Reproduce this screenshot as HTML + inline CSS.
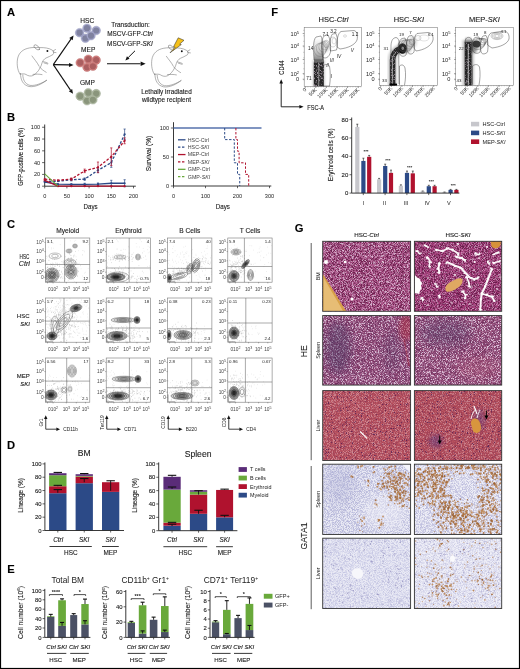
<!DOCTYPE html><html><head><meta charset="utf-8"><style>html,body{margin:0;padding:0;background:#fff;}svg{display:block; will-change:transform;} text{font-family:"Liberation Sans", sans-serif;} .s{stroke:#222; stroke-width:0.12px;}</style></head><body>
<svg width="520" height="669" viewBox="0 0 520 669" font-family="Liberation Sans, sans-serif">
<defs>
<filter id="b05" x="-50%" y="-50%" width="200%" height="200%"><feGaussianBlur stdDeviation="0.5"/></filter>
<filter id="b1" x="-50%" y="-50%" width="200%" height="200%"><feGaussianBlur stdDeviation="1"/></filter>
<filter id="b2" x="-50%" y="-50%" width="200%" height="200%"><feGaussianBlur stdDeviation="2"/></filter>
<filter id="b4" x="-50%" y="-50%" width="200%" height="200%"><feGaussianBlur stdDeviation="4"/></filter>
<filter id="b6" x="-50%" y="-50%" width="200%" height="200%"><feGaussianBlur stdDeviation="6"/></filter>
<filter id="swhite" x="0" y="0" width="100%" height="100%" color-interpolation-filters="sRGB"><feTurbulence type="fractalNoise" baseFrequency="1.31" numOctaves="2" seed="3"/><feColorMatrix type="matrix" values="0 0 0 0 0.922 0 0 0 0 0.843 0 0 0 0 0.922 6 0 0 0 -3.1"/><feGaussianBlur stdDeviation="0.45"/></filter>
<filter id="sdark" x="0" y="0" width="100%" height="100%" color-interpolation-filters="sRGB"><feTurbulence type="fractalNoise" baseFrequency="1.27" numOctaves="2" seed="11"/><feColorMatrix type="matrix" values="0 0 0 0 0.314 0 0 0 0 0.118 0 0 0 0 0.314 0 5 0 0 -2.1"/><feGaussianBlur stdDeviation="0.45"/></filter>
<filter id="spink" x="0" y="0" width="100%" height="100%" color-interpolation-filters="sRGB"><feTurbulence type="fractalNoise" baseFrequency="0.63" numOctaves="2" seed="5"/><feColorMatrix type="matrix" values="0 0 0 0 0.784 0 0 0 0 0.471 0 0 0 0 0.667 0 0 3 0 -1.2"/><feGaussianBlur stdDeviation="0.45"/></filter>
<filter id="sdarkr" x="0" y="0" width="100%" height="100%" color-interpolation-filters="sRGB"><feTurbulence type="fractalNoise" baseFrequency="1.27" numOctaves="2" seed="17"/><feColorMatrix type="matrix" values="0 0 0 0 0.392 0 0 0 0 0.098 0 0 0 0 0.275 0 5 0 0 -2.1"/><feGaussianBlur stdDeviation="0.45"/></filter>
<filter id="snuc" x="0" y="0" width="100%" height="100%" color-interpolation-filters="sRGB"><feTurbulence type="fractalNoise" baseFrequency="1.33" numOctaves="1" seed="41"/><feColorMatrix type="matrix" values="0 0 0 0 0.353 0 0 0 0 0.137 0 0 0 0 0.333 0 10 0 0 -6.4"/><feGaussianBlur stdDeviation="0.3"/></filter>
<filter id="spinkl" x="0" y="0" width="100%" height="100%" color-interpolation-filters="sRGB"><feTurbulence type="fractalNoise" baseFrequency="0.9" numOctaves="2" seed="43"/><feColorMatrix type="matrix" values="0 0 0 0 0.588 0 0 0 0 0.235 0 0 0 0 0.333 4 0 0 0 -1.6"/><feGaussianBlur stdDeviation="0.5"/></filter>
<filter id="sdarkl" x="0" y="0" width="100%" height="100%" color-interpolation-filters="sRGB"><feTurbulence type="fractalNoise" baseFrequency="1.27" numOctaves="2" seed="13"/><feColorMatrix type="matrix" values="0 0 0 0 0.471 0 0 0 0 0.157 0 0 0 0 0.235 0 5 0 0 -2.2"/><feGaussianBlur stdDeviation="0.45"/></filter>
<filter id="swhitel" x="0" y="0" width="100%" height="100%" color-interpolation-filters="sRGB"><feTurbulence type="fractalNoise" baseFrequency="1.31" numOctaves="2" seed="4"/><feColorMatrix type="matrix" values="0 0 0 0 0.961 0 0 0 0 0.824 0 0 0 0 0.824 6 0 0 0 -2.9"/><feGaussianBlur stdDeviation="0.45"/></filter>
<filter id="sbrown" x="0" y="0" width="100%" height="100%" color-interpolation-filters="sRGB"><feTurbulence type="fractalNoise" baseFrequency="0.83" numOctaves="2" seed="21"/><feColorMatrix type="matrix" values="0 0 0 0 0.627 0 0 0 0 0.373 0 0 0 0 0.157 9 0 0 0 -4.0"/><feGaussianBlur stdDeviation="0.45"/></filter>
<filter id="sbrown2" x="0" y="0" width="100%" height="100%" color-interpolation-filters="sRGB"><feTurbulence type="fractalNoise" baseFrequency="0.87" numOctaves="2" seed="23"/><feColorMatrix type="matrix" values="0 0 0 0 0.588 0 0 0 0 0.333 0 0 0 0 0.137 0 8 0 0 -3.4"/><feGaussianBlur stdDeviation="0.45"/></filter>
<filter id="slav" x="0" y="0" width="100%" height="100%" color-interpolation-filters="sRGB"><feTurbulence type="fractalNoise" baseFrequency="1.21" numOctaves="2" seed="8"/><feColorMatrix type="matrix" values="0 0 0 0 0.647 0 0 0 0 0.647 0 0 0 0 0.824 5 0 0 0 -2.2"/><feGaussianBlur stdDeviation="0.45"/></filter>
<filter id="swl" x="0" y="0" width="100%" height="100%" color-interpolation-filters="sRGB"><feTurbulence type="fractalNoise" baseFrequency="1.17" numOctaves="2" seed="9"/><feColorMatrix type="matrix" values="0 0 0 0 0.973 0 0 0 0 0.973 0 0 0 0 0.988 0 0 5 0 -2.0"/><feGaussianBlur stdDeviation="0.45"/></filter>
<filter id="sdot" x="0" y="0" width="100%" height="100%" color-interpolation-filters="sRGB"><feTurbulence type="fractalNoise" baseFrequency="1.33" numOctaves="1" seed="31"/><feColorMatrix type="matrix" values="0 0 0 0 0.471 0 0 0 0 0.431 0 0 0 0 0.667 0 10 0 0 -6.2"/><feGaussianBlur stdDeviation="0.45"/></filter>
<filter id="sbdot" x="0" y="0" width="100%" height="100%" color-interpolation-filters="sRGB"><feTurbulence type="fractalNoise" baseFrequency="1.37" numOctaves="1" seed="37"/><feColorMatrix type="matrix" values="0 0 0 0 0.588 0 0 0 0 0.353 0 0 0 0 0.176 10 0 0 0 -6.3"/><feGaussianBlur stdDeviation="0.45"/></filter>
<linearGradient id="gup" x1="0" y1="1" x2="0" y2="0"><stop offset="0" stop-color="#333" stop-opacity="0.7"/><stop offset="0.5" stop-color="#666" stop-opacity="0.35"/><stop offset="1" stop-color="#888" stop-opacity="0"/></linearGradient>
</defs>
<rect x="0.00" y="0.00" width="520.00" height="669.00" fill="#fff" />
<text class="s" x="7.00" y="16.20" font-size="11.2" text-anchor="start" font-weight="bold" font-style="normal" fill="#000" >A</text>
<g transform="translate(14,40) scale(1.0)" fill="none" stroke="#666" stroke-width="0.5" stroke-linecap="round" stroke-linejoin="round">
<path d="M6,34 C3,30 2.5,22 4,17 C6,11 11,8.2 18,7.6 C21,7.3 24,7.6 26,7.6 C30,7.5 35,8 38,10 C40,11 40.2,13 39,14.5 C37,16 34,17 32,18 C30,19 28.6,21 28,23 C27.5,25 27,26 26,28 C24.5,31 22,34 19,35.5 C17,36.5 14,36 12,34.5 C10.5,33.5 8.5,34 6,34"/>
<path d="M6.5,33.5 C6.5,40 9,45 15,46.5 C21,47.5 28,44 32.6,40.3"/>
<path d="M8.8,35 C9,40 11,44 16,45.4 C22,46 28,43 32.6,40.3"/>
<ellipse cx="22.8" cy="7.4" rx="3.4" ry="1.7" transform="rotate(40 22.8 7.4)"/>
<path d="M29,21.6 C31,22 33,22.6 34,23.3 M30,22.9 L33.6,24"/>
<path d="M25.6,27 C27,29 30,31 32.2,32.3"/>
<path d="M19,34.4 C22,34 25,34 28,34.6"/>
<path d="M18,16 C20,19 23,22 25,26"/>
<path d="M39,11 L41.5,9.5 M39.4,12.2 L42,12.6"/>
</g>
<circle cx="47.40" cy="51.00" r="0.95" fill="#111"/>
<line x1="53.30" y1="64.60" x2="70.94" y2="39.10" stroke="#111" stroke-width="1.1" />
<polygon points="73.50,35.40 72.61,40.25 69.27,37.95" fill="#111"/>
<line x1="53.30" y1="64.60" x2="69.00" y2="64.91" stroke="#111" stroke-width="1.1" />
<polygon points="73.50,65.00 68.96,66.94 69.04,62.89" fill="#111"/>
<line x1="53.30" y1="64.60" x2="70.48" y2="90.07" stroke="#111" stroke-width="1.1" />
<polygon points="73.00,93.80 68.80,91.20 72.16,88.94" fill="#111"/>
<text class="s" x="87.30" y="22.60" font-size="6.6" text-anchor="middle" font-weight="normal" font-style="normal" fill="#222" >HSC</text>
<text class="s" x="88.20" y="52.30" font-size="6.6" text-anchor="middle" font-weight="normal" font-style="normal" fill="#222" >MEP</text>
<text class="s" x="87.40" y="84.90" font-size="6.6" text-anchor="middle" font-weight="normal" font-style="normal" fill="#222" >GMP</text>
<circle cx="79.60" cy="32.70" r="4.3" fill="#a6a8cc" stroke="#8c8eb5" stroke-width="0.4"/>
<circle cx="79.60" cy="32.70" r="3.1" fill="#7f819f"/>
<circle cx="87.00" cy="28.20" r="4.3" fill="#a6a8cc" stroke="#8c8eb5" stroke-width="0.4"/>
<circle cx="87.00" cy="28.20" r="3.1" fill="#7f819f"/>
<circle cx="96.20" cy="30.50" r="4.3" fill="#a6a8cc" stroke="#8c8eb5" stroke-width="0.4"/>
<circle cx="96.20" cy="30.50" r="3.1" fill="#7f819f"/>
<circle cx="85.40" cy="38.30" r="4.3" fill="#a6a8cc" stroke="#8c8eb5" stroke-width="0.4"/>
<circle cx="85.40" cy="38.30" r="3.1" fill="#7f819f"/>
<circle cx="91.00" cy="35.70" r="4.3" fill="#a6a8cc" stroke="#8c8eb5" stroke-width="0.4"/>
<circle cx="91.00" cy="35.70" r="3.1" fill="#7f819f"/>
<circle cx="80.20" cy="62.70" r="4.3" fill="#d3807f" stroke="#b86a6a" stroke-width="0.4"/>
<circle cx="80.20" cy="62.70" r="3.1" fill="#ab5e60"/>
<circle cx="88.30" cy="59.20" r="4.3" fill="#d3807f" stroke="#b86a6a" stroke-width="0.4"/>
<circle cx="88.30" cy="59.20" r="3.1" fill="#ab5e60"/>
<circle cx="96.20" cy="60.10" r="4.3" fill="#d3807f" stroke="#b86a6a" stroke-width="0.4"/>
<circle cx="96.20" cy="60.10" r="3.1" fill="#ab5e60"/>
<circle cx="87.00" cy="67.30" r="4.3" fill="#d3807f" stroke="#b86a6a" stroke-width="0.4"/>
<circle cx="87.00" cy="67.30" r="3.1" fill="#ab5e60"/>
<circle cx="92.90" cy="66.30" r="4.3" fill="#d3807f" stroke="#b86a6a" stroke-width="0.4"/>
<circle cx="92.90" cy="66.30" r="3.1" fill="#ab5e60"/>
<circle cx="80.20" cy="96.20" r="4.3" fill="#adb79f" stroke="#96a18a" stroke-width="0.4"/>
<circle cx="80.20" cy="96.20" r="3.1" fill="#8a957c"/>
<circle cx="88.30" cy="92.70" r="4.3" fill="#adb79f" stroke="#96a18a" stroke-width="0.4"/>
<circle cx="88.30" cy="92.70" r="3.1" fill="#8a957c"/>
<circle cx="96.20" cy="93.60" r="4.3" fill="#adb79f" stroke="#96a18a" stroke-width="0.4"/>
<circle cx="96.20" cy="93.60" r="3.1" fill="#8a957c"/>
<circle cx="87.00" cy="100.80" r="4.3" fill="#adb79f" stroke="#96a18a" stroke-width="0.4"/>
<circle cx="87.00" cy="100.80" r="3.1" fill="#8a957c"/>
<circle cx="92.90" cy="99.80" r="4.3" fill="#adb79f" stroke="#96a18a" stroke-width="0.4"/>
<circle cx="92.90" cy="99.80" r="3.1" fill="#8a957c"/>
<text class="s" x="130.50" y="27.30" font-size="6.4" text-anchor="middle" font-weight="normal" font-style="normal" fill="#222" >Transduction:</text>
<text class="s" x="130.00" y="36.30" font-size="6.4" text-anchor="middle" font-weight="normal" font-style="normal" fill="#222" >MSCV-GFP-<tspan font-style="italic">Ctrl</tspan></text>
<text class="s" x="130.00" y="45.60" font-size="6.4" text-anchor="middle" font-weight="normal" font-style="normal" fill="#222" >MSCV-GFP-<tspan font-style="italic">SKI</tspan></text>
<line x1="135.00" y1="50.80" x2="128.23" y2="57.57" stroke="#111" stroke-width="1.0" />
<polygon points="125.40,60.40 126.96,56.30 129.50,58.84" fill="#111"/>
<line x1="107.00" y1="63.80" x2="140.60" y2="63.80" stroke="#111" stroke-width="1.1" />
<polygon points="145.60,63.80 140.60,66.05 140.60,61.55" fill="#111"/>
<g transform="translate(148.4,40.3) scale(1.0)" fill="none" stroke="#666" stroke-width="0.5" stroke-linecap="round" stroke-linejoin="round">
<path d="M6,34 C3,30 2.5,22 4,17 C6,11 11,8.2 18,7.6 C21,7.3 24,7.6 26,7.6 C30,7.5 35,8 38,10 C40,11 40.2,13 39,14.5 C37,16 34,17 32,18 C30,19 28.6,21 28,23 C27.5,25 27,26 26,28 C24.5,31 22,34 19,35.5 C17,36.5 14,36 12,34.5 C10.5,33.5 8.5,34 6,34"/>
<path d="M6.5,33.5 C6.5,40 9,45 15,46.5 C21,47.5 28,44 32.6,40.3"/>
<path d="M8.8,35 C9,40 11,44 16,45.4 C22,46 28,43 32.6,40.3"/>
<ellipse cx="22.8" cy="7.4" rx="3.4" ry="1.7" transform="rotate(40 22.8 7.4)"/>
<path d="M29,21.6 C31,22 33,22.6 34,23.3 M30,22.9 L33.6,24"/>
<path d="M25.6,27 C27,29 30,31 32.2,32.3"/>
<path d="M19,34.4 C22,34 25,34 28,34.6"/>
<path d="M18,16 C20,19 23,22 25,26"/>
<path d="M39,11 L41.5,9.5 M39.4,12.2 L42,12.6"/>
</g>
<circle cx="181.80" cy="51.30" r="0.95" fill="#111"/>
<polygon points="178.2,37.8 184,40.3 179.7,44.1 181.3,44.6 170,52.8 175.2,47.2 173.5,46.8" fill="#f5c01a" stroke="#222" stroke-width="0.5" stroke-linejoin="round"/>
<text class="s" x="166.50" y="93.50" font-size="6.4" text-anchor="middle" font-weight="normal" font-style="normal" fill="#222" >Lethally irradiated</text>
<text class="s" x="166.50" y="101.50" font-size="6.4" text-anchor="middle" font-weight="normal" font-style="normal" fill="#222" >wildtype recipient</text>
<text class="s" x="7.00" y="120.90" font-size="11.2" text-anchor="start" font-weight="bold" font-style="normal" fill="#000" >B</text>
<line x1="44.70" y1="124.50" x2="44.70" y2="186.20" stroke="#222" stroke-width="0.9" />
<line x1="44.70" y1="186.20" x2="135.80" y2="186.20" stroke="#222" stroke-width="0.9" />
<line x1="42.10" y1="186.20" x2="44.70" y2="186.20" stroke="#222" stroke-width="0.7" />
<text x="40.20" y="188.10" font-size="5.6" text-anchor="end" font-weight="normal" font-style="normal" fill="#222" >0</text>
<line x1="42.10" y1="174.41" x2="44.70" y2="174.41" stroke="#222" stroke-width="0.7" />
<text x="40.20" y="176.31" font-size="5.6" text-anchor="end" font-weight="normal" font-style="normal" fill="#222" >20</text>
<line x1="42.10" y1="162.62" x2="44.70" y2="162.62" stroke="#222" stroke-width="0.7" />
<text x="40.20" y="164.52" font-size="5.6" text-anchor="end" font-weight="normal" font-style="normal" fill="#222" >40</text>
<line x1="42.10" y1="150.83" x2="44.70" y2="150.83" stroke="#222" stroke-width="0.7" />
<text x="40.20" y="152.73" font-size="5.6" text-anchor="end" font-weight="normal" font-style="normal" fill="#222" >60</text>
<line x1="42.10" y1="139.04" x2="44.70" y2="139.04" stroke="#222" stroke-width="0.7" />
<text x="40.20" y="140.94" font-size="5.6" text-anchor="end" font-weight="normal" font-style="normal" fill="#222" >80</text>
<line x1="42.10" y1="127.25" x2="44.70" y2="127.25" stroke="#222" stroke-width="0.7" />
<text x="40.20" y="129.15" font-size="5.6" text-anchor="end" font-weight="normal" font-style="normal" fill="#222" >100</text>
<line x1="44.70" y1="186.20" x2="44.70" y2="188.40" stroke="#222" stroke-width="0.7" />
<text x="44.70" y="197.70" font-size="5.6" text-anchor="middle" font-weight="normal" font-style="normal" fill="#222" >0</text>
<line x1="66.90" y1="186.20" x2="66.90" y2="188.40" stroke="#222" stroke-width="0.7" />
<text x="66.90" y="197.70" font-size="5.6" text-anchor="middle" font-weight="normal" font-style="normal" fill="#222" >50</text>
<line x1="89.10" y1="186.20" x2="89.10" y2="188.40" stroke="#222" stroke-width="0.7" />
<text x="89.10" y="197.70" font-size="5.6" text-anchor="middle" font-weight="normal" font-style="normal" fill="#222" >100</text>
<line x1="111.30" y1="186.20" x2="111.30" y2="188.40" stroke="#222" stroke-width="0.7" />
<text x="111.30" y="197.70" font-size="5.6" text-anchor="middle" font-weight="normal" font-style="normal" fill="#222" >150</text>
<line x1="133.50" y1="186.20" x2="133.50" y2="188.40" stroke="#222" stroke-width="0.7" />
<text x="133.50" y="197.70" font-size="5.6" text-anchor="middle" font-weight="normal" font-style="normal" fill="#222" >200</text>
<text class="s" transform="translate(90.60,208.60) scale(0.85,1)" font-size="7.3" text-anchor="middle" font-weight="normal" font-style="normal" fill="#222" >Days</text>
<text class="s" transform="translate(22.90,156.80) rotate(-90) scale(0.84,1)" font-size="7.0" text-anchor="middle" font-style="normal" font-weight="normal" fill="#222">GFP-positive cells (%)</text>
<polyline points="44.70,181.48 58.02,181.19 71.34,179.72 84.66,179.13 97.98,170.28 111.30,162.62 124.62,134.32" fill="none" stroke="#2c4a87" stroke-width="1.3" stroke-dasharray="2.6,1.6"/>
<circle cx="44.70" cy="181.48" r="1.1" fill="#2c4a87"/>
<circle cx="58.02" cy="181.19" r="1.1" fill="#2c4a87"/>
<circle cx="71.34" cy="179.72" r="1.1" fill="#2c4a87"/>
<line x1="71.34" y1="180.89" x2="71.34" y2="178.54" stroke="#2c4a87" stroke-width="0.7" />
<line x1="70.24" y1="178.54" x2="72.44" y2="178.54" stroke="#2c4a87" stroke-width="0.7" />
<line x1="70.24" y1="180.89" x2="72.44" y2="180.89" stroke="#2c4a87" stroke-width="0.7" />
<circle cx="84.66" cy="179.13" r="1.1" fill="#2c4a87"/>
<line x1="84.66" y1="180.30" x2="84.66" y2="177.95" stroke="#2c4a87" stroke-width="0.7" />
<line x1="83.56" y1="177.95" x2="85.76" y2="177.95" stroke="#2c4a87" stroke-width="0.7" />
<line x1="83.56" y1="180.30" x2="85.76" y2="180.30" stroke="#2c4a87" stroke-width="0.7" />
<circle cx="97.98" cy="170.28" r="1.1" fill="#2c4a87"/>
<line x1="97.98" y1="172.64" x2="97.98" y2="167.93" stroke="#2c4a87" stroke-width="0.7" />
<line x1="96.88" y1="167.93" x2="99.08" y2="167.93" stroke="#2c4a87" stroke-width="0.7" />
<line x1="96.88" y1="172.64" x2="99.08" y2="172.64" stroke="#2c4a87" stroke-width="0.7" />
<circle cx="111.30" cy="162.62" r="1.1" fill="#2c4a87"/>
<line x1="111.30" y1="167.34" x2="111.30" y2="157.90" stroke="#2c4a87" stroke-width="0.7" />
<line x1="110.20" y1="157.90" x2="112.40" y2="157.90" stroke="#2c4a87" stroke-width="0.7" />
<line x1="110.20" y1="167.34" x2="112.40" y2="167.34" stroke="#2c4a87" stroke-width="0.7" />
<circle cx="124.62" cy="134.32" r="1.1" fill="#2c4a87"/>
<line x1="124.62" y1="139.63" x2="124.62" y2="129.02" stroke="#2c4a87" stroke-width="0.7" />
<line x1="123.52" y1="129.02" x2="125.72" y2="129.02" stroke="#2c4a87" stroke-width="0.7" />
<line x1="123.52" y1="139.63" x2="125.72" y2="139.63" stroke="#2c4a87" stroke-width="0.7" />
<polyline points="44.70,179.13 58.02,180.30 71.34,179.13 84.66,170.87 97.98,167.34 111.30,156.72 124.62,140.81" fill="none" stroke="#b0122e" stroke-width="1.3" stroke-dasharray="2.6,1.6"/>
<circle cx="44.70" cy="179.13" r="1.1" fill="#b0122e"/>
<circle cx="58.02" cy="180.30" r="1.1" fill="#b0122e"/>
<circle cx="71.34" cy="179.13" r="1.1" fill="#b0122e"/>
<line x1="71.34" y1="180.30" x2="71.34" y2="177.95" stroke="#b0122e" stroke-width="0.7" />
<line x1="70.24" y1="177.95" x2="72.44" y2="177.95" stroke="#b0122e" stroke-width="0.7" />
<line x1="70.24" y1="180.30" x2="72.44" y2="180.30" stroke="#b0122e" stroke-width="0.7" />
<circle cx="84.66" cy="170.87" r="1.1" fill="#b0122e"/>
<line x1="84.66" y1="172.64" x2="84.66" y2="169.10" stroke="#b0122e" stroke-width="0.7" />
<line x1="83.56" y1="169.10" x2="85.76" y2="169.10" stroke="#b0122e" stroke-width="0.7" />
<line x1="83.56" y1="172.64" x2="85.76" y2="172.64" stroke="#b0122e" stroke-width="0.7" />
<circle cx="97.98" cy="167.34" r="1.1" fill="#b0122e"/>
<line x1="97.98" y1="172.64" x2="97.98" y2="162.03" stroke="#b0122e" stroke-width="0.7" />
<line x1="96.88" y1="162.03" x2="99.08" y2="162.03" stroke="#b0122e" stroke-width="0.7" />
<line x1="96.88" y1="172.64" x2="99.08" y2="172.64" stroke="#b0122e" stroke-width="0.7" />
<circle cx="111.30" cy="156.72" r="1.1" fill="#b0122e"/>
<line x1="111.30" y1="165.57" x2="111.30" y2="147.88" stroke="#b0122e" stroke-width="0.7" />
<line x1="110.20" y1="147.88" x2="112.40" y2="147.88" stroke="#b0122e" stroke-width="0.7" />
<line x1="110.20" y1="165.57" x2="112.40" y2="165.57" stroke="#b0122e" stroke-width="0.7" />
<circle cx="124.62" cy="140.81" r="1.1" fill="#b0122e"/>
<line x1="124.62" y1="143.76" x2="124.62" y2="137.86" stroke="#b0122e" stroke-width="0.7" />
<line x1="123.52" y1="137.86" x2="125.72" y2="137.86" stroke="#b0122e" stroke-width="0.7" />
<line x1="123.52" y1="143.76" x2="125.72" y2="143.76" stroke="#b0122e" stroke-width="0.7" />
<polyline points="44.70,182.07 58.02,184.14 71.34,184.43 84.66,184.43 97.98,184.14 111.30,183.25 124.62,183.25" fill="none" stroke="#2c4a87" stroke-width="1.3" />
<circle cx="44.70" cy="182.07" r="1.1" fill="#2c4a87"/>
<circle cx="58.02" cy="184.14" r="1.1" fill="#2c4a87"/>
<circle cx="71.34" cy="184.43" r="1.1" fill="#2c4a87"/>
<line x1="71.34" y1="185.02" x2="71.34" y2="183.84" stroke="#2c4a87" stroke-width="0.7" />
<line x1="70.24" y1="183.84" x2="72.44" y2="183.84" stroke="#2c4a87" stroke-width="0.7" />
<line x1="70.24" y1="185.02" x2="72.44" y2="185.02" stroke="#2c4a87" stroke-width="0.7" />
<circle cx="84.66" cy="184.43" r="1.1" fill="#2c4a87"/>
<line x1="84.66" y1="185.61" x2="84.66" y2="183.25" stroke="#2c4a87" stroke-width="0.7" />
<line x1="83.56" y1="183.25" x2="85.76" y2="183.25" stroke="#2c4a87" stroke-width="0.7" />
<line x1="83.56" y1="185.61" x2="85.76" y2="185.61" stroke="#2c4a87" stroke-width="0.7" />
<circle cx="97.98" cy="184.14" r="1.1" fill="#2c4a87"/>
<line x1="97.98" y1="185.32" x2="97.98" y2="182.96" stroke="#2c4a87" stroke-width="0.7" />
<line x1="96.88" y1="182.96" x2="99.08" y2="182.96" stroke="#2c4a87" stroke-width="0.7" />
<line x1="96.88" y1="185.32" x2="99.08" y2="185.32" stroke="#2c4a87" stroke-width="0.7" />
<circle cx="111.30" cy="183.25" r="1.1" fill="#2c4a87"/>
<line x1="111.30" y1="186.20" x2="111.30" y2="180.30" stroke="#2c4a87" stroke-width="0.7" />
<line x1="110.20" y1="180.30" x2="112.40" y2="180.30" stroke="#2c4a87" stroke-width="0.7" />
<line x1="110.20" y1="186.20" x2="112.40" y2="186.20" stroke="#2c4a87" stroke-width="0.7" />
<circle cx="124.62" cy="183.25" r="1.1" fill="#2c4a87"/>
<line x1="124.62" y1="186.79" x2="124.62" y2="179.72" stroke="#2c4a87" stroke-width="0.7" />
<line x1="123.52" y1="179.72" x2="125.72" y2="179.72" stroke="#2c4a87" stroke-width="0.7" />
<line x1="123.52" y1="186.79" x2="125.72" y2="186.79" stroke="#2c4a87" stroke-width="0.7" />
<polyline points="44.70,180.30 58.02,186.20 71.34,186.20 84.66,186.20 97.98,186.20 111.30,186.20 124.62,186.20" fill="none" stroke="#b0122e" stroke-width="1.3" />
<circle cx="44.70" cy="180.30" r="1.1" fill="#b0122e"/>
<circle cx="58.02" cy="186.20" r="1.1" fill="#b0122e"/>
<circle cx="71.34" cy="186.20" r="1.1" fill="#b0122e"/>
<circle cx="84.66" cy="186.20" r="1.1" fill="#b0122e"/>
<circle cx="97.98" cy="186.20" r="1.1" fill="#b0122e"/>
<circle cx="111.30" cy="186.20" r="1.1" fill="#b0122e"/>
<circle cx="124.62" cy="186.20" r="1.1" fill="#b0122e"/>
<polyline points="44.70,173.82 58.02,186.20" fill="none" stroke="#69a93b" stroke-width="1.1"/>
<line x1="173.50" y1="122.20" x2="173.50" y2="186.00" stroke="#222" stroke-width="0.9" />
<line x1="173.50" y1="186.00" x2="271.30" y2="186.00" stroke="#222" stroke-width="0.9" />
<line x1="170.90" y1="186.00" x2="173.50" y2="186.00" stroke="#222" stroke-width="0.7" />
<text x="169.00" y="187.90" font-size="5.6" text-anchor="end" font-weight="normal" font-style="normal" fill="#222" >0</text>
<line x1="170.90" y1="157.00" x2="173.50" y2="157.00" stroke="#222" stroke-width="0.7" />
<text x="169.00" y="158.90" font-size="5.6" text-anchor="end" font-weight="normal" font-style="normal" fill="#222" >50</text>
<line x1="170.90" y1="128.00" x2="173.50" y2="128.00" stroke="#222" stroke-width="0.7" />
<text x="169.00" y="129.90" font-size="5.6" text-anchor="end" font-weight="normal" font-style="normal" fill="#222" >100</text>
<line x1="173.50" y1="186.00" x2="173.50" y2="188.20" stroke="#222" stroke-width="0.7" />
<text x="173.50" y="197.70" font-size="5.6" text-anchor="middle" font-weight="normal" font-style="normal" fill="#222" >0</text>
<line x1="205.50" y1="186.00" x2="205.50" y2="188.20" stroke="#222" stroke-width="0.7" />
<text x="205.50" y="197.70" font-size="5.6" text-anchor="middle" font-weight="normal" font-style="normal" fill="#222" >100</text>
<line x1="237.50" y1="186.00" x2="237.50" y2="188.20" stroke="#222" stroke-width="0.7" />
<text x="237.50" y="197.70" font-size="5.6" text-anchor="middle" font-weight="normal" font-style="normal" fill="#222" >200</text>
<line x1="269.50" y1="186.00" x2="269.50" y2="188.20" stroke="#222" stroke-width="0.7" />
<text x="269.50" y="197.70" font-size="5.6" text-anchor="middle" font-weight="normal" font-style="normal" fill="#222" >300</text>
<text class="s" transform="translate(222.80,208.60) scale(0.85,1)" font-size="7.3" text-anchor="middle" font-weight="normal" font-style="normal" fill="#222" >Days</text>
<text class="s" transform="translate(150.80,153.50) rotate(-90) scale(0.98,1)" font-size="6.7" text-anchor="middle" font-style="normal" font-weight="normal" fill="#222">Survival (%)</text>
<line x1="173.50" y1="128.00" x2="261.50" y2="128.00" stroke="#5672ac" stroke-width="1.4" />
<polyline points="224.70,128.00 224.70,139.60 234.30,139.60 234.30,162.80 237.50,162.80 237.50,174.40 239.74,174.40 239.74,186.00" fill="none" stroke="#2c4a87" stroke-width="1.0" stroke-dasharray="2.4,1.6"/>
<polyline points="235.90,128.00 235.90,139.60 237.50,139.60 237.50,151.20 239.10,151.20 239.10,162.80 245.50,162.80 245.50,174.40 248.70,174.40 248.70,186.00" fill="none" stroke="#b0122e" stroke-width="1.0" stroke-dasharray="2.4,1.6"/>
<line x1="178" y1="139.80" x2="185.5" y2="139.80" stroke="#2c4a87" stroke-width="1.3" />
<text x="187.80" y="141.60" font-size="5.3" text-anchor="start" font-weight="normal" font-style="normal" fill="#444" >HSC-Ctrl</text>
<line x1="178" y1="147.18" x2="185.5" y2="147.18" stroke="#2c4a87" stroke-width="1.3" stroke-dasharray="2.4,1.6"/>
<text x="187.80" y="148.98" font-size="5.3" text-anchor="start" font-weight="normal" font-style="normal" fill="#444" >HSC-<tspan font-style="italic">SKI</tspan></text>
<line x1="178" y1="154.56" x2="185.5" y2="154.56" stroke="#b0122e" stroke-width="1.3" />
<text x="187.80" y="156.36" font-size="5.3" text-anchor="start" font-weight="normal" font-style="normal" fill="#444" >MEP-Ctrl</text>
<line x1="178" y1="161.94" x2="185.5" y2="161.94" stroke="#b0122e" stroke-width="1.3" stroke-dasharray="2.4,1.6"/>
<text x="187.80" y="163.74" font-size="5.3" text-anchor="start" font-weight="normal" font-style="normal" fill="#444" >MEP-<tspan font-style="italic">SKI</tspan></text>
<line x1="178" y1="169.32" x2="185.5" y2="169.32" stroke="#69a93b" stroke-width="1.3" />
<text x="187.80" y="171.12" font-size="5.3" text-anchor="start" font-weight="normal" font-style="normal" fill="#444" >GMP-Ctrl</text>
<line x1="178" y1="176.70" x2="185.5" y2="176.70" stroke="#69a93b" stroke-width="1.3" stroke-dasharray="2.4,1.6"/>
<text x="187.80" y="178.50" font-size="5.3" text-anchor="start" font-weight="normal" font-style="normal" fill="#444" >GMP-<tspan font-style="italic">SKI</tspan></text>
<text class="s" x="6.90" y="227.70" font-size="11.2" text-anchor="start" font-weight="bold" font-style="normal" fill="#000" >C</text>
<text class="s" x="67.70" y="233.00" font-size="6.6" text-anchor="middle" font-weight="normal" font-style="normal" fill="#222" >Myeloid</text>
<text class="s" x="128.40" y="233.00" font-size="6.6" text-anchor="middle" font-weight="normal" font-style="normal" fill="#222" >Erythroid</text>
<text class="s" x="189.80" y="233.00" font-size="6.6" text-anchor="middle" font-weight="normal" font-style="normal" fill="#222" >B Cells</text>
<text class="s" x="250.00" y="233.00" font-size="6.6" text-anchor="middle" font-weight="normal" font-style="normal" fill="#222" >T Cells</text>
<text class="s" transform="translate(29.30,258.60) scale(0.7,1)" font-size="6.6" text-anchor="end" font-weight="normal" font-style="normal" fill="#222" >HSC</text>
<text class="s" transform="translate(29.80,266.00) scale(1.1,1)" font-size="6.4" text-anchor="end" font-weight="normal" font-style="normal" fill="#222" ><tspan font-style="italic">Ctrl</tspan></text>
<text class="s" x="29.50" y="317.80" font-size="6.0" text-anchor="end" font-weight="normal" font-style="normal" fill="#222" >HSC</text>
<text class="s" x="29.80" y="325.60" font-size="6.0" text-anchor="end" font-weight="normal" font-style="normal" fill="#222" ><tspan font-style="italic">SKI</tspan></text>
<text class="s" x="29.80" y="377.80" font-size="6.0" text-anchor="end" font-weight="normal" font-style="normal" fill="#222" >MEP</text>
<text class="s" x="29.80" y="386.00" font-size="6.0" text-anchor="end" font-weight="normal" font-style="normal" fill="#222" ><tspan font-style="italic">SKI</tspan></text>
<rect x="45.50" y="238.00" width="44.30" height="44.20" fill="#fff" stroke="#777" stroke-width="0.6"/>
<clipPath id="cp45238"><rect x="45.50" y="238.00" width="44.30" height="44.20"/></clipPath>
<g clip-path="url(#cp45238)">
<path d="M59.9 244.6h0.5M74.5 241.2h0.5M69.3 254.1h0.5M48.1 260.3h0.5M47.2 257.1h0.5M48.6 242.0h0.5M64.4 274.4h0.5M51.0 247.8h0.5M73.4 279.7h0.5M71.2 255.5h0.5M88.9 240.0h0.5M83.7 250.7h0.5M51.9 243.2h0.5M59.2 273.9h0.5M53.5 263.6h0.5M73.9 254.4h0.5M69.9 240.8h0.5M48.2 247.1h0.5M75.8 256.8h0.5M59.5 263.8h0.5M65.7 251.2h0.5M80.8 268.8h0.5M56.4 263.3h0.5M68.9 276.5h0.5M78.0 250.7h0.5M89.1 243.2h0.5M64.1 271.3h0.5M52.3 259.5h0.5M47.2 267.4h0.5M79.5 263.2h0.5M84.5 251.8h0.5M76.4 264.2h0.5M71.3 258.1h0.5M82.9 279.6h0.5M66.6 267.2h0.5M48.2 268.9h0.5M74.3 281.7h0.5M82.1 250.5h0.5M62.7 267.4h0.5M46.5 258.3h0.5M53.0 243.2h0.5M48.1 271.8h0.5M51.3 248.9h0.5M62.9 276.3h0.5M49.1 257.8h0.5M70.0 276.9h0.5M82.0 276.0h0.5M57.9 256.3h0.5M61.5 276.9h0.5M88.1 244.6h0.5M53.3 248.2h0.5M55.9 259.3h0.5M71.7 249.6h0.5M45.7 256.4h0.5M61.9 262.9h0.5M87.9 268.4h0.5M68.4 265.2h0.5M75.6 240.4h0.5M85.5 272.3h0.5M84.4 273.1h0.5" stroke="#555" stroke-width="0.5" opacity="0.35"/>
<path d="M48.1 275.8h0.5M57.6 277.2h0.5M53.7 272.9h0.5M52.8 275.5h0.5M51.1 273.7h0.5M54.9 272.0h0.5M55.8 275.4h0.5M62.1 273.9h0.5M49.9 269.8h0.5M51.9 277.5h0.5M50.3 274.3h0.5M61.2 256.6h0.5M46.4 273.5h0.5M54.0 273.4h0.5M49.8 275.9h0.5M53.4 268.9h0.5M64.2 274.1h0.5M49.2 271.4h0.5M50.9 271.6h0.5M38.4 269.1h0.5M57.0 265.0h0.5M51.7 277.7h0.5M56.3 280.9h0.5M43.5 269.9h0.5M50.3 275.7h0.5M57.5 255.9h0.5M57.4 263.3h0.5M55.4 263.0h0.5M52.9 279.2h0.5M51.3 273.1h0.5M56.0 272.8h0.5M51.6 281.2h0.5M57.2 270.2h0.5M65.7 265.1h0.5M56.6 270.4h0.5M52.7 276.2h0.5M53.1 275.8h0.5M44.4 262.9h0.5M55.1 266.2h0.5M46.9 263.2h0.5M58.3 276.5h0.5M59.4 266.4h0.5M52.0 265.2h0.5M55.8 281.5h0.5M47.5 281.4h0.5M56.9 270.9h0.5M42.1 280.4h0.5M51.5 268.4h0.5M54.0 274.5h0.5M59.5 265.9h0.5M57.7 280.9h0.5M59.3 270.9h0.5M48.3 278.1h0.5M52.6 272.7h0.5M59.1 270.4h0.5M40.5 269.7h0.5M42.7 276.9h0.5M53.6 268.3h0.5M52.0 277.0h0.5M52.4 280.0h0.5M51.7 278.2h0.5M59.5 281.7h0.5M48.6 277.3h0.5M42.6 265.5h0.5M42.2 278.4h0.5M45.8 271.9h0.5M51.0 271.8h0.5M49.0 273.4h0.5M61.0 272.3h0.5M54.7 278.0h0.5M51.0 264.4h0.5M49.2 278.4h0.5M43.8 268.4h0.5M57.0 276.8h0.5M52.0 276.8h0.5M52.8 264.9h0.5M44.2 268.2h0.5M56.6 268.6h0.5M47.5 267.4h0.5M44.3 271.3h0.5M46.1 274.2h0.5M40.2 274.0h0.5M48.8 260.3h0.5M55.6 270.3h0.5M40.8 266.7h0.5M53.5 269.2h0.5M55.9 276.5h0.5M55.3 274.0h0.5M58.7 276.0h0.5M54.3 259.5h0.5M56.5 279.9h0.5M50.5 269.2h0.5M61.7 261.5h0.5M54.3 286.5h0.5M47.4 276.1h0.5M61.4 271.3h0.5M54.8 277.4h0.5M47.5 271.5h0.5M53.5 277.0h0.5M51.8 270.8h0.5M46.9 269.8h0.5M56.5 272.6h0.5M47.7 267.0h0.5M65.3 278.8h0.5M55.2 256.4h0.5M55.1 274.9h0.5M60.4 274.6h0.5M51.7 275.1h0.5M42.3 278.2h0.5M53.6 267.8h0.5M58.6 282.9h0.5M45.0 268.0h0.5M53.5 273.1h0.5M50.0 266.2h0.5M62.6 278.2h0.5M46.0 263.9h0.5M60.5 277.9h0.5M61.1 276.9h0.5M47.6 273.6h0.5M41.2 267.5h0.5M51.7 275.1h0.5M48.4 271.3h0.5M54.3 274.3h0.5M55.2 273.3h0.5M50.4 276.7h0.5M52.2 267.0h0.5M48.9 272.0h0.5M51.5 272.9h0.5M52.0 273.1h0.5M51.3 264.4h0.5M54.1 278.3h0.5M54.2 270.9h0.5M54.2 266.2h0.5M42.5 272.4h0.5M47.3 276.4h0.5M46.6 256.2h0.5M46.8 281.5h0.5M50.1 263.8h0.5M48.2 275.1h0.5M54.5 273.1h0.5M59.4 276.2h0.5M51.9 275.6h0.5M60.3 277.8h0.5M57.1 265.5h0.5M51.3 276.4h0.5M50.5 278.4h0.5M55.0 277.4h0.5M50.9 287.3h0.5M58.2 270.7h0.5M52.5 287.6h0.5M50.3 277.2h0.5M56.9 272.0h0.5M46.2 273.1h0.5M53.8 278.8h0.5M55.9 272.1h0.5M56.3 275.2h0.5M53.0 272.3h0.5M50.8 276.1h0.5M46.7 268.2h0.5M52.0 263.2h0.5" stroke="#444" stroke-width="0.55" opacity="0.55"/>
<path d="M69.3 253.9h0.5M68.3 272.0h0.5M73.3 267.6h0.5M70.1 258.1h0.5M78.3 271.6h0.5M75.4 261.8h0.5M70.3 255.3h0.5M74.1 274.5h0.5M63.4 267.6h0.5M73.5 255.7h0.5M63.7 260.5h0.5M68.5 258.2h0.5M71.1 269.7h0.5M73.5 272.9h0.5M77.0 276.2h0.5M65.8 264.5h0.5M66.8 260.5h0.5M70.7 268.0h0.5M73.0 256.9h0.5M66.0 267.8h0.5M70.2 265.8h0.5M70.7 262.7h0.5M73.8 270.5h0.5M70.6 263.3h0.5M70.3 248.9h0.5M67.1 268.3h0.5M65.0 269.4h0.5M71.6 258.4h0.5M70.0 265.8h0.5M72.8 272.3h0.5M70.9 262.0h0.5M70.4 267.5h0.5M73.9 270.1h0.5M68.1 258.5h0.5M69.5 262.8h0.5M66.6 267.2h0.5M69.0 268.7h0.5M73.1 265.1h0.5M80.3 265.7h0.5M75.4 268.9h0.5M75.5 251.4h0.5M68.0 269.7h0.5M73.4 284.4h0.5M72.3 277.0h0.5M74.1 274.6h0.5M73.0 266.9h0.5M73.0 260.5h0.5M75.7 260.9h0.5M72.0 282.8h0.5M70.1 268.1h0.5M75.7 268.2h0.5M67.8 269.8h0.5M73.3 273.0h0.5M67.9 280.3h0.5M77.7 268.1h0.5M72.1 265.0h0.5M76.7 263.1h0.5M73.7 264.6h0.5M68.2 273.0h0.5M76.3 267.9h0.5M68.3 273.7h0.5M70.8 270.2h0.5M77.1 275.9h0.5M68.9 284.0h0.5M71.0 273.5h0.5M68.4 267.7h0.5M64.0 280.5h0.5M76.5 259.5h0.5M65.0 256.7h0.5M75.7 264.8h0.5M70.8 265.8h0.5M70.5 260.4h0.5M71.1 257.9h0.5M70.7 270.2h0.5M72.9 266.4h0.5M67.4 269.1h0.5M69.1 279.0h0.5M74.1 267.2h0.5M69.1 263.1h0.5M67.3 265.5h0.5M72.2 271.6h0.5M73.3 282.7h0.5M68.2 268.1h0.5M82.2 254.9h0.5M68.9 269.2h0.5M71.6 270.9h0.5M70.0 270.6h0.5M71.2 273.4h0.5M63.4 261.8h0.5M71.0 260.8h0.5M66.8 272.4h0.5M68.4 272.4h0.5M74.0 270.1h0.5M73.0 267.3h0.5M65.4 267.8h0.5M72.8 264.3h0.5M70.6 273.2h0.5M67.5 272.5h0.5M78.5 264.1h0.5M71.6 266.9h0.5M77.2 270.2h0.5M74.6 263.2h0.5M70.9 267.9h0.5M63.9 278.1h0.5M74.6 255.8h0.5M74.0 267.1h0.5M72.8 270.6h0.5M65.0 266.5h0.5M77.0 264.0h0.5M66.9 258.5h0.5M66.1 270.3h0.5M77.8 271.0h0.5M72.0 283.6h0.5M68.9 263.3h0.5M73.1 271.8h0.5M66.9 259.8h0.5M72.2 269.7h0.5M65.8 266.6h0.5M68.8 271.2h0.5M70.5 267.4h0.5" stroke="#444" stroke-width="0.55" opacity="0.55"/>
<g transform="translate(52.00,275.00) rotate(0)">
<ellipse cx="0" cy="0" rx="7.00" ry="7.00" fill="#000" opacity="0.14"/>
<ellipse cx="0" cy="0" rx="4.20" ry="4.20" fill="#000" opacity="0.29" filter="url(#b05)"/>
<ellipse cx="0" cy="0" rx="7.00" ry="7.00" fill="none" stroke="#222" stroke-width="0.45" opacity="0.86"/>
<ellipse cx="0" cy="0" rx="5.68" ry="5.68" fill="none" stroke="#222" stroke-width="0.45" opacity="0.86"/>
<ellipse cx="0" cy="0" rx="4.36" ry="4.36" fill="none" stroke="#222" stroke-width="0.45" opacity="0.86"/>
<ellipse cx="0" cy="0" rx="3.04" ry="3.04" fill="none" stroke="#222" stroke-width="0.45" opacity="0.86"/>
<ellipse cx="0" cy="0" rx="1.72" ry="1.72" fill="none" stroke="#222" stroke-width="0.45" opacity="0.86"/>
</g>
<g transform="translate(70.00,263.00) rotate(0)">
<ellipse cx="0" cy="0" rx="6.00" ry="4.00" fill="none" stroke="#222" stroke-width="0.45" opacity="0.72"/>
<ellipse cx="0" cy="0" rx="4.18" ry="2.79" fill="none" stroke="#222" stroke-width="0.45" opacity="0.72"/>
<ellipse cx="0" cy="0" rx="2.36" ry="1.58" fill="none" stroke="#222" stroke-width="0.45" opacity="0.72"/>
</g>
<g transform="translate(55.00,256.00) rotate(0)">
<ellipse cx="0" cy="0" rx="6.00" ry="3.00" fill="none" stroke="#222" stroke-width="0.45" opacity="0.64"/>
<ellipse cx="0" cy="0" rx="3.39" ry="1.70" fill="none" stroke="#222" stroke-width="0.45" opacity="0.64"/>
</g>
<g transform="translate(69.00,251.00) rotate(0)">
<ellipse cx="0" cy="0" rx="3.00" ry="2.00" fill="none" stroke="#222" stroke-width="0.45" opacity="0.68"/>
<ellipse cx="0" cy="0" rx="2.09" ry="1.39" fill="none" stroke="#222" stroke-width="0.45" opacity="0.68"/>
<ellipse cx="0" cy="0" rx="1.18" ry="0.79" fill="none" stroke="#222" stroke-width="0.45" opacity="0.68"/>
</g>
<g transform="translate(75.00,246.00) rotate(0)">
<ellipse cx="0" cy="0" rx="2.50" ry="2.00" fill="none" stroke="#222" stroke-width="0.45" opacity="0.68"/>
<ellipse cx="0" cy="0" rx="1.74" ry="1.39" fill="none" stroke="#222" stroke-width="0.45" opacity="0.68"/>
<ellipse cx="0" cy="0" rx="0.98" ry="0.79" fill="none" stroke="#222" stroke-width="0.45" opacity="0.68"/>
</g>
<g transform="translate(71.00,272.00) rotate(0)">
<ellipse cx="0" cy="0" rx="6.00" ry="7.00" fill="#000" opacity="0.09"/>
<ellipse cx="0" cy="0" rx="3.60" ry="4.20" fill="#000" opacity="0.18" filter="url(#b05)"/>
<ellipse cx="0" cy="0" rx="6.00" ry="7.00" fill="none" stroke="#222" stroke-width="0.45" opacity="0.76"/>
<ellipse cx="0" cy="0" rx="4.87" ry="5.68" fill="none" stroke="#222" stroke-width="0.45" opacity="0.76"/>
<ellipse cx="0" cy="0" rx="3.74" ry="4.36" fill="none" stroke="#222" stroke-width="0.45" opacity="0.76"/>
<ellipse cx="0" cy="0" rx="2.60" ry="3.04" fill="none" stroke="#222" stroke-width="0.45" opacity="0.76"/>
<ellipse cx="0" cy="0" rx="1.47" ry="1.72" fill="none" stroke="#222" stroke-width="0.45" opacity="0.76"/>
</g>
</g>
<line x1="64.60" y1="238.00" x2="64.60" y2="282.20" stroke="#555" stroke-width="0.5" />
<line x1="45.50" y1="264.50" x2="89.80" y2="264.50" stroke="#555" stroke-width="0.5" />
<text x="46.80" y="243.00" font-size="4.4" text-anchor="start" font-weight="normal" font-style="normal" fill="#222" >3.1</text>
<text x="88.50" y="243.00" font-size="4.4" text-anchor="end" font-weight="normal" font-style="normal" fill="#222" >9.2</text>
<text x="88.20" y="280.40" font-size="4.4" text-anchor="end" font-weight="normal" font-style="normal" fill="#222" >12</text>
<text x="43.70" y="243.80" font-size="4.8" text-anchor="end" font-weight="normal" font-style="normal" fill="#444" >10<tspan dy="-1.6" font-size="3.6">5</tspan></text>
<text x="43.70" y="253.00" font-size="4.8" text-anchor="end" font-weight="normal" font-style="normal" fill="#444" >10<tspan dy="-1.6" font-size="3.6">4</tspan></text>
<text x="43.70" y="263.30" font-size="4.8" text-anchor="end" font-weight="normal" font-style="normal" fill="#444" >10<tspan dy="-1.6" font-size="3.6">3</tspan></text>
<text x="43.70" y="273.70" font-size="4.8" text-anchor="end" font-weight="normal" font-style="normal" fill="#444" >10<tspan dy="-1.6" font-size="3.6">2</tspan></text>
<text x="43.70" y="279.00" font-size="4.8" text-anchor="end" font-weight="normal" font-style="normal" fill="#444" >0</text>
<line x1="44.30" y1="242.40" x2="45.50" y2="242.40" stroke="#444" stroke-width="0.4" />
<line x1="44.30" y1="251.60" x2="45.50" y2="251.60" stroke="#444" stroke-width="0.4" />
<line x1="44.30" y1="260.80" x2="45.50" y2="260.80" stroke="#444" stroke-width="0.4" />
<line x1="44.30" y1="272.20" x2="45.50" y2="272.20" stroke="#444" stroke-width="0.4" />
<line x1="44.30" y1="277.30" x2="45.50" y2="277.30" stroke="#444" stroke-width="0.4" />
<text x="53.10" y="290.60" font-size="4.8" text-anchor="middle" font-weight="normal" font-style="normal" fill="#444" >0<tspan>10</tspan><tspan dy="-1.6" font-size="3.6">2</tspan></text>
<text x="66.30" y="290.60" font-size="4.8" text-anchor="middle" font-weight="normal" font-style="normal" fill="#444" >10<tspan dy="-1.6" font-size="3.6">3</tspan></text>
<text x="76.30" y="290.60" font-size="4.8" text-anchor="middle" font-weight="normal" font-style="normal" fill="#444" >10<tspan dy="-1.6" font-size="3.6">4</tspan></text>
<text x="85.50" y="290.60" font-size="4.8" text-anchor="middle" font-weight="normal" font-style="normal" fill="#444" >10<tspan dy="-1.6" font-size="3.6">5</tspan></text>
<line x1="47.50" y1="282.20" x2="47.50" y2="283.40" stroke="#444" stroke-width="0.4" />
<line x1="53.10" y1="282.20" x2="53.10" y2="283.40" stroke="#444" stroke-width="0.4" />
<line x1="66.30" y1="282.20" x2="66.30" y2="283.40" stroke="#444" stroke-width="0.4" />
<line x1="76.30" y1="282.20" x2="76.30" y2="283.40" stroke="#444" stroke-width="0.4" />
<line x1="85.50" y1="282.20" x2="85.50" y2="283.40" stroke="#444" stroke-width="0.4" />
<line x1="46.30" y1="281.00" x2="46.30" y2="282.20" stroke="#333" stroke-width="0.3" />
<line x1="45.50" y1="281.20" x2="46.70" y2="281.20" stroke="#333" stroke-width="0.3" />
<line x1="47.20" y1="281.00" x2="47.20" y2="282.20" stroke="#333" stroke-width="0.3" />
<line x1="45.50" y1="280.30" x2="46.70" y2="280.30" stroke="#333" stroke-width="0.3" />
<line x1="48.10" y1="281.00" x2="48.10" y2="282.20" stroke="#333" stroke-width="0.3" />
<line x1="45.50" y1="279.40" x2="46.70" y2="279.40" stroke="#333" stroke-width="0.3" />
<line x1="49.00" y1="281.00" x2="49.00" y2="282.20" stroke="#333" stroke-width="0.3" />
<line x1="45.50" y1="278.50" x2="46.70" y2="278.50" stroke="#333" stroke-width="0.3" />
<line x1="49.90" y1="281.00" x2="49.90" y2="282.20" stroke="#333" stroke-width="0.3" />
<line x1="45.50" y1="277.60" x2="46.70" y2="277.60" stroke="#333" stroke-width="0.3" />
<line x1="50.80" y1="281.00" x2="50.80" y2="282.20" stroke="#333" stroke-width="0.3" />
<line x1="45.50" y1="276.70" x2="46.70" y2="276.70" stroke="#333" stroke-width="0.3" />
<line x1="51.70" y1="281.00" x2="51.70" y2="282.20" stroke="#333" stroke-width="0.3" />
<line x1="45.50" y1="275.80" x2="46.70" y2="275.80" stroke="#333" stroke-width="0.3" />
<line x1="52.60" y1="281.00" x2="52.60" y2="282.20" stroke="#333" stroke-width="0.3" />
<line x1="45.50" y1="274.90" x2="46.70" y2="274.90" stroke="#333" stroke-width="0.3" />
<rect x="106.20" y="238.00" width="44.30" height="44.20" fill="#fff" stroke="#777" stroke-width="0.6"/>
<clipPath id="cp106238"><rect x="106.20" y="238.00" width="44.30" height="44.20"/></clipPath>
<g clip-path="url(#cp106238)">
<path d="M119.6 258.7h0.5M149.2 267.0h0.5M145.8 259.4h0.5M116.6 249.1h0.5M149.2 269.7h0.5M119.8 239.0h0.5M128.4 268.4h0.5M124.9 249.6h0.5M136.0 279.6h0.5M116.2 239.5h0.5M121.2 256.9h0.5M136.7 246.9h0.5M141.9 271.3h0.5M128.7 247.2h0.5M149.6 252.0h0.5M142.9 248.4h0.5M116.0 272.2h0.5M119.3 280.8h0.5M128.3 246.4h0.5M116.0 256.8h0.5M135.9 280.7h0.5M112.6 255.7h0.5M115.6 281.8h0.5M112.4 240.3h0.5M108.7 255.7h0.5M146.4 277.8h0.5M139.0 282.9h0.5M147.9 252.8h0.5M114.3 280.1h0.5M139.6 239.4h0.5M135.9 255.0h0.5M122.8 252.9h0.5M113.6 238.1h0.5M118.6 253.8h0.5M149.0 243.6h0.5M149.4 247.3h0.5M122.0 275.0h0.5M143.0 257.5h0.5M108.2 259.3h0.5M122.8 279.4h0.5M114.7 254.4h0.5M146.4 239.4h0.5M124.5 274.5h0.5M140.5 239.8h0.5M107.6 240.8h0.5M147.4 249.6h0.5M139.6 278.4h0.5M121.3 250.3h0.5M149.1 265.8h0.5M117.8 270.2h0.5M120.2 250.4h0.5M106.2 272.0h0.5M147.2 266.5h0.5M148.4 239.1h0.5M116.5 259.4h0.5M149.1 280.9h0.5M123.4 249.3h0.5M125.3 260.2h0.5M147.8 246.2h0.5M142.1 271.2h0.5M143.0 272.8h0.5M133.3 252.8h0.5M120.4 254.3h0.5M141.2 241.6h0.5M114.9 271.9h0.5M117.1 240.9h0.5M107.5 262.9h0.5M120.7 282.1h0.5M145.8 282.5h0.5M117.9 241.8h0.5M110.3 260.4h0.5M137.9 258.1h0.5M116.5 256.8h0.5M133.9 268.3h0.5M139.7 276.1h0.5M135.9 243.5h0.5M143.8 251.2h0.5M131.5 254.8h0.5M139.2 247.0h0.5M117.1 249.0h0.5" stroke="#555" stroke-width="0.5" opacity="0.35"/>
<path d="M131.9 261.4h0.5M112.2 257.2h0.5M95.2 261.8h0.5M112.8 257.9h0.5M125.2 255.3h0.5M124.6 257.9h0.5M101.7 258.6h0.5M131.9 254.3h0.5M128.1 258.4h0.5M124.7 258.9h0.5M133.0 257.6h0.5M128.7 257.2h0.5M127.3 256.4h0.5M118.9 261.5h0.5M124.5 257.7h0.5M108.6 256.4h0.5M121.9 259.9h0.5M124.3 259.0h0.5M119.6 260.7h0.5M116.1 256.9h0.5M128.9 258.1h0.5M117.2 256.8h0.5M117.4 259.2h0.5M123.5 255.6h0.5M124.3 258.4h0.5M110.0 259.5h0.5M117.2 257.3h0.5M128.0 260.6h0.5M113.1 258.9h0.5M111.2 262.6h0.5M115.1 260.4h0.5M113.5 259.6h0.5M142.2 252.9h0.5M115.7 259.0h0.5M119.1 256.7h0.5M141.5 258.2h0.5M103.6 259.7h0.5M102.8 260.3h0.5M114.2 258.3h0.5M132.6 258.2h0.5M106.1 254.6h0.5M131.8 259.5h0.5M111.8 259.7h0.5M125.0 259.3h0.5M97.4 257.4h0.5M129.0 259.5h0.5M128.8 253.1h0.5M121.7 259.0h0.5M145.5 256.1h0.5M116.7 258.1h0.5M128.9 257.1h0.5M131.5 256.4h0.5M122.7 256.9h0.5M121.6 256.6h0.5M104.0 260.2h0.5M123.0 256.9h0.5M122.0 260.0h0.5M110.2 257.8h0.5M125.4 259.1h0.5M116.6 253.8h0.5" stroke="#444" stroke-width="0.55" opacity="0.55"/>
<path d="M131.2 277.3h0.5M120.1 274.9h0.5M122.4 274.3h0.5M110.8 273.0h0.5M114.6 273.6h0.5M109.6 278.5h0.5M108.2 278.6h0.5M110.9 277.4h0.5M132.4 276.8h0.5M113.4 276.2h0.5M121.3 269.1h0.5M114.5 276.7h0.5M115.8 276.3h0.5M126.6 279.1h0.5M128.2 278.4h0.5M117.4 275.9h0.5M117.6 274.7h0.5M118.4 269.1h0.5M117.0 275.9h0.5M111.2 275.9h0.5M124.6 275.3h0.5M138.7 265.6h0.5M118.1 268.7h0.5M128.8 286.6h0.5M97.5 276.5h0.5M124.7 274.8h0.5M125.0 267.0h0.5M127.7 277.5h0.5M120.2 273.6h0.5M125.7 274.1h0.5M122.0 274.0h0.5M99.8 275.9h0.5M121.8 279.0h0.5M112.1 275.9h0.5M125.6 276.6h0.5M131.2 284.0h0.5M111.8 268.3h0.5M127.7 282.1h0.5M128.3 279.3h0.5M114.4 273.1h0.5M128.0 272.4h0.5M103.7 272.0h0.5M142.4 283.7h0.5M113.8 273.1h0.5M122.1 273.0h0.5M131.8 275.7h0.5M110.2 281.2h0.5M114.8 276.9h0.5M119.9 274.7h0.5M122.9 273.2h0.5M103.4 267.2h0.5M108.6 273.0h0.5M119.8 276.2h0.5M125.0 276.5h0.5M112.9 273.2h0.5M100.9 275.3h0.5M124.4 278.1h0.5M118.9 275.3h0.5M128.4 276.1h0.5M126.6 278.3h0.5M121.9 281.2h0.5M114.8 274.6h0.5M112.7 272.8h0.5M134.0 283.0h0.5M120.2 278.3h0.5M130.6 279.2h0.5M130.8 270.9h0.5M114.2 277.8h0.5M132.9 276.4h0.5M112.3 274.6h0.5M114.1 272.6h0.5M133.5 273.5h0.5M120.2 284.6h0.5M130.7 277.3h0.5M114.5 277.6h0.5M134.6 278.5h0.5M131.4 276.4h0.5M124.6 275.2h0.5M123.8 281.2h0.5M107.1 275.7h0.5M122.2 273.7h0.5M117.2 279.1h0.5M138.0 278.5h0.5M122.9 269.8h0.5M137.3 276.3h0.5M119.7 271.5h0.5M119.5 271.6h0.5M120.6 277.9h0.5M120.3 277.1h0.5M112.3 281.7h0.5M114.1 268.7h0.5M118.3 272.9h0.5M110.9 274.6h0.5M122.6 271.3h0.5M118.8 281.7h0.5M126.1 275.4h0.5M121.1 275.5h0.5M119.6 278.9h0.5M119.2 266.4h0.5M119.8 272.4h0.5M125.9 273.6h0.5M121.3 284.7h0.5M110.6 271.5h0.5M107.3 266.4h0.5M103.1 277.5h0.5M114.3 268.5h0.5M106.7 278.5h0.5M113.0 274.5h0.5M123.0 281.4h0.5M137.5 280.1h0.5M121.3 276.7h0.5M136.2 281.7h0.5M117.2 277.8h0.5M122.6 276.2h0.5M115.5 270.7h0.5M115.2 269.8h0.5M131.0 278.1h0.5M109.1 281.6h0.5M128.0 268.4h0.5M136.6 279.2h0.5" stroke="#444" stroke-width="0.55" opacity="0.55"/>
<g transform="translate(116.00,277.00) rotate(0)">
<ellipse cx="0" cy="0" rx="9.00" ry="3.80" fill="#000" opacity="0.22"/>
<ellipse cx="0" cy="0" rx="5.40" ry="2.28" fill="#000" opacity="0.45" filter="url(#b05)"/>
<ellipse cx="0" cy="0" rx="3.15" ry="1.33" fill="#111" opacity="0.80"/>
<ellipse cx="0" cy="0" rx="9.00" ry="3.80" fill="none" stroke="#222" stroke-width="0.45" opacity="1.00"/>
<ellipse cx="0" cy="0" rx="7.30" ry="3.08" fill="none" stroke="#222" stroke-width="0.45" opacity="1.00"/>
<ellipse cx="0" cy="0" rx="5.60" ry="2.37" fill="none" stroke="#222" stroke-width="0.45" opacity="1.00"/>
<ellipse cx="0" cy="0" rx="3.91" ry="1.65" fill="none" stroke="#222" stroke-width="0.45" opacity="1.00"/>
<ellipse cx="0" cy="0" rx="2.21" ry="0.93" fill="none" stroke="#222" stroke-width="0.45" opacity="1.00"/>
</g>
<g transform="translate(118.00,277.00) rotate(0)">
<ellipse cx="0" cy="0" rx="11.00" ry="5.00" fill="none" stroke="#222" stroke-width="0.45" opacity="0.72"/>
<ellipse cx="0" cy="0" rx="6.22" ry="2.83" fill="none" stroke="#222" stroke-width="0.45" opacity="0.72"/>
</g>
<g transform="translate(138.00,257.00) rotate(0)">
<ellipse cx="0" cy="0" rx="2.50" ry="3.00" fill="none" stroke="#222" stroke-width="0.45" opacity="0.72"/>
<ellipse cx="0" cy="0" rx="1.74" ry="2.09" fill="none" stroke="#222" stroke-width="0.45" opacity="0.72"/>
<ellipse cx="0" cy="0" rx="0.98" ry="1.18" fill="none" stroke="#222" stroke-width="0.45" opacity="0.72"/>
</g>
<g transform="translate(120.00,257.00) rotate(0)">
<ellipse cx="0" cy="0" rx="6.00" ry="2.00" fill="none" stroke="#222" stroke-width="0.45" opacity="0.64"/>
<ellipse cx="0" cy="0" rx="3.39" ry="1.13" fill="none" stroke="#222" stroke-width="0.45" opacity="0.64"/>
</g>
</g>
<line x1="129.20" y1="238.00" x2="129.20" y2="282.20" stroke="#555" stroke-width="0.5" />
<line x1="106.20" y1="268.00" x2="150.50" y2="268.00" stroke="#555" stroke-width="0.5" />
<text x="107.50" y="243.00" font-size="4.4" text-anchor="start" font-weight="normal" font-style="normal" fill="#222" >2.1</text>
<text x="149.20" y="243.00" font-size="4.4" text-anchor="end" font-weight="normal" font-style="normal" fill="#222" >4</text>
<text x="148.90" y="280.40" font-size="4.4" text-anchor="end" font-weight="normal" font-style="normal" fill="#222" >0.75</text>
<text x="104.40" y="243.80" font-size="4.8" text-anchor="end" font-weight="normal" font-style="normal" fill="#444" >10<tspan dy="-1.6" font-size="3.6">5</tspan></text>
<text x="104.40" y="253.00" font-size="4.8" text-anchor="end" font-weight="normal" font-style="normal" fill="#444" >10<tspan dy="-1.6" font-size="3.6">4</tspan></text>
<text x="104.40" y="263.30" font-size="4.8" text-anchor="end" font-weight="normal" font-style="normal" fill="#444" >10<tspan dy="-1.6" font-size="3.6">3</tspan></text>
<text x="104.40" y="273.70" font-size="4.8" text-anchor="end" font-weight="normal" font-style="normal" fill="#444" >10<tspan dy="-1.6" font-size="3.6">2</tspan></text>
<text x="104.40" y="279.00" font-size="4.8" text-anchor="end" font-weight="normal" font-style="normal" fill="#444" >0</text>
<line x1="105.00" y1="242.40" x2="106.20" y2="242.40" stroke="#444" stroke-width="0.4" />
<line x1="105.00" y1="251.60" x2="106.20" y2="251.60" stroke="#444" stroke-width="0.4" />
<line x1="105.00" y1="260.80" x2="106.20" y2="260.80" stroke="#444" stroke-width="0.4" />
<line x1="105.00" y1="272.20" x2="106.20" y2="272.20" stroke="#444" stroke-width="0.4" />
<line x1="105.00" y1="277.30" x2="106.20" y2="277.30" stroke="#444" stroke-width="0.4" />
<text x="113.80" y="290.60" font-size="4.8" text-anchor="middle" font-weight="normal" font-style="normal" fill="#444" >0<tspan>10</tspan><tspan dy="-1.6" font-size="3.6">2</tspan></text>
<text x="127.00" y="290.60" font-size="4.8" text-anchor="middle" font-weight="normal" font-style="normal" fill="#444" >10<tspan dy="-1.6" font-size="3.6">3</tspan></text>
<text x="137.00" y="290.60" font-size="4.8" text-anchor="middle" font-weight="normal" font-style="normal" fill="#444" >10<tspan dy="-1.6" font-size="3.6">4</tspan></text>
<text x="146.20" y="290.60" font-size="4.8" text-anchor="middle" font-weight="normal" font-style="normal" fill="#444" >10<tspan dy="-1.6" font-size="3.6">5</tspan></text>
<line x1="108.20" y1="282.20" x2="108.20" y2="283.40" stroke="#444" stroke-width="0.4" />
<line x1="113.80" y1="282.20" x2="113.80" y2="283.40" stroke="#444" stroke-width="0.4" />
<line x1="127.00" y1="282.20" x2="127.00" y2="283.40" stroke="#444" stroke-width="0.4" />
<line x1="137.00" y1="282.20" x2="137.00" y2="283.40" stroke="#444" stroke-width="0.4" />
<line x1="146.20" y1="282.20" x2="146.20" y2="283.40" stroke="#444" stroke-width="0.4" />
<line x1="107.00" y1="281.00" x2="107.00" y2="282.20" stroke="#333" stroke-width="0.3" />
<line x1="106.20" y1="281.20" x2="107.40" y2="281.20" stroke="#333" stroke-width="0.3" />
<line x1="107.90" y1="281.00" x2="107.90" y2="282.20" stroke="#333" stroke-width="0.3" />
<line x1="106.20" y1="280.30" x2="107.40" y2="280.30" stroke="#333" stroke-width="0.3" />
<line x1="108.80" y1="281.00" x2="108.80" y2="282.20" stroke="#333" stroke-width="0.3" />
<line x1="106.20" y1="279.40" x2="107.40" y2="279.40" stroke="#333" stroke-width="0.3" />
<line x1="109.70" y1="281.00" x2="109.70" y2="282.20" stroke="#333" stroke-width="0.3" />
<line x1="106.20" y1="278.50" x2="107.40" y2="278.50" stroke="#333" stroke-width="0.3" />
<line x1="110.60" y1="281.00" x2="110.60" y2="282.20" stroke="#333" stroke-width="0.3" />
<line x1="106.20" y1="277.60" x2="107.40" y2="277.60" stroke="#333" stroke-width="0.3" />
<line x1="111.50" y1="281.00" x2="111.50" y2="282.20" stroke="#333" stroke-width="0.3" />
<line x1="106.20" y1="276.70" x2="107.40" y2="276.70" stroke="#333" stroke-width="0.3" />
<line x1="112.40" y1="281.00" x2="112.40" y2="282.20" stroke="#333" stroke-width="0.3" />
<line x1="106.20" y1="275.80" x2="107.40" y2="275.80" stroke="#333" stroke-width="0.3" />
<line x1="113.30" y1="281.00" x2="113.30" y2="282.20" stroke="#333" stroke-width="0.3" />
<line x1="106.20" y1="274.90" x2="107.40" y2="274.90" stroke="#333" stroke-width="0.3" />
<rect x="167.60" y="238.00" width="44.30" height="44.20" fill="#fff" stroke="#777" stroke-width="0.6"/>
<clipPath id="cp167238"><rect x="167.60" y="238.00" width="44.30" height="44.20"/></clipPath>
<g clip-path="url(#cp167238)">
<path d="M208.2 279.9h0.5M172.7 252.6h0.5M172.9 246.3h0.5M205.3 275.0h0.5M195.9 275.5h0.5M195.8 255.6h0.5M172.4 248.6h0.5M201.3 252.6h0.5M182.0 260.7h0.5M168.9 254.5h0.5M180.4 271.5h0.5M184.2 256.9h0.5M210.4 263.6h0.5M205.5 267.9h0.5M169.4 260.3h0.5M187.2 273.6h0.5M183.3 271.1h0.5M191.7 253.0h0.5M205.9 248.4h0.5M204.1 251.3h0.5M168.1 252.5h0.5M201.5 281.2h0.5M168.2 263.2h0.5M189.6 274.5h0.5M176.1 263.3h0.5M183.3 275.8h0.5M179.5 279.9h0.5M180.5 252.9h0.5M198.8 263.4h0.5M172.8 268.6h0.5M171.6 274.2h0.5M198.7 274.1h0.5M195.6 258.2h0.5M185.7 259.6h0.5M207.2 248.2h0.5M207.1 245.9h0.5M177.1 254.7h0.5M207.7 263.5h0.5M184.7 277.7h0.5M178.3 262.1h0.5M191.4 272.9h0.5M201.1 268.9h0.5M183.3 257.1h0.5M174.8 276.2h0.5M197.1 272.5h0.5M175.5 261.2h0.5M202.0 266.4h0.5M173.5 262.1h0.5M206.9 253.8h0.5M176.4 256.2h0.5M198.9 276.2h0.5M174.8 250.8h0.5M178.9 257.1h0.5M191.0 251.0h0.5M182.4 252.0h0.5M210.9 272.0h0.5M172.5 280.6h0.5M172.5 259.2h0.5M211.3 274.4h0.5M200.3 261.1h0.5M176.6 268.6h0.5M172.7 252.6h0.5M185.1 246.3h0.5M185.6 274.3h0.5M198.5 263.5h0.5M195.8 262.1h0.5M174.2 267.3h0.5M185.8 272.4h0.5M208.0 260.9h0.5M193.3 272.7h0.5M186.5 253.5h0.5M199.8 277.6h0.5M202.1 270.9h0.5M205.5 270.1h0.5M196.2 261.8h0.5M181.8 268.2h0.5M172.3 260.5h0.5M202.4 271.4h0.5M195.7 254.3h0.5M186.6 261.8h0.5M195.3 260.1h0.5M197.7 279.4h0.5M176.1 269.2h0.5M202.2 259.4h0.5M189.6 281.1h0.5M169.7 265.1h0.5M175.1 273.9h0.5M209.4 264.2h0.5M172.4 266.3h0.5M191.8 271.5h0.5M190.5 268.7h0.5M204.5 264.3h0.5M186.1 280.1h0.5M177.2 270.3h0.5M185.3 273.2h0.5M173.4 281.4h0.5M183.6 247.1h0.5M180.1 259.8h0.5M168.6 260.5h0.5M186.5 270.8h0.5M183.5 254.8h0.5M177.9 272.4h0.5M209.4 264.5h0.5M177.6 274.7h0.5M185.2 252.8h0.5M173.7 273.7h0.5M203.6 268.5h0.5M188.6 265.8h0.5M177.9 280.7h0.5M183.5 268.6h0.5M204.0 275.2h0.5M188.6 255.9h0.5M192.1 249.6h0.5M204.7 258.1h0.5M205.4 254.9h0.5M184.6 254.4h0.5M186.7 251.9h0.5M168.1 271.7h0.5M180.4 254.1h0.5M181.3 262.7h0.5" stroke="#555" stroke-width="0.5" opacity="0.35"/>
<path d="M173.6 279.3h0.5M179.5 271.0h0.5M203.1 257.2h0.5M205.2 261.2h0.5M199.6 258.7h0.5M200.6 266.6h0.5M184.6 270.4h0.5M211.8 255.7h0.5M180.7 270.9h0.5M191.1 268.2h0.5M190.4 273.4h0.5M183.3 273.2h0.5M199.7 258.6h0.5M199.5 268.5h0.5M170.3 275.3h0.5M172.4 271.4h0.5M187.9 262.5h0.5M193.4 270.8h0.5M168.7 278.9h0.5M167.2 283.5h0.5M177.9 273.7h0.5M187.4 271.1h0.5M182.4 272.1h0.5M180.5 273.6h0.5M173.9 277.2h0.5M165.2 280.3h0.5M206.0 258.7h0.5M173.3 278.2h0.5M173.4 271.5h0.5M179.5 276.3h0.5M189.8 267.4h0.5M174.8 272.8h0.5M200.4 262.5h0.5M172.9 270.2h0.5M175.5 284.7h0.5M173.9 276.7h0.5M187.9 268.3h0.5M181.0 268.1h0.5M177.6 280.7h0.5M179.4 276.7h0.5M168.0 279.5h0.5M190.3 271.1h0.5M175.2 278.3h0.5M188.9 265.8h0.5M189.6 264.8h0.5M177.7 274.7h0.5M157.6 286.0h0.5M173.4 272.2h0.5M182.7 274.5h0.5M183.7 275.7h0.5M172.0 273.5h0.5M202.7 261.7h0.5M194.6 262.2h0.5M194.7 265.8h0.5M192.8 266.2h0.5M197.6 261.1h0.5M173.8 271.9h0.5M197.0 261.1h0.5M173.7 273.8h0.5M179.5 269.4h0.5M182.0 270.1h0.5M178.8 270.8h0.5M185.7 268.6h0.5M187.6 270.0h0.5M186.3 262.3h0.5M179.2 271.1h0.5M191.7 261.3h0.5M178.1 273.5h0.5M184.0 274.6h0.5M182.8 275.2h0.5M168.1 274.1h0.5M199.3 263.8h0.5M191.3 267.4h0.5M189.2 263.9h0.5M195.1 262.9h0.5M196.4 264.3h0.5M163.6 278.5h0.5M197.5 262.9h0.5M182.3 273.0h0.5M180.8 271.1h0.5M187.3 269.8h0.5M201.8 261.0h0.5M208.2 263.4h0.5M205.4 262.5h0.5M187.6 269.6h0.5M183.4 269.0h0.5M184.3 268.7h0.5M203.8 261.5h0.5M178.5 267.7h0.5M184.8 269.2h0.5M173.0 273.6h0.5M163.5 285.0h0.5M189.2 277.1h0.5M185.5 269.8h0.5M201.2 261.7h0.5M187.2 268.0h0.5M182.0 277.5h0.5M199.0 268.5h0.5M182.4 272.2h0.5M178.3 277.8h0.5M172.4 279.8h0.5M199.5 267.1h0.5M177.9 278.5h0.5M177.4 272.3h0.5M174.0 280.9h0.5M202.2 258.6h0.5M177.6 273.7h0.5M213.6 257.6h0.5M177.7 268.6h0.5M180.8 277.1h0.5M205.0 258.1h0.5M178.0 272.8h0.5M167.8 283.7h0.5M176.3 279.3h0.5M166.3 276.9h0.5M187.9 266.3h0.5M194.1 265.3h0.5M174.7 278.7h0.5M191.9 260.0h0.5M205.7 260.3h0.5M191.1 260.6h0.5M178.0 273.4h0.5M195.0 259.7h0.5M173.8 270.0h0.5M184.0 272.3h0.5M167.6 278.6h0.5M193.7 271.1h0.5M192.4 265.2h0.5M172.4 274.6h0.5M179.3 274.4h0.5M188.0 274.6h0.5M187.4 265.5h0.5M203.5 263.2h0.5M186.0 267.5h0.5M165.0 278.6h0.5M194.3 262.4h0.5M172.6 278.4h0.5M189.4 270.1h0.5M194.9 269.7h0.5M178.7 277.6h0.5M176.8 277.7h0.5M188.2 269.6h0.5M196.0 264.1h0.5M198.9 265.6h0.5M186.6 267.7h0.5M177.4 273.2h0.5M183.9 271.1h0.5M217.9 253.8h0.5M192.7 263.1h0.5M178.1 273.4h0.5M186.4 266.2h0.5M201.9 258.9h0.5M193.7 257.5h0.5M186.3 270.8h0.5M188.9 270.4h0.5M189.2 268.7h0.5M165.3 279.5h0.5M162.6 285.7h0.5M188.9 267.6h0.5M176.6 273.4h0.5M207.8 263.4h0.5M187.3 273.7h0.5M166.6 274.5h0.5M179.7 270.6h0.5M180.5 273.8h0.5M216.4 250.1h0.5M186.9 270.4h0.5M187.0 272.6h0.5M202.6 256.1h0.5M187.3 268.3h0.5M187.4 263.9h0.5M164.3 274.5h0.5M191.7 267.3h0.5M183.2 263.4h0.5M181.0 270.3h0.5M169.9 276.1h0.5M194.1 267.2h0.5M186.5 271.5h0.5M179.8 273.8h0.5M187.3 271.2h0.5M185.1 270.0h0.5M183.6 269.1h0.5M210.0 257.9h0.5M193.9 273.4h0.5M198.2 257.5h0.5M194.5 268.0h0.5M207.6 262.1h0.5M192.2 262.3h0.5M177.4 275.9h0.5M189.7 264.3h0.5M181.4 271.3h0.5M187.1 270.5h0.5M181.2 268.5h0.5M201.3 266.7h0.5M186.4 273.3h0.5M191.6 269.0h0.5M189.9 265.1h0.5M193.5 269.2h0.5M179.6 280.5h0.5M210.5 262.2h0.5" stroke="#444" stroke-width="0.55" opacity="0.5"/>
<g transform="translate(196.00,265.50) rotate(15)">
<ellipse cx="0" cy="0" rx="3.60" ry="6.80" fill="none" stroke="#222" stroke-width="0.45" opacity="0.96"/>
<ellipse cx="0" cy="0" rx="2.76" ry="5.22" fill="none" stroke="#222" stroke-width="0.45" opacity="0.96"/>
<ellipse cx="0" cy="0" rx="1.93" ry="3.64" fill="none" stroke="#222" stroke-width="0.45" opacity="0.96"/>
<ellipse cx="0" cy="0" rx="1.09" ry="2.06" fill="none" stroke="#222" stroke-width="0.45" opacity="0.96"/>
</g>
<g transform="translate(190.00,268.50) rotate(15)">
<ellipse cx="0" cy="0" rx="3.00" ry="5.00" fill="none" stroke="#222" stroke-width="0.45" opacity="0.88"/>
<ellipse cx="0" cy="0" rx="2.09" ry="3.48" fill="none" stroke="#222" stroke-width="0.45" opacity="0.88"/>
<ellipse cx="0" cy="0" rx="1.18" ry="1.97" fill="none" stroke="#222" stroke-width="0.45" opacity="0.88"/>
</g>
<g transform="translate(179.00,276.00) rotate(-15)">
<ellipse cx="0" cy="0" rx="9.00" ry="3.00" fill="none" stroke="#222" stroke-width="0.45" opacity="0.80"/>
<ellipse cx="0" cy="0" rx="6.27" ry="2.09" fill="none" stroke="#222" stroke-width="0.45" opacity="0.80"/>
<ellipse cx="0" cy="0" rx="3.55" ry="1.18" fill="none" stroke="#222" stroke-width="0.45" opacity="0.80"/>
</g>
<g transform="translate(169.50,278.00) rotate(0)">
<ellipse cx="0" cy="0" rx="2.00" ry="4.00" fill="#000" opacity="0.20"/>
<ellipse cx="0" cy="0" rx="1.20" ry="2.40" fill="#000" opacity="0.41" filter="url(#b05)"/>
<ellipse cx="0" cy="0" rx="0.70" ry="1.40" fill="#111" opacity="0.72"/>
<ellipse cx="0" cy="0" rx="2.00" ry="4.00" fill="none" stroke="#222" stroke-width="0.45" opacity="0.96"/>
<ellipse cx="0" cy="0" rx="1.39" ry="2.79" fill="none" stroke="#222" stroke-width="0.45" opacity="0.96"/>
<ellipse cx="0" cy="0" rx="0.79" ry="1.58" fill="none" stroke="#222" stroke-width="0.45" opacity="0.96"/>
</g>
</g>
<line x1="191.60" y1="238.00" x2="191.60" y2="282.20" stroke="#555" stroke-width="0.5" />
<line x1="167.60" y1="268.40" x2="211.90" y2="268.40" stroke="#555" stroke-width="0.5" />
<text x="168.90" y="243.00" font-size="4.4" text-anchor="start" font-weight="normal" font-style="normal" fill="#222" >7.4</text>
<text x="210.60" y="243.00" font-size="4.4" text-anchor="end" font-weight="normal" font-style="normal" fill="#222" >40</text>
<text x="210.30" y="280.40" font-size="4.4" text-anchor="end" font-weight="normal" font-style="normal" fill="#222" >18</text>
<text x="165.80" y="243.80" font-size="4.8" text-anchor="end" font-weight="normal" font-style="normal" fill="#444" >10<tspan dy="-1.6" font-size="3.6">5</tspan></text>
<text x="165.80" y="253.00" font-size="4.8" text-anchor="end" font-weight="normal" font-style="normal" fill="#444" >10<tspan dy="-1.6" font-size="3.6">4</tspan></text>
<text x="165.80" y="263.30" font-size="4.8" text-anchor="end" font-weight="normal" font-style="normal" fill="#444" >10<tspan dy="-1.6" font-size="3.6">3</tspan></text>
<text x="165.80" y="273.70" font-size="4.8" text-anchor="end" font-weight="normal" font-style="normal" fill="#444" >10<tspan dy="-1.6" font-size="3.6">2</tspan></text>
<text x="165.80" y="279.00" font-size="4.8" text-anchor="end" font-weight="normal" font-style="normal" fill="#444" >0</text>
<line x1="166.40" y1="242.40" x2="167.60" y2="242.40" stroke="#444" stroke-width="0.4" />
<line x1="166.40" y1="251.60" x2="167.60" y2="251.60" stroke="#444" stroke-width="0.4" />
<line x1="166.40" y1="260.80" x2="167.60" y2="260.80" stroke="#444" stroke-width="0.4" />
<line x1="166.40" y1="272.20" x2="167.60" y2="272.20" stroke="#444" stroke-width="0.4" />
<line x1="166.40" y1="277.30" x2="167.60" y2="277.30" stroke="#444" stroke-width="0.4" />
<text x="175.20" y="290.60" font-size="4.8" text-anchor="middle" font-weight="normal" font-style="normal" fill="#444" >0<tspan>10</tspan><tspan dy="-1.6" font-size="3.6">2</tspan></text>
<text x="188.40" y="290.60" font-size="4.8" text-anchor="middle" font-weight="normal" font-style="normal" fill="#444" >10<tspan dy="-1.6" font-size="3.6">3</tspan></text>
<text x="198.40" y="290.60" font-size="4.8" text-anchor="middle" font-weight="normal" font-style="normal" fill="#444" >10<tspan dy="-1.6" font-size="3.6">4</tspan></text>
<text x="207.60" y="290.60" font-size="4.8" text-anchor="middle" font-weight="normal" font-style="normal" fill="#444" >10<tspan dy="-1.6" font-size="3.6">5</tspan></text>
<line x1="169.60" y1="282.20" x2="169.60" y2="283.40" stroke="#444" stroke-width="0.4" />
<line x1="175.20" y1="282.20" x2="175.20" y2="283.40" stroke="#444" stroke-width="0.4" />
<line x1="188.40" y1="282.20" x2="188.40" y2="283.40" stroke="#444" stroke-width="0.4" />
<line x1="198.40" y1="282.20" x2="198.40" y2="283.40" stroke="#444" stroke-width="0.4" />
<line x1="207.60" y1="282.20" x2="207.60" y2="283.40" stroke="#444" stroke-width="0.4" />
<line x1="168.40" y1="281.00" x2="168.40" y2="282.20" stroke="#333" stroke-width="0.3" />
<line x1="167.60" y1="281.20" x2="168.80" y2="281.20" stroke="#333" stroke-width="0.3" />
<line x1="169.30" y1="281.00" x2="169.30" y2="282.20" stroke="#333" stroke-width="0.3" />
<line x1="167.60" y1="280.30" x2="168.80" y2="280.30" stroke="#333" stroke-width="0.3" />
<line x1="170.20" y1="281.00" x2="170.20" y2="282.20" stroke="#333" stroke-width="0.3" />
<line x1="167.60" y1="279.40" x2="168.80" y2="279.40" stroke="#333" stroke-width="0.3" />
<line x1="171.10" y1="281.00" x2="171.10" y2="282.20" stroke="#333" stroke-width="0.3" />
<line x1="167.60" y1="278.50" x2="168.80" y2="278.50" stroke="#333" stroke-width="0.3" />
<line x1="172.00" y1="281.00" x2="172.00" y2="282.20" stroke="#333" stroke-width="0.3" />
<line x1="167.60" y1="277.60" x2="168.80" y2="277.60" stroke="#333" stroke-width="0.3" />
<line x1="172.90" y1="281.00" x2="172.90" y2="282.20" stroke="#333" stroke-width="0.3" />
<line x1="167.60" y1="276.70" x2="168.80" y2="276.70" stroke="#333" stroke-width="0.3" />
<line x1="173.80" y1="281.00" x2="173.80" y2="282.20" stroke="#333" stroke-width="0.3" />
<line x1="167.60" y1="275.80" x2="168.80" y2="275.80" stroke="#333" stroke-width="0.3" />
<line x1="174.70" y1="281.00" x2="174.70" y2="282.20" stroke="#333" stroke-width="0.3" />
<line x1="167.60" y1="274.90" x2="168.80" y2="274.90" stroke="#333" stroke-width="0.3" />
<rect x="227.80" y="238.00" width="44.30" height="44.20" fill="#fff" stroke="#777" stroke-width="0.6"/>
<clipPath id="cp227238"><rect x="227.80" y="238.00" width="44.30" height="44.20"/></clipPath>
<g clip-path="url(#cp227238)">
<path d="M230.5 278.1h0.5M257.4 252.8h0.5M249.0 255.6h0.5M239.3 252.5h0.5M244.0 281.7h0.5M271.9 279.2h0.5M232.3 255.7h0.5M267.4 247.1h0.5M260.0 255.9h0.5M271.1 245.6h0.5M263.5 257.6h0.5M234.2 245.1h0.5M264.6 264.5h0.5M236.2 261.1h0.5M268.1 253.1h0.5M253.1 250.1h0.5M235.9 273.5h0.5M259.3 252.3h0.5M231.5 248.2h0.5M254.8 263.3h0.5M240.1 252.6h0.5M254.9 271.2h0.5M263.7 266.6h0.5M236.9 247.4h0.5M260.2 260.1h0.5M259.8 247.0h0.5M263.7 257.4h0.5M265.0 277.0h0.5M249.7 245.6h0.5M268.0 262.6h0.5M266.4 254.9h0.5M236.2 275.8h0.5M244.2 251.0h0.5M244.3 267.0h0.5M228.2 264.2h0.5M247.6 264.1h0.5M233.3 271.4h0.5M263.9 277.0h0.5M242.1 271.3h0.5M244.8 272.8h0.5M230.7 277.3h0.5M270.0 263.3h0.5M250.6 264.6h0.5M251.6 245.8h0.5M270.6 253.3h0.5M236.0 248.8h0.5M239.0 275.2h0.5M229.3 248.6h0.5M258.8 252.2h0.5M228.8 267.2h0.5M253.4 264.3h0.5M258.9 248.8h0.5M266.3 271.5h0.5M230.0 249.6h0.5M249.7 263.5h0.5M240.3 249.5h0.5M245.8 250.1h0.5M254.0 276.9h0.5M234.5 266.2h0.5M260.8 251.1h0.5" stroke="#555" stroke-width="0.5" opacity="0.35"/>
<path d="M244.5 255.4h0.5M233.2 272.0h0.5M241.9 261.8h0.5M226.7 276.7h0.5M238.9 262.6h0.5M238.3 273.4h0.5M222.4 274.7h0.5M242.4 255.5h0.5M242.6 257.3h0.5M244.8 270.4h0.5M251.5 264.3h0.5M238.0 274.3h0.5M234.2 263.8h0.5M235.8 267.6h0.5M231.5 270.9h0.5M241.3 268.4h0.5M248.2 266.0h0.5M245.8 264.7h0.5M242.5 256.4h0.5M239.2 266.9h0.5M235.0 264.3h0.5M235.9 263.7h0.5M224.8 264.4h0.5M234.7 264.9h0.5M231.7 267.2h0.5M242.7 266.5h0.5M235.0 276.1h0.5M243.9 273.5h0.5M244.9 266.0h0.5M237.2 274.7h0.5M234.7 267.3h0.5M240.3 270.2h0.5M236.3 273.9h0.5M236.9 272.4h0.5M244.4 272.0h0.5M242.4 261.0h0.5M230.1 264.3h0.5M240.9 277.0h0.5M230.7 269.8h0.5M232.9 263.6h0.5M236.3 272.2h0.5M239.3 275.1h0.5M232.1 273.3h0.5M243.6 268.4h0.5M240.9 264.6h0.5M231.5 265.6h0.5M234.1 285.3h0.5M235.1 277.9h0.5M239.2 269.9h0.5M242.5 263.3h0.5M243.5 270.3h0.5M228.9 271.6h0.5M241.3 270.7h0.5M247.5 265.5h0.5M241.1 272.5h0.5M232.6 275.2h0.5M229.3 260.2h0.5M241.1 261.5h0.5M237.3 258.1h0.5M238.4 261.2h0.5M240.1 258.8h0.5M240.7 266.4h0.5M238.4 267.6h0.5M238.8 260.1h0.5M222.6 268.2h0.5M232.4 265.3h0.5M240.6 256.1h0.5M233.4 264.3h0.5M231.7 270.0h0.5M237.2 263.1h0.5M232.1 272.8h0.5M234.0 271.5h0.5M240.7 256.6h0.5M231.5 268.0h0.5M240.1 272.7h0.5M242.8 274.2h0.5M235.8 266.7h0.5M242.7 265.4h0.5M244.3 258.5h0.5M241.9 267.0h0.5M226.2 273.9h0.5M239.9 268.1h0.5M231.5 265.2h0.5M247.1 263.0h0.5M217.2 262.9h0.5M230.8 267.2h0.5M235.6 262.5h0.5M232.9 274.3h0.5M229.3 279.7h0.5M234.7 261.4h0.5M242.7 271.4h0.5M231.7 272.5h0.5M227.0 262.5h0.5M244.8 266.5h0.5M230.2 271.1h0.5M243.5 267.9h0.5M227.2 265.9h0.5M240.5 272.6h0.5M249.1 266.5h0.5M235.1 267.8h0.5M245.2 262.4h0.5M245.8 251.5h0.5M242.8 263.9h0.5M240.8 272.1h0.5M230.9 267.5h0.5M239.4 271.5h0.5M232.4 262.1h0.5M226.5 283.2h0.5M236.8 266.7h0.5M229.0 273.6h0.5M234.8 276.6h0.5M243.1 268.1h0.5M242.4 261.3h0.5M236.0 264.5h0.5M230.4 268.1h0.5M237.1 276.6h0.5M217.9 264.0h0.5M232.5 265.2h0.5M240.5 270.4h0.5M238.2 265.2h0.5M241.0 270.2h0.5M226.9 266.4h0.5M229.8 260.9h0.5M238.9 268.4h0.5M238.7 262.7h0.5M236.8 262.5h0.5M240.3 272.1h0.5M248.5 275.6h0.5M233.2 265.3h0.5M232.4 269.8h0.5M249.9 272.3h0.5M224.8 260.5h0.5M230.2 271.1h0.5M238.0 269.8h0.5M248.7 263.0h0.5M232.9 279.8h0.5M240.1 263.3h0.5M225.8 258.9h0.5M223.3 268.4h0.5M238.3 274.0h0.5M237.2 263.8h0.5M233.6 279.4h0.5M227.4 269.0h0.5M238.2 271.7h0.5M235.6 271.0h0.5M242.9 267.1h0.5M235.3 266.9h0.5M232.2 266.8h0.5M236.2 269.3h0.5M246.0 275.8h0.5" stroke="#444" stroke-width="0.55" opacity="0.55"/>
<g transform="translate(236.00,252.00) rotate(0)">
<ellipse cx="0" cy="0" rx="5.00" ry="3.00" fill="#000" opacity="0.07"/>
<ellipse cx="0" cy="0" rx="3.00" ry="1.80" fill="#000" opacity="0.14" filter="url(#b05)"/>
<ellipse cx="0" cy="0" rx="5.00" ry="3.00" fill="none" stroke="#222" stroke-width="0.45" opacity="0.72"/>
<ellipse cx="0" cy="0" rx="3.48" ry="2.09" fill="none" stroke="#222" stroke-width="0.45" opacity="0.72"/>
<ellipse cx="0" cy="0" rx="1.97" ry="1.18" fill="none" stroke="#222" stroke-width="0.45" opacity="0.72"/>
</g>
<g transform="translate(234.00,276.00) rotate(0)">
<ellipse cx="0" cy="0" rx="5.00" ry="5.50" fill="#000" opacity="0.18"/>
<ellipse cx="0" cy="0" rx="3.00" ry="3.30" fill="#000" opacity="0.36" filter="url(#b05)"/>
<ellipse cx="0" cy="0" rx="1.75" ry="1.92" fill="#111" opacity="0.64"/>
<ellipse cx="0" cy="0" rx="5.00" ry="5.50" fill="none" stroke="#222" stroke-width="0.45" opacity="0.92"/>
<ellipse cx="0" cy="0" rx="4.06" ry="4.46" fill="none" stroke="#222" stroke-width="0.45" opacity="0.92"/>
<ellipse cx="0" cy="0" rx="3.11" ry="3.42" fill="none" stroke="#222" stroke-width="0.45" opacity="0.92"/>
<ellipse cx="0" cy="0" rx="2.17" ry="2.39" fill="none" stroke="#222" stroke-width="0.45" opacity="0.92"/>
<ellipse cx="0" cy="0" rx="1.23" ry="1.35" fill="none" stroke="#222" stroke-width="0.45" opacity="0.92"/>
</g>
<g transform="translate(245.50,264.00) rotate(40)">
<ellipse cx="0" cy="0" rx="2.00" ry="5.50" fill="#000" opacity="0.18"/>
<ellipse cx="0" cy="0" rx="1.20" ry="3.30" fill="#000" opacity="0.36" filter="url(#b05)"/>
<ellipse cx="0" cy="0" rx="0.70" ry="1.92" fill="#111" opacity="0.64"/>
<ellipse cx="0" cy="0" rx="2.00" ry="5.50" fill="none" stroke="#222" stroke-width="0.45" opacity="0.92"/>
<ellipse cx="0" cy="0" rx="1.53" ry="4.22" fill="none" stroke="#222" stroke-width="0.45" opacity="0.92"/>
<ellipse cx="0" cy="0" rx="1.07" ry="2.94" fill="none" stroke="#222" stroke-width="0.45" opacity="0.92"/>
<ellipse cx="0" cy="0" rx="0.60" ry="1.66" fill="none" stroke="#222" stroke-width="0.45" opacity="0.92"/>
</g>
<g transform="translate(250.50,275.00) rotate(0)">
<ellipse cx="0" cy="0" rx="3.00" ry="5.50" fill="none" stroke="#222" stroke-width="0.45" opacity="0.84"/>
<ellipse cx="0" cy="0" rx="2.30" ry="4.22" fill="none" stroke="#222" stroke-width="0.45" opacity="0.84"/>
<ellipse cx="0" cy="0" rx="1.60" ry="2.94" fill="none" stroke="#222" stroke-width="0.45" opacity="0.84"/>
<ellipse cx="0" cy="0" rx="0.91" ry="1.66" fill="none" stroke="#222" stroke-width="0.45" opacity="0.84"/>
</g>
</g>
<line x1="244.40" y1="238.00" x2="244.40" y2="282.20" stroke="#555" stroke-width="0.5" />
<line x1="227.80" y1="266.50" x2="272.10" y2="266.50" stroke="#555" stroke-width="0.5" />
<text x="229.10" y="243.00" font-size="4.4" text-anchor="start" font-weight="normal" font-style="normal" fill="#222" >5.9</text>
<text x="270.80" y="243.00" font-size="4.4" text-anchor="end" font-weight="normal" font-style="normal" fill="#222" >1.4</text>
<text x="270.50" y="280.40" font-size="4.4" text-anchor="end" font-weight="normal" font-style="normal" fill="#222" >16</text>
<text x="226.00" y="243.80" font-size="4.8" text-anchor="end" font-weight="normal" font-style="normal" fill="#444" >10<tspan dy="-1.6" font-size="3.6">5</tspan></text>
<text x="226.00" y="253.00" font-size="4.8" text-anchor="end" font-weight="normal" font-style="normal" fill="#444" >10<tspan dy="-1.6" font-size="3.6">4</tspan></text>
<text x="226.00" y="263.30" font-size="4.8" text-anchor="end" font-weight="normal" font-style="normal" fill="#444" >10<tspan dy="-1.6" font-size="3.6">3</tspan></text>
<text x="226.00" y="273.70" font-size="4.8" text-anchor="end" font-weight="normal" font-style="normal" fill="#444" >10<tspan dy="-1.6" font-size="3.6">2</tspan></text>
<text x="226.00" y="279.00" font-size="4.8" text-anchor="end" font-weight="normal" font-style="normal" fill="#444" >0</text>
<line x1="226.60" y1="242.40" x2="227.80" y2="242.40" stroke="#444" stroke-width="0.4" />
<line x1="226.60" y1="251.60" x2="227.80" y2="251.60" stroke="#444" stroke-width="0.4" />
<line x1="226.60" y1="260.80" x2="227.80" y2="260.80" stroke="#444" stroke-width="0.4" />
<line x1="226.60" y1="272.20" x2="227.80" y2="272.20" stroke="#444" stroke-width="0.4" />
<line x1="226.60" y1="277.30" x2="227.80" y2="277.30" stroke="#444" stroke-width="0.4" />
<text x="235.40" y="290.60" font-size="4.8" text-anchor="middle" font-weight="normal" font-style="normal" fill="#444" >0<tspan>10</tspan><tspan dy="-1.6" font-size="3.6">2</tspan></text>
<text x="248.60" y="290.60" font-size="4.8" text-anchor="middle" font-weight="normal" font-style="normal" fill="#444" >10<tspan dy="-1.6" font-size="3.6">3</tspan></text>
<text x="258.60" y="290.60" font-size="4.8" text-anchor="middle" font-weight="normal" font-style="normal" fill="#444" >10<tspan dy="-1.6" font-size="3.6">4</tspan></text>
<text x="267.80" y="290.60" font-size="4.8" text-anchor="middle" font-weight="normal" font-style="normal" fill="#444" >10<tspan dy="-1.6" font-size="3.6">5</tspan></text>
<line x1="229.80" y1="282.20" x2="229.80" y2="283.40" stroke="#444" stroke-width="0.4" />
<line x1="235.40" y1="282.20" x2="235.40" y2="283.40" stroke="#444" stroke-width="0.4" />
<line x1="248.60" y1="282.20" x2="248.60" y2="283.40" stroke="#444" stroke-width="0.4" />
<line x1="258.60" y1="282.20" x2="258.60" y2="283.40" stroke="#444" stroke-width="0.4" />
<line x1="267.80" y1="282.20" x2="267.80" y2="283.40" stroke="#444" stroke-width="0.4" />
<line x1="228.60" y1="281.00" x2="228.60" y2="282.20" stroke="#333" stroke-width="0.3" />
<line x1="227.80" y1="281.20" x2="229.00" y2="281.20" stroke="#333" stroke-width="0.3" />
<line x1="229.50" y1="281.00" x2="229.50" y2="282.20" stroke="#333" stroke-width="0.3" />
<line x1="227.80" y1="280.30" x2="229.00" y2="280.30" stroke="#333" stroke-width="0.3" />
<line x1="230.40" y1="281.00" x2="230.40" y2="282.20" stroke="#333" stroke-width="0.3" />
<line x1="227.80" y1="279.40" x2="229.00" y2="279.40" stroke="#333" stroke-width="0.3" />
<line x1="231.30" y1="281.00" x2="231.30" y2="282.20" stroke="#333" stroke-width="0.3" />
<line x1="227.80" y1="278.50" x2="229.00" y2="278.50" stroke="#333" stroke-width="0.3" />
<line x1="232.20" y1="281.00" x2="232.20" y2="282.20" stroke="#333" stroke-width="0.3" />
<line x1="227.80" y1="277.60" x2="229.00" y2="277.60" stroke="#333" stroke-width="0.3" />
<line x1="233.10" y1="281.00" x2="233.10" y2="282.20" stroke="#333" stroke-width="0.3" />
<line x1="227.80" y1="276.70" x2="229.00" y2="276.70" stroke="#333" stroke-width="0.3" />
<line x1="234.00" y1="281.00" x2="234.00" y2="282.20" stroke="#333" stroke-width="0.3" />
<line x1="227.80" y1="275.80" x2="229.00" y2="275.80" stroke="#333" stroke-width="0.3" />
<line x1="234.90" y1="281.00" x2="234.90" y2="282.20" stroke="#333" stroke-width="0.3" />
<line x1="227.80" y1="274.90" x2="229.00" y2="274.90" stroke="#333" stroke-width="0.3" />
<rect x="45.50" y="298.00" width="44.30" height="44.20" fill="#fff" stroke="#777" stroke-width="0.6"/>
<clipPath id="cp45298"><rect x="45.50" y="298.00" width="44.30" height="44.20"/></clipPath>
<g clip-path="url(#cp45298)">
<path d="M61.5 309.8h0.5M54.4 311.3h0.5M56.4 301.4h0.5M75.2 313.7h0.5M52.9 328.2h0.5M50.1 310.8h0.5M82.7 305.1h0.5M65.5 333.5h0.5M81.4 306.4h0.5M61.5 328.9h0.5M62.6 338.3h0.5M55.2 338.0h0.5M68.2 309.1h0.5M65.9 305.2h0.5M77.1 310.4h0.5M85.6 323.5h0.5M62.2 309.9h0.5M72.8 308.5h0.5M84.4 304.9h0.5M68.6 321.7h0.5M57.9 330.9h0.5M62.9 326.3h0.5M71.0 312.4h0.5M63.2 303.4h0.5M53.8 334.0h0.5M60.1 326.5h0.5M50.8 322.5h0.5M61.9 320.0h0.5M59.1 302.6h0.5M59.7 309.1h0.5M51.5 328.7h0.5M58.4 316.1h0.5M86.0 331.0h0.5M84.8 334.5h0.5M51.8 311.1h0.5M47.3 327.2h0.5M75.2 314.1h0.5M64.2 326.4h0.5M76.8 309.9h0.5M83.3 314.1h0.5M73.7 307.3h0.5M51.1 336.5h0.5M78.3 328.5h0.5M47.8 301.6h0.5M53.1 307.9h0.5M59.3 315.2h0.5M47.7 312.4h0.5M74.1 307.2h0.5M82.9 322.8h0.5M77.5 310.2h0.5M65.1 327.4h0.5M61.4 300.0h0.5M82.7 331.1h0.5M58.6 301.7h0.5M83.6 324.3h0.5M48.1 309.8h0.5M50.9 331.7h0.5M55.2 336.6h0.5M79.0 303.4h0.5M76.6 315.7h0.5M78.9 333.1h0.5M58.4 303.6h0.5M87.6 317.0h0.5M86.9 327.7h0.5M78.5 333.2h0.5M73.6 318.1h0.5M48.4 327.9h0.5M64.8 320.5h0.5M86.8 305.1h0.5M79.5 301.7h0.5M76.9 332.2h0.5M57.5 321.9h0.5M88.7 325.5h0.5M69.9 310.0h0.5M48.6 314.3h0.5M64.1 308.1h0.5M59.7 305.5h0.5M77.1 326.8h0.5M56.5 309.7h0.5M68.7 317.8h0.5M87.2 314.1h0.5M59.2 335.4h0.5M52.2 322.5h0.5M60.7 332.6h0.5M70.1 330.4h0.5M53.4 326.7h0.5M72.3 318.4h0.5M79.7 333.2h0.5M51.0 311.6h0.5M61.9 308.3h0.5M48.7 311.2h0.5M54.7 328.1h0.5M65.7 304.5h0.5M60.3 318.7h0.5M62.0 306.7h0.5M49.2 300.4h0.5M89.7 330.0h0.5M49.7 328.7h0.5M89.1 322.5h0.5M50.8 319.6h0.5M65.1 307.6h0.5M69.9 300.3h0.5M86.5 325.8h0.5M73.6 337.4h0.5M74.7 310.1h0.5M56.8 305.5h0.5M47.2 331.0h0.5M82.9 311.9h0.5M54.2 325.5h0.5M83.2 337.1h0.5M53.4 331.4h0.5M82.5 329.7h0.5M60.4 307.4h0.5M82.3 312.8h0.5M62.2 322.0h0.5M62.2 333.3h0.5M56.5 301.7h0.5M70.9 325.1h0.5M82.1 328.2h0.5M85.8 337.8h0.5M67.8 320.0h0.5M52.9 312.0h0.5M71.6 303.2h0.5M76.3 306.5h0.5M65.5 338.8h0.5M49.9 301.6h0.5M65.3 307.6h0.5M77.8 300.1h0.5M83.0 334.2h0.5M80.6 317.0h0.5M58.5 326.5h0.5M68.6 316.8h0.5M60.9 317.5h0.5M75.3 333.0h0.5M85.8 306.6h0.5M59.0 317.7h0.5M70.8 313.9h0.5M54.6 303.4h0.5M60.2 318.4h0.5M88.7 336.3h0.5M84.1 339.0h0.5M88.3 324.8h0.5M81.7 302.4h0.5M75.8 324.4h0.5M59.1 322.8h0.5M87.9 319.2h0.5M74.5 312.0h0.5M61.1 335.4h0.5M47.2 307.6h0.5M75.9 317.9h0.5M49.7 326.4h0.5M62.4 323.2h0.5M64.3 321.2h0.5M70.9 315.9h0.5M51.0 307.2h0.5M85.2 321.9h0.5M50.9 334.5h0.5M57.2 303.8h0.5M69.4 310.1h0.5M67.5 322.2h0.5M56.0 322.9h0.5M51.0 320.5h0.5M71.9 303.2h0.5M64.0 302.9h0.5M65.3 334.5h0.5M70.2 328.6h0.5M79.3 304.6h0.5M89.6 328.9h0.5M50.5 333.2h0.5M63.2 306.9h0.5M88.2 322.5h0.5M80.1 305.5h0.5M80.2 302.3h0.5M56.4 314.9h0.5M46.7 323.8h0.5M55.4 312.0h0.5M77.1 317.0h0.5M85.1 324.8h0.5M84.4 322.5h0.5M86.4 334.8h0.5" stroke="#555" stroke-width="0.5" opacity="0.35"/>
<path d="M69.3 335.0h0.5M53.7 334.8h0.5M54.9 306.8h0.5M68.2 328.1h0.5M60.2 300.2h0.5M61.5 319.4h0.5M58.7 319.5h0.5M46.5 317.1h0.5M77.6 335.4h0.5M58.9 315.8h0.5M65.4 331.2h0.5M68.2 311.9h0.5M63.4 323.2h0.5M74.4 332.3h0.5M66.5 332.5h0.5M58.6 335.3h0.5M58.3 325.4h0.5M69.9 314.1h0.5M55.9 306.8h0.5M63.4 321.5h0.5M59.2 326.3h0.5M43.7 321.8h0.5M62.8 319.7h0.5M68.9 337.1h0.5M58.1 313.9h0.5M56.8 322.8h0.5M67.1 314.6h0.5M70.6 313.1h0.5M69.1 325.7h0.5M66.0 340.6h0.5M59.7 320.6h0.5M66.1 329.5h0.5M50.4 324.4h0.5M55.6 327.4h0.5M73.8 322.4h0.5M61.1 323.6h0.5M36.5 328.7h0.5M66.8 323.4h0.5M58.6 315.7h0.5M60.5 332.5h0.5M61.1 333.6h0.5M39.8 318.0h0.5M64.4 321.9h0.5M47.7 316.3h0.5M72.8 310.8h0.5M53.4 312.5h0.5M57.2 327.6h0.5M67.1 304.5h0.5M74.6 316.9h0.5M56.9 336.4h0.5M61.3 311.3h0.5M56.5 315.7h0.5M53.3 319.1h0.5M69.6 325.0h0.5M50.1 346.1h0.5M53.4 323.0h0.5M62.3 328.6h0.5M59.2 325.9h0.5M80.2 322.8h0.5M52.6 324.8h0.5M55.1 318.8h0.5M63.6 324.9h0.5M59.5 329.3h0.5M60.3 310.7h0.5M69.6 318.9h0.5M72.5 316.3h0.5M66.9 324.7h0.5M38.7 309.1h0.5M52.3 334.2h0.5M45.7 329.9h0.5M71.4 326.3h0.5M67.8 317.7h0.5M61.9 323.9h0.5M65.6 328.1h0.5M60.2 315.9h0.5M57.1 325.6h0.5M47.6 311.2h0.5M58.4 317.2h0.5M59.7 299.0h0.5M59.1 319.8h0.5M68.7 304.9h0.5M59.4 326.1h0.5M66.2 332.3h0.5M71.1 312.9h0.5M67.5 319.1h0.5M55.1 335.3h0.5M56.6 314.6h0.5M58.5 314.6h0.5M70.7 325.3h0.5M74.1 325.6h0.5M56.7 331.1h0.5M56.3 318.0h0.5M60.5 322.3h0.5M72.3 316.8h0.5M65.0 321.8h0.5M51.1 312.5h0.5M60.1 325.5h0.5M64.8 326.2h0.5M62.4 318.1h0.5M65.7 313.3h0.5M50.4 319.1h0.5M49.6 317.5h0.5M55.5 317.2h0.5M61.6 315.1h0.5M58.3 307.2h0.5M63.3 314.4h0.5M65.5 297.5h0.5M55.0 324.1h0.5M40.8 318.9h0.5M62.8 322.9h0.5M49.0 324.0h0.5M63.3 313.6h0.5M68.5 321.6h0.5M62.2 318.1h0.5M66.8 322.8h0.5M71.9 325.9h0.5M56.6 320.1h0.5M70.0 318.8h0.5M65.3 326.5h0.5M60.4 301.8h0.5M63.1 323.9h0.5M63.2 315.4h0.5M72.5 320.8h0.5M56.6 315.8h0.5M65.1 312.5h0.5M53.3 339.4h0.5M73.4 331.2h0.5M73.9 327.2h0.5M47.3 332.4h0.5M72.8 326.3h0.5M45.0 332.8h0.5M73.9 317.7h0.5M63.1 328.8h0.5M61.3 331.6h0.5M62.7 328.0h0.5M62.7 309.1h0.5M53.3 349.6h0.5M64.4 333.4h0.5M71.9 337.0h0.5M66.8 316.8h0.5M62.2 305.3h0.5M60.4 329.9h0.5M43.1 323.7h0.5M69.2 333.6h0.5M53.9 316.3h0.5M45.6 313.1h0.5M66.7 340.1h0.5M52.0 334.0h0.5M65.7 317.7h0.5M81.2 300.0h0.5M61.4 323.9h0.5M80.6 337.7h0.5M81.8 323.2h0.5M70.6 333.9h0.5M66.5 325.1h0.5M60.4 318.4h0.5M51.3 339.0h0.5M58.1 303.8h0.5M64.3 321.7h0.5M63.5 337.9h0.5M61.1 319.7h0.5M55.5 321.8h0.5M58.2 323.8h0.5M89.3 325.4h0.5M54.5 338.9h0.5M69.6 329.1h0.5M68.3 329.2h0.5M67.9 334.3h0.5M70.8 333.8h0.5M57.6 322.0h0.5M55.6 330.4h0.5M69.3 317.9h0.5M67.1 345.0h0.5M72.8 312.2h0.5M61.2 327.6h0.5M61.7 325.4h0.5M72.3 324.9h0.5M52.4 328.3h0.5M61.1 323.0h0.5M57.0 309.9h0.5M51.1 318.9h0.5M52.6 298.2h0.5M72.1 311.8h0.5M55.6 326.7h0.5M40.9 333.8h0.5M55.3 327.8h0.5M57.8 324.7h0.5M62.9 322.0h0.5M46.0 309.1h0.5M61.6 334.4h0.5M57.2 326.7h0.5M63.4 326.2h0.5M70.7 308.9h0.5M64.4 320.4h0.5M59.3 314.5h0.5M55.1 313.0h0.5M52.4 344.0h0.5M76.9 322.1h0.5M68.5 313.4h0.5M37.6 306.0h0.5M63.2 334.6h0.5M61.6 313.2h0.5M59.9 313.3h0.5M49.8 320.0h0.5M58.5 314.9h0.5M54.2 313.8h0.5M64.1 334.2h0.5M60.2 341.6h0.5M47.8 324.4h0.5M51.9 320.6h0.5M62.9 326.9h0.5M71.9 317.1h0.5M51.1 320.3h0.5M64.6 315.9h0.5M69.8 336.8h0.5M49.5 325.2h0.5M70.9 305.1h0.5M63.8 320.0h0.5M49.5 333.5h0.5M63.9 317.8h0.5M65.9 327.6h0.5M68.7 327.1h0.5M65.6 311.7h0.5M58.3 323.1h0.5M37.7 340.7h0.5M58.7 312.7h0.5M46.0 324.2h0.5M62.3 316.9h0.5M58.3 314.2h0.5M55.4 321.1h0.5M56.4 328.0h0.5M60.7 323.2h0.5M65.6 333.1h0.5M67.3 324.0h0.5M60.6 314.9h0.5M59.0 328.0h0.5M64.0 318.6h0.5M50.3 308.6h0.5M64.8 331.0h0.5M65.3 310.0h0.5M60.1 323.9h0.5M53.9 325.0h0.5M60.2 314.7h0.5M51.1 329.1h0.5M65.1 314.2h0.5M53.1 329.8h0.5M67.2 319.3h0.5M76.0 319.5h0.5M52.7 331.6h0.5M60.3 325.0h0.5M62.3 313.2h0.5M51.6 320.3h0.5M74.3 313.2h0.5M73.9 323.9h0.5M52.3 324.3h0.5M67.0 314.1h0.5M43.3 325.1h0.5M52.3 325.9h0.5M45.3 320.8h0.5M54.9 309.0h0.5M59.9 323.5h0.5M57.1 311.7h0.5M63.9 306.7h0.5M66.7 326.3h0.5M76.7 329.7h0.5M65.1 324.3h0.5M62.2 310.4h0.5M74.8 326.6h0.5M59.5 312.0h0.5M75.0 326.7h0.5M51.6 327.9h0.5M78.6 321.8h0.5M65.5 318.4h0.5M56.5 331.4h0.5M88.9 323.0h0.5M60.9 328.9h0.5M59.3 328.4h0.5M69.2 313.1h0.5M52.6 321.4h0.5M69.3 324.4h0.5M72.8 310.0h0.5M66.3 316.6h0.5M62.9 324.8h0.5M53.5 320.0h0.5M51.8 324.3h0.5M54.6 317.7h0.5M63.9 316.3h0.5M72.0 316.4h0.5M69.4 324.5h0.5M53.0 320.1h0.5M54.7 318.8h0.5M59.6 337.9h0.5M58.3 335.7h0.5M65.9 310.6h0.5M41.8 327.9h0.5M44.6 328.3h0.5M71.0 325.4h0.5M60.2 319.8h0.5M64.3 319.4h0.5M57.3 318.8h0.5M72.2 316.6h0.5M65.3 312.0h0.5M55.8 310.0h0.5M60.3 328.0h0.5M64.7 317.7h0.5M67.3 319.0h0.5M65.2 324.4h0.5M66.7 300.4h0.5M50.7 328.7h0.5M61.1 341.5h0.5M60.0 317.2h0.5M75.0 326.8h0.5M78.5 326.4h0.5M60.2 328.3h0.5M55.1 318.1h0.5M57.2 320.1h0.5M68.8 317.8h0.5M64.8 317.7h0.5M69.7 298.0h0.5M60.2 323.5h0.5M52.6 330.8h0.5M63.9 333.1h0.5M70.4 327.6h0.5M60.7 312.5h0.5M60.1 318.0h0.5M64.2 318.0h0.5M88.6 308.1h0.5M72.2 317.9h0.5M59.9 330.1h0.5M62.0 311.5h0.5" stroke="#444" stroke-width="0.55" opacity="0.55"/>
<g transform="translate(52.00,336.00) rotate(0)">
<ellipse cx="0" cy="0" rx="5.00" ry="4.00" fill="#000" opacity="0.22"/>
<ellipse cx="0" cy="0" rx="3.00" ry="2.40" fill="#000" opacity="0.45" filter="url(#b05)"/>
<ellipse cx="0" cy="0" rx="1.75" ry="1.40" fill="#111" opacity="0.80"/>
<ellipse cx="0" cy="0" rx="5.00" ry="4.00" fill="none" stroke="#222" stroke-width="0.45" opacity="1.00"/>
<ellipse cx="0" cy="0" rx="4.06" ry="3.25" fill="none" stroke="#222" stroke-width="0.45" opacity="1.00"/>
<ellipse cx="0" cy="0" rx="3.11" ry="2.49" fill="none" stroke="#222" stroke-width="0.45" opacity="1.00"/>
<ellipse cx="0" cy="0" rx="2.17" ry="1.74" fill="none" stroke="#222" stroke-width="0.45" opacity="1.00"/>
<ellipse cx="0" cy="0" rx="1.23" ry="0.98" fill="none" stroke="#222" stroke-width="0.45" opacity="1.00"/>
</g>
<g transform="translate(63.00,322.00) rotate(40)">
<ellipse cx="0" cy="0" rx="5.00" ry="14.00" fill="none" stroke="#222" stroke-width="0.45" opacity="0.72"/>
<ellipse cx="0" cy="0" rx="3.48" ry="9.76" fill="none" stroke="#222" stroke-width="0.45" opacity="0.72"/>
<ellipse cx="0" cy="0" rx="1.97" ry="5.52" fill="none" stroke="#222" stroke-width="0.45" opacity="0.72"/>
</g>
<g transform="translate(76.00,308.00) rotate(-15)">
<ellipse cx="0" cy="0" rx="6.00" ry="3.50" fill="#000" opacity="0.18"/>
<ellipse cx="0" cy="0" rx="3.60" ry="2.10" fill="#000" opacity="0.36" filter="url(#b05)"/>
<ellipse cx="0" cy="0" rx="2.10" ry="1.22" fill="#111" opacity="0.64"/>
<ellipse cx="0" cy="0" rx="6.00" ry="3.50" fill="none" stroke="#222" stroke-width="0.45" opacity="0.92"/>
<ellipse cx="0" cy="0" rx="4.87" ry="2.84" fill="none" stroke="#222" stroke-width="0.45" opacity="0.92"/>
<ellipse cx="0" cy="0" rx="3.74" ry="2.18" fill="none" stroke="#222" stroke-width="0.45" opacity="0.92"/>
<ellipse cx="0" cy="0" rx="2.60" ry="1.52" fill="none" stroke="#222" stroke-width="0.45" opacity="0.92"/>
<ellipse cx="0" cy="0" rx="1.47" ry="0.86" fill="none" stroke="#222" stroke-width="0.45" opacity="0.92"/>
</g>
<g transform="translate(55.00,326.00) rotate(0)">
<ellipse cx="0" cy="0" rx="4.00" ry="10.00" fill="none" stroke="#222" stroke-width="0.45" opacity="0.70"/>
<ellipse cx="0" cy="0" rx="2.26" ry="5.65" fill="none" stroke="#222" stroke-width="0.45" opacity="0.70"/>
</g>
</g>
<line x1="64.00" y1="298.00" x2="64.00" y2="342.20" stroke="#555" stroke-width="0.5" />
<line x1="45.50" y1="321.10" x2="89.80" y2="321.10" stroke="#555" stroke-width="0.5" />
<text x="46.80" y="303.00" font-size="4.4" text-anchor="start" font-weight="normal" font-style="normal" fill="#222" >1.7</text>
<text x="88.50" y="303.00" font-size="4.4" text-anchor="end" font-weight="normal" font-style="normal" fill="#222" >32</text>
<text x="88.20" y="340.40" font-size="4.4" text-anchor="end" font-weight="normal" font-style="normal" fill="#222" >1.6</text>
<text x="43.70" y="303.80" font-size="4.8" text-anchor="end" font-weight="normal" font-style="normal" fill="#444" >10<tspan dy="-1.6" font-size="3.6">5</tspan></text>
<text x="43.70" y="313.00" font-size="4.8" text-anchor="end" font-weight="normal" font-style="normal" fill="#444" >10<tspan dy="-1.6" font-size="3.6">4</tspan></text>
<text x="43.70" y="323.30" font-size="4.8" text-anchor="end" font-weight="normal" font-style="normal" fill="#444" >10<tspan dy="-1.6" font-size="3.6">3</tspan></text>
<text x="43.70" y="333.70" font-size="4.8" text-anchor="end" font-weight="normal" font-style="normal" fill="#444" >10<tspan dy="-1.6" font-size="3.6">2</tspan></text>
<text x="43.70" y="339.00" font-size="4.8" text-anchor="end" font-weight="normal" font-style="normal" fill="#444" >0</text>
<line x1="44.30" y1="302.40" x2="45.50" y2="302.40" stroke="#444" stroke-width="0.4" />
<line x1="44.30" y1="311.60" x2="45.50" y2="311.60" stroke="#444" stroke-width="0.4" />
<line x1="44.30" y1="320.80" x2="45.50" y2="320.80" stroke="#444" stroke-width="0.4" />
<line x1="44.30" y1="332.20" x2="45.50" y2="332.20" stroke="#444" stroke-width="0.4" />
<line x1="44.30" y1="337.30" x2="45.50" y2="337.30" stroke="#444" stroke-width="0.4" />
<text x="53.10" y="350.60" font-size="4.8" text-anchor="middle" font-weight="normal" font-style="normal" fill="#444" >0<tspan>10</tspan><tspan dy="-1.6" font-size="3.6">2</tspan></text>
<text x="66.30" y="350.60" font-size="4.8" text-anchor="middle" font-weight="normal" font-style="normal" fill="#444" >10<tspan dy="-1.6" font-size="3.6">3</tspan></text>
<text x="76.30" y="350.60" font-size="4.8" text-anchor="middle" font-weight="normal" font-style="normal" fill="#444" >10<tspan dy="-1.6" font-size="3.6">4</tspan></text>
<text x="85.50" y="350.60" font-size="4.8" text-anchor="middle" font-weight="normal" font-style="normal" fill="#444" >10<tspan dy="-1.6" font-size="3.6">5</tspan></text>
<line x1="47.50" y1="342.20" x2="47.50" y2="343.40" stroke="#444" stroke-width="0.4" />
<line x1="53.10" y1="342.20" x2="53.10" y2="343.40" stroke="#444" stroke-width="0.4" />
<line x1="66.30" y1="342.20" x2="66.30" y2="343.40" stroke="#444" stroke-width="0.4" />
<line x1="76.30" y1="342.20" x2="76.30" y2="343.40" stroke="#444" stroke-width="0.4" />
<line x1="85.50" y1="342.20" x2="85.50" y2="343.40" stroke="#444" stroke-width="0.4" />
<line x1="46.30" y1="341.00" x2="46.30" y2="342.20" stroke="#333" stroke-width="0.3" />
<line x1="45.50" y1="341.20" x2="46.70" y2="341.20" stroke="#333" stroke-width="0.3" />
<line x1="47.20" y1="341.00" x2="47.20" y2="342.20" stroke="#333" stroke-width="0.3" />
<line x1="45.50" y1="340.30" x2="46.70" y2="340.30" stroke="#333" stroke-width="0.3" />
<line x1="48.10" y1="341.00" x2="48.10" y2="342.20" stroke="#333" stroke-width="0.3" />
<line x1="45.50" y1="339.40" x2="46.70" y2="339.40" stroke="#333" stroke-width="0.3" />
<line x1="49.00" y1="341.00" x2="49.00" y2="342.20" stroke="#333" stroke-width="0.3" />
<line x1="45.50" y1="338.50" x2="46.70" y2="338.50" stroke="#333" stroke-width="0.3" />
<line x1="49.90" y1="341.00" x2="49.90" y2="342.20" stroke="#333" stroke-width="0.3" />
<line x1="45.50" y1="337.60" x2="46.70" y2="337.60" stroke="#333" stroke-width="0.3" />
<line x1="50.80" y1="341.00" x2="50.80" y2="342.20" stroke="#333" stroke-width="0.3" />
<line x1="45.50" y1="336.70" x2="46.70" y2="336.70" stroke="#333" stroke-width="0.3" />
<line x1="51.70" y1="341.00" x2="51.70" y2="342.20" stroke="#333" stroke-width="0.3" />
<line x1="45.50" y1="335.80" x2="46.70" y2="335.80" stroke="#333" stroke-width="0.3" />
<line x1="52.60" y1="341.00" x2="52.60" y2="342.20" stroke="#333" stroke-width="0.3" />
<line x1="45.50" y1="334.90" x2="46.70" y2="334.90" stroke="#333" stroke-width="0.3" />
<rect x="106.20" y="298.00" width="44.30" height="44.20" fill="#fff" stroke="#777" stroke-width="0.6"/>
<clipPath id="cp106298"><rect x="106.20" y="298.00" width="44.30" height="44.20"/></clipPath>
<g clip-path="url(#cp106298)">
<path d="M137.6 322.0h0.5M122.5 339.0h0.5M126.3 331.9h0.5M109.0 323.1h0.5M115.2 339.6h0.5M134.7 325.0h0.5M137.4 320.7h0.5M126.4 341.3h0.5M117.7 340.8h0.5M128.3 321.1h0.5M117.3 329.9h0.5M114.4 336.3h0.5M112.1 337.3h0.5M116.1 321.5h0.5M125.0 322.1h0.5M124.8 337.3h0.5M126.3 330.2h0.5M107.1 331.3h0.5M109.3 334.2h0.5M110.5 332.7h0.5M118.0 328.2h0.5M128.5 323.6h0.5M111.8 340.7h0.5M117.3 338.5h0.5M135.7 330.6h0.5M111.1 322.1h0.5M135.9 322.6h0.5M122.9 331.8h0.5M110.0 330.3h0.5M111.6 331.8h0.5M123.2 328.1h0.5M112.7 328.9h0.5M112.9 322.8h0.5M114.2 339.2h0.5M123.1 339.6h0.5M106.5 340.8h0.5M122.6 337.4h0.5M125.4 335.2h0.5M113.8 336.5h0.5M111.2 325.8h0.5M107.1 328.7h0.5M123.6 326.4h0.5M136.3 321.9h0.5M125.7 325.1h0.5M126.2 337.2h0.5M130.2 321.4h0.5M114.4 333.2h0.5M139.4 320.9h0.5M127.0 335.2h0.5M133.7 327.5h0.5M133.6 330.2h0.5M137.3 320.2h0.5M138.0 329.1h0.5M119.8 321.9h0.5M114.3 336.1h0.5M129.1 323.3h0.5M117.7 323.1h0.5M112.7 324.8h0.5M117.3 341.5h0.5M139.9 337.4h0.5M122.3 330.9h0.5M132.5 340.0h0.5M131.5 334.0h0.5M112.8 333.8h0.5M134.8 337.3h0.5M109.1 335.8h0.5M117.9 323.6h0.5M138.8 334.8h0.5M131.3 323.0h0.5M134.2 340.6h0.5M136.8 336.4h0.5M134.3 337.6h0.5M126.1 329.6h0.5M134.1 337.3h0.5M135.6 326.6h0.5M138.7 331.7h0.5M138.2 322.5h0.5M138.9 337.3h0.5M114.6 338.4h0.5M113.9 324.4h0.5" stroke="#555" stroke-width="0.5" opacity="0.35"/>
<path d="M114.9 334.8h0.5M100.2 334.4h0.5M115.8 328.2h0.5M108.4 338.4h0.5M126.1 328.2h0.5M139.5 331.3h0.5M118.5 334.9h0.5M111.1 327.8h0.5M114.8 338.5h0.5M131.2 327.9h0.5M133.6 334.1h0.5M126.8 334.2h0.5M126.0 330.1h0.5M113.3 331.3h0.5M118.5 336.4h0.5M110.3 340.1h0.5M115.9 331.7h0.5M128.8 335.7h0.5M118.7 329.9h0.5M112.4 327.8h0.5M133.0 338.2h0.5M140.0 335.9h0.5M125.2 336.9h0.5M131.2 333.0h0.5M125.4 342.3h0.5M105.7 328.6h0.5M112.7 336.9h0.5M133.4 332.7h0.5M128.5 333.8h0.5M124.9 331.9h0.5M121.7 334.0h0.5M132.9 342.6h0.5M104.5 336.1h0.5M122.0 337.7h0.5M132.2 337.0h0.5M129.8 330.3h0.5M105.6 340.4h0.5M133.6 330.3h0.5M134.4 336.6h0.5M98.4 337.5h0.5M112.5 338.5h0.5M115.4 331.1h0.5M107.1 333.2h0.5M131.8 331.4h0.5M104.1 342.3h0.5M139.8 336.7h0.5M116.8 329.3h0.5M106.2 336.2h0.5M134.5 329.9h0.5M122.0 332.9h0.5M119.5 335.9h0.5M142.2 331.5h0.5M130.2 338.2h0.5M119.3 333.4h0.5M109.1 338.2h0.5M116.9 331.5h0.5M122.6 330.7h0.5M112.0 332.9h0.5M136.3 333.2h0.5M127.1 328.3h0.5M103.2 341.0h0.5M118.2 328.1h0.5M121.0 336.3h0.5M105.3 330.6h0.5M124.5 330.4h0.5M129.7 337.7h0.5M126.3 332.3h0.5M121.6 331.6h0.5M120.7 335.2h0.5M119.1 337.8h0.5M147.0 331.9h0.5M125.3 337.2h0.5M128.2 333.1h0.5M117.4 337.9h0.5M128.0 336.0h0.5M114.2 336.4h0.5M129.7 333.3h0.5M128.2 342.4h0.5M103.9 336.3h0.5M110.7 328.7h0.5M119.7 336.1h0.5M122.5 329.5h0.5M108.1 331.8h0.5M122.1 330.8h0.5M107.5 340.8h0.5M113.9 333.4h0.5M116.7 331.7h0.5M122.4 332.8h0.5M128.0 329.4h0.5M107.6 341.5h0.5M121.3 337.0h0.5M133.4 336.1h0.5M122.4 328.0h0.5M106.5 337.8h0.5M128.6 336.2h0.5M105.9 325.7h0.5M111.8 329.4h0.5M123.5 330.0h0.5M137.3 331.6h0.5M116.6 337.3h0.5M125.2 330.5h0.5M130.0 341.5h0.5M110.1 333.0h0.5M111.6 326.5h0.5M128.1 336.7h0.5M131.5 335.7h0.5M102.5 333.9h0.5M115.5 329.4h0.5M111.3 337.0h0.5M119.1 341.6h0.5M126.6 326.6h0.5M130.7 338.9h0.5M122.3 329.3h0.5M139.2 328.9h0.5M121.2 326.6h0.5M109.8 327.4h0.5M132.6 338.6h0.5M118.1 328.7h0.5M121.4 335.5h0.5M107.1 329.5h0.5M121.0 336.7h0.5M122.7 335.8h0.5M109.8 324.3h0.5M125.0 330.4h0.5M120.8 332.5h0.5M126.7 331.0h0.5M136.1 334.1h0.5M127.2 336.5h0.5M132.1 335.6h0.5M104.9 331.5h0.5M140.2 335.8h0.5M127.5 335.8h0.5M115.7 331.4h0.5M115.7 338.5h0.5M125.6 341.0h0.5M126.9 341.4h0.5M126.5 329.4h0.5M139.0 335.3h0.5M133.7 334.8h0.5M118.8 334.7h0.5" stroke="#444" stroke-width="0.55" opacity="0.55"/>
<g transform="translate(117.00,336.00) rotate(0)">
<ellipse cx="0" cy="0" rx="10.00" ry="4.50" fill="#000" opacity="0.20"/>
<ellipse cx="0" cy="0" rx="6.00" ry="2.70" fill="#000" opacity="0.41" filter="url(#b05)"/>
<ellipse cx="0" cy="0" rx="3.50" ry="1.57" fill="#111" opacity="0.72"/>
<ellipse cx="0" cy="0" rx="10.00" ry="4.50" fill="none" stroke="#222" stroke-width="0.45" opacity="0.96"/>
<ellipse cx="0" cy="0" rx="8.11" ry="3.65" fill="none" stroke="#222" stroke-width="0.45" opacity="0.96"/>
<ellipse cx="0" cy="0" rx="6.23" ry="2.80" fill="none" stroke="#222" stroke-width="0.45" opacity="0.96"/>
<ellipse cx="0" cy="0" rx="4.34" ry="1.95" fill="none" stroke="#222" stroke-width="0.45" opacity="0.96"/>
<ellipse cx="0" cy="0" rx="2.45" ry="1.10" fill="none" stroke="#222" stroke-width="0.45" opacity="0.96"/>
</g>
<g transform="translate(123.00,320.00) rotate(0)">
<ellipse cx="0" cy="0" rx="12.00" ry="2.60" fill="#000" opacity="0.09"/>
<ellipse cx="0" cy="0" rx="7.20" ry="1.56" fill="#000" opacity="0.18" filter="url(#b05)"/>
<ellipse cx="0" cy="0" rx="12.00" ry="2.60" fill="none" stroke="#222" stroke-width="0.45" opacity="0.76"/>
<ellipse cx="0" cy="0" rx="9.21" ry="2.00" fill="none" stroke="#222" stroke-width="0.45" opacity="0.76"/>
<ellipse cx="0" cy="0" rx="6.42" ry="1.39" fill="none" stroke="#222" stroke-width="0.45" opacity="0.76"/>
<ellipse cx="0" cy="0" rx="3.63" ry="0.79" fill="none" stroke="#222" stroke-width="0.45" opacity="0.76"/>
</g>
<g transform="translate(137.00,320.00) rotate(0)">
<ellipse cx="0" cy="0" rx="3.00" ry="3.50" fill="#000" opacity="0.22"/>
<ellipse cx="0" cy="0" rx="1.80" ry="2.10" fill="#000" opacity="0.45" filter="url(#b05)"/>
<ellipse cx="0" cy="0" rx="1.05" ry="1.22" fill="#111" opacity="0.80"/>
<ellipse cx="0" cy="0" rx="3.00" ry="3.50" fill="none" stroke="#222" stroke-width="0.45" opacity="1.00"/>
<ellipse cx="0" cy="0" rx="2.30" ry="2.69" fill="none" stroke="#222" stroke-width="0.45" opacity="1.00"/>
<ellipse cx="0" cy="0" rx="1.60" ry="1.87" fill="none" stroke="#222" stroke-width="0.45" opacity="1.00"/>
<ellipse cx="0" cy="0" rx="0.91" ry="1.06" fill="none" stroke="#222" stroke-width="0.45" opacity="1.00"/>
</g>
</g>
<line x1="129.70" y1="298.00" x2="129.70" y2="342.20" stroke="#555" stroke-width="0.5" />
<line x1="106.20" y1="328.00" x2="150.50" y2="328.00" stroke="#555" stroke-width="0.5" />
<text x="107.50" y="303.00" font-size="4.4" text-anchor="start" font-weight="normal" font-style="normal" fill="#222" >6.2</text>
<text x="149.20" y="303.00" font-size="4.4" text-anchor="end" font-weight="normal" font-style="normal" fill="#222" >18</text>
<text x="148.90" y="340.40" font-size="4.4" text-anchor="end" font-weight="normal" font-style="normal" fill="#222" >5</text>
<text x="104.40" y="303.80" font-size="4.8" text-anchor="end" font-weight="normal" font-style="normal" fill="#444" >10<tspan dy="-1.6" font-size="3.6">5</tspan></text>
<text x="104.40" y="313.00" font-size="4.8" text-anchor="end" font-weight="normal" font-style="normal" fill="#444" >10<tspan dy="-1.6" font-size="3.6">4</tspan></text>
<text x="104.40" y="323.30" font-size="4.8" text-anchor="end" font-weight="normal" font-style="normal" fill="#444" >10<tspan dy="-1.6" font-size="3.6">3</tspan></text>
<text x="104.40" y="333.70" font-size="4.8" text-anchor="end" font-weight="normal" font-style="normal" fill="#444" >10<tspan dy="-1.6" font-size="3.6">2</tspan></text>
<text x="104.40" y="339.00" font-size="4.8" text-anchor="end" font-weight="normal" font-style="normal" fill="#444" >0</text>
<line x1="105.00" y1="302.40" x2="106.20" y2="302.40" stroke="#444" stroke-width="0.4" />
<line x1="105.00" y1="311.60" x2="106.20" y2="311.60" stroke="#444" stroke-width="0.4" />
<line x1="105.00" y1="320.80" x2="106.20" y2="320.80" stroke="#444" stroke-width="0.4" />
<line x1="105.00" y1="332.20" x2="106.20" y2="332.20" stroke="#444" stroke-width="0.4" />
<line x1="105.00" y1="337.30" x2="106.20" y2="337.30" stroke="#444" stroke-width="0.4" />
<text x="113.80" y="350.60" font-size="4.8" text-anchor="middle" font-weight="normal" font-style="normal" fill="#444" >0<tspan>10</tspan><tspan dy="-1.6" font-size="3.6">2</tspan></text>
<text x="127.00" y="350.60" font-size="4.8" text-anchor="middle" font-weight="normal" font-style="normal" fill="#444" >10<tspan dy="-1.6" font-size="3.6">3</tspan></text>
<text x="137.00" y="350.60" font-size="4.8" text-anchor="middle" font-weight="normal" font-style="normal" fill="#444" >10<tspan dy="-1.6" font-size="3.6">4</tspan></text>
<text x="146.20" y="350.60" font-size="4.8" text-anchor="middle" font-weight="normal" font-style="normal" fill="#444" >10<tspan dy="-1.6" font-size="3.6">5</tspan></text>
<line x1="108.20" y1="342.20" x2="108.20" y2="343.40" stroke="#444" stroke-width="0.4" />
<line x1="113.80" y1="342.20" x2="113.80" y2="343.40" stroke="#444" stroke-width="0.4" />
<line x1="127.00" y1="342.20" x2="127.00" y2="343.40" stroke="#444" stroke-width="0.4" />
<line x1="137.00" y1="342.20" x2="137.00" y2="343.40" stroke="#444" stroke-width="0.4" />
<line x1="146.20" y1="342.20" x2="146.20" y2="343.40" stroke="#444" stroke-width="0.4" />
<line x1="107.00" y1="341.00" x2="107.00" y2="342.20" stroke="#333" stroke-width="0.3" />
<line x1="106.20" y1="341.20" x2="107.40" y2="341.20" stroke="#333" stroke-width="0.3" />
<line x1="107.90" y1="341.00" x2="107.90" y2="342.20" stroke="#333" stroke-width="0.3" />
<line x1="106.20" y1="340.30" x2="107.40" y2="340.30" stroke="#333" stroke-width="0.3" />
<line x1="108.80" y1="341.00" x2="108.80" y2="342.20" stroke="#333" stroke-width="0.3" />
<line x1="106.20" y1="339.40" x2="107.40" y2="339.40" stroke="#333" stroke-width="0.3" />
<line x1="109.70" y1="341.00" x2="109.70" y2="342.20" stroke="#333" stroke-width="0.3" />
<line x1="106.20" y1="338.50" x2="107.40" y2="338.50" stroke="#333" stroke-width="0.3" />
<line x1="110.60" y1="341.00" x2="110.60" y2="342.20" stroke="#333" stroke-width="0.3" />
<line x1="106.20" y1="337.60" x2="107.40" y2="337.60" stroke="#333" stroke-width="0.3" />
<line x1="111.50" y1="341.00" x2="111.50" y2="342.20" stroke="#333" stroke-width="0.3" />
<line x1="106.20" y1="336.70" x2="107.40" y2="336.70" stroke="#333" stroke-width="0.3" />
<line x1="112.40" y1="341.00" x2="112.40" y2="342.20" stroke="#333" stroke-width="0.3" />
<line x1="106.20" y1="335.80" x2="107.40" y2="335.80" stroke="#333" stroke-width="0.3" />
<line x1="113.30" y1="341.00" x2="113.30" y2="342.20" stroke="#333" stroke-width="0.3" />
<line x1="106.20" y1="334.90" x2="107.40" y2="334.90" stroke="#333" stroke-width="0.3" />
<rect x="167.60" y="298.00" width="44.30" height="44.20" fill="#fff" stroke="#777" stroke-width="0.6"/>
<clipPath id="cp167298"><rect x="167.60" y="298.00" width="44.30" height="44.20"/></clipPath>
<g clip-path="url(#cp167298)">
<path d="M191.3 337.3h0.5M189.6 331.8h0.5M186.9 335.0h0.5M176.4 339.8h0.5M204.8 338.7h0.5M203.6 330.6h0.5M204.5 326.2h0.5M185.7 327.3h0.5M184.8 336.6h0.5M194.2 332.7h0.5M180.6 328.2h0.5M182.9 329.8h0.5M175.2 337.5h0.5M187.1 332.5h0.5M175.3 337.0h0.5M175.3 329.5h0.5M188.7 336.9h0.5M204.0 337.7h0.5M203.1 340.6h0.5M194.7 337.2h0.5M170.3 328.5h0.5M168.5 339.7h0.5M194.7 335.7h0.5M177.8 331.0h0.5M174.1 335.7h0.5M204.7 330.2h0.5M169.6 328.0h0.5M181.1 340.3h0.5M197.8 332.7h0.5M171.8 326.8h0.5M173.7 338.2h0.5M185.4 341.8h0.5M201.7 338.5h0.5M185.6 339.0h0.5M172.7 326.9h0.5M188.8 333.6h0.5M175.7 329.3h0.5M168.8 340.5h0.5M194.3 341.1h0.5M204.3 332.4h0.5M195.1 331.5h0.5M198.0 339.3h0.5M173.0 325.2h0.5M175.9 335.0h0.5M182.0 325.2h0.5M198.7 338.4h0.5M185.2 325.7h0.5M200.9 334.1h0.5M170.6 330.5h0.5M191.1 340.1h0.5M185.9 335.9h0.5M175.6 329.1h0.5M201.5 331.5h0.5M171.8 335.1h0.5M172.7 328.4h0.5M184.9 335.0h0.5M191.5 337.0h0.5M184.3 326.1h0.5M194.8 325.9h0.5M185.4 331.8h0.5" stroke="#555" stroke-width="0.5" opacity="0.35"/>
<path d="M177.1 328.4h0.5M183.7 339.8h0.5M179.8 329.8h0.5M194.0 340.8h0.5M180.7 333.2h0.5M184.7 345.7h0.5M184.1 338.0h0.5M186.5 326.8h0.5M174.2 329.1h0.5M186.4 334.4h0.5M197.3 332.9h0.5M185.5 334.3h0.5M184.1 343.2h0.5M185.3 339.9h0.5M193.3 331.6h0.5M188.5 332.5h0.5M183.9 334.6h0.5M183.2 332.1h0.5M195.4 332.9h0.5M188.6 340.7h0.5M188.0 338.1h0.5M194.1 338.3h0.5M196.7 328.3h0.5M198.6 334.1h0.5M169.1 331.4h0.5M171.9 333.9h0.5M171.1 330.0h0.5M185.4 334.6h0.5M176.6 333.1h0.5M182.2 334.3h0.5M182.9 333.1h0.5M190.0 327.6h0.5M179.1 334.5h0.5M179.8 331.8h0.5M179.5 334.8h0.5M192.9 333.3h0.5M180.9 335.4h0.5M181.1 326.3h0.5M185.1 332.5h0.5M178.4 336.5h0.5M183.4 331.7h0.5M165.6 327.1h0.5M183.1 333.5h0.5M186.5 334.9h0.5M179.2 328.9h0.5M174.2 333.4h0.5M173.8 337.0h0.5M172.4 326.8h0.5M181.5 326.9h0.5M196.0 330.0h0.5M182.6 333.0h0.5M176.4 326.9h0.5M168.1 337.5h0.5M191.2 342.7h0.5M171.3 336.2h0.5M182.9 337.4h0.5M178.9 336.9h0.5M190.2 336.4h0.5M194.6 333.3h0.5M195.3 331.2h0.5M196.3 323.0h0.5M183.1 330.8h0.5M183.0 338.1h0.5M188.7 334.4h0.5M196.6 328.1h0.5M176.5 340.0h0.5M185.6 325.7h0.5M185.7 329.3h0.5M194.8 338.6h0.5M178.6 339.2h0.5M176.3 337.7h0.5M187.6 333.5h0.5M171.6 332.9h0.5M164.7 331.7h0.5M168.2 338.9h0.5M175.3 324.3h0.5M187.7 335.5h0.5M178.9 342.5h0.5M189.2 334.3h0.5M177.8 322.2h0.5M186.8 337.8h0.5M178.3 328.3h0.5M182.7 327.3h0.5M183.1 337.1h0.5M195.1 335.1h0.5M184.6 337.0h0.5M194.2 332.7h0.5M173.2 330.8h0.5M172.9 330.4h0.5M182.0 335.4h0.5M184.2 334.3h0.5M180.1 335.7h0.5M190.1 337.0h0.5M195.0 332.8h0.5M181.0 340.8h0.5M184.6 335.7h0.5M180.3 337.9h0.5M179.8 330.0h0.5M182.5 332.2h0.5M189.7 332.5h0.5M184.0 333.1h0.5M185.7 331.5h0.5M191.8 328.3h0.5M179.9 331.2h0.5M188.2 334.2h0.5M186.9 332.7h0.5M177.3 329.5h0.5M180.3 331.9h0.5M185.2 335.4h0.5M190.8 333.6h0.5" stroke="#444" stroke-width="0.55" opacity="0.55"/>
<g transform="translate(183.00,335.00) rotate(0)">
<ellipse cx="0" cy="0" rx="9.00" ry="4.50" fill="#000" opacity="0.13"/>
<ellipse cx="0" cy="0" rx="5.40" ry="2.70" fill="#000" opacity="0.27" filter="url(#b05)"/>
<ellipse cx="0" cy="0" rx="9.00" ry="4.50" fill="none" stroke="#222" stroke-width="0.45" opacity="0.84"/>
<ellipse cx="0" cy="0" rx="7.30" ry="3.65" fill="none" stroke="#222" stroke-width="0.45" opacity="0.84"/>
<ellipse cx="0" cy="0" rx="5.60" ry="2.80" fill="none" stroke="#222" stroke-width="0.45" opacity="0.84"/>
<ellipse cx="0" cy="0" rx="3.91" ry="1.95" fill="none" stroke="#222" stroke-width="0.45" opacity="0.84"/>
<ellipse cx="0" cy="0" rx="2.21" ry="1.10" fill="none" stroke="#222" stroke-width="0.45" opacity="0.84"/>
</g>
<g transform="translate(169.00,335.00) rotate(0)">
<ellipse cx="0" cy="0" rx="2.00" ry="5.00" fill="#000" opacity="0.22"/>
<ellipse cx="0" cy="0" rx="1.20" ry="3.00" fill="#000" opacity="0.45" filter="url(#b05)"/>
<ellipse cx="0" cy="0" rx="0.70" ry="1.75" fill="#111" opacity="0.80"/>
<ellipse cx="0" cy="0" rx="2.00" ry="5.00" fill="none" stroke="#222" stroke-width="0.45" opacity="1.00"/>
<ellipse cx="0" cy="0" rx="1.39" ry="3.48" fill="none" stroke="#222" stroke-width="0.45" opacity="1.00"/>
<ellipse cx="0" cy="0" rx="0.79" ry="1.97" fill="none" stroke="#222" stroke-width="0.45" opacity="1.00"/>
</g>
</g>
<line x1="191.60" y1="298.00" x2="191.60" y2="342.20" stroke="#555" stroke-width="0.5" />
<line x1="167.60" y1="328.80" x2="211.90" y2="328.80" stroke="#555" stroke-width="0.5" />
<text x="168.90" y="303.00" font-size="4.4" text-anchor="start" font-weight="normal" font-style="normal" fill="#222" >0.38</text>
<text x="210.60" y="303.00" font-size="4.4" text-anchor="end" font-weight="normal" font-style="normal" fill="#222" >0.23</text>
<text x="210.30" y="340.40" font-size="4.4" text-anchor="end" font-weight="normal" font-style="normal" fill="#222" >2.3</text>
<text x="165.80" y="303.80" font-size="4.8" text-anchor="end" font-weight="normal" font-style="normal" fill="#444" >10<tspan dy="-1.6" font-size="3.6">5</tspan></text>
<text x="165.80" y="313.00" font-size="4.8" text-anchor="end" font-weight="normal" font-style="normal" fill="#444" >10<tspan dy="-1.6" font-size="3.6">4</tspan></text>
<text x="165.80" y="323.30" font-size="4.8" text-anchor="end" font-weight="normal" font-style="normal" fill="#444" >10<tspan dy="-1.6" font-size="3.6">3</tspan></text>
<text x="165.80" y="333.70" font-size="4.8" text-anchor="end" font-weight="normal" font-style="normal" fill="#444" >10<tspan dy="-1.6" font-size="3.6">2</tspan></text>
<text x="165.80" y="339.00" font-size="4.8" text-anchor="end" font-weight="normal" font-style="normal" fill="#444" >0</text>
<line x1="166.40" y1="302.40" x2="167.60" y2="302.40" stroke="#444" stroke-width="0.4" />
<line x1="166.40" y1="311.60" x2="167.60" y2="311.60" stroke="#444" stroke-width="0.4" />
<line x1="166.40" y1="320.80" x2="167.60" y2="320.80" stroke="#444" stroke-width="0.4" />
<line x1="166.40" y1="332.20" x2="167.60" y2="332.20" stroke="#444" stroke-width="0.4" />
<line x1="166.40" y1="337.30" x2="167.60" y2="337.30" stroke="#444" stroke-width="0.4" />
<text x="175.20" y="350.60" font-size="4.8" text-anchor="middle" font-weight="normal" font-style="normal" fill="#444" >0<tspan>10</tspan><tspan dy="-1.6" font-size="3.6">2</tspan></text>
<text x="188.40" y="350.60" font-size="4.8" text-anchor="middle" font-weight="normal" font-style="normal" fill="#444" >10<tspan dy="-1.6" font-size="3.6">3</tspan></text>
<text x="198.40" y="350.60" font-size="4.8" text-anchor="middle" font-weight="normal" font-style="normal" fill="#444" >10<tspan dy="-1.6" font-size="3.6">4</tspan></text>
<text x="207.60" y="350.60" font-size="4.8" text-anchor="middle" font-weight="normal" font-style="normal" fill="#444" >10<tspan dy="-1.6" font-size="3.6">5</tspan></text>
<line x1="169.60" y1="342.20" x2="169.60" y2="343.40" stroke="#444" stroke-width="0.4" />
<line x1="175.20" y1="342.20" x2="175.20" y2="343.40" stroke="#444" stroke-width="0.4" />
<line x1="188.40" y1="342.20" x2="188.40" y2="343.40" stroke="#444" stroke-width="0.4" />
<line x1="198.40" y1="342.20" x2="198.40" y2="343.40" stroke="#444" stroke-width="0.4" />
<line x1="207.60" y1="342.20" x2="207.60" y2="343.40" stroke="#444" stroke-width="0.4" />
<line x1="168.40" y1="341.00" x2="168.40" y2="342.20" stroke="#333" stroke-width="0.3" />
<line x1="167.60" y1="341.20" x2="168.80" y2="341.20" stroke="#333" stroke-width="0.3" />
<line x1="169.30" y1="341.00" x2="169.30" y2="342.20" stroke="#333" stroke-width="0.3" />
<line x1="167.60" y1="340.30" x2="168.80" y2="340.30" stroke="#333" stroke-width="0.3" />
<line x1="170.20" y1="341.00" x2="170.20" y2="342.20" stroke="#333" stroke-width="0.3" />
<line x1="167.60" y1="339.40" x2="168.80" y2="339.40" stroke="#333" stroke-width="0.3" />
<line x1="171.10" y1="341.00" x2="171.10" y2="342.20" stroke="#333" stroke-width="0.3" />
<line x1="167.60" y1="338.50" x2="168.80" y2="338.50" stroke="#333" stroke-width="0.3" />
<line x1="172.00" y1="341.00" x2="172.00" y2="342.20" stroke="#333" stroke-width="0.3" />
<line x1="167.60" y1="337.60" x2="168.80" y2="337.60" stroke="#333" stroke-width="0.3" />
<line x1="172.90" y1="341.00" x2="172.90" y2="342.20" stroke="#333" stroke-width="0.3" />
<line x1="167.60" y1="336.70" x2="168.80" y2="336.70" stroke="#333" stroke-width="0.3" />
<line x1="173.80" y1="341.00" x2="173.80" y2="342.20" stroke="#333" stroke-width="0.3" />
<line x1="167.60" y1="335.80" x2="168.80" y2="335.80" stroke="#333" stroke-width="0.3" />
<line x1="174.70" y1="341.00" x2="174.70" y2="342.20" stroke="#333" stroke-width="0.3" />
<line x1="167.60" y1="334.90" x2="168.80" y2="334.90" stroke="#333" stroke-width="0.3" />
<rect x="227.80" y="298.00" width="44.30" height="44.20" fill="#fff" stroke="#777" stroke-width="0.6"/>
<clipPath id="cp227298"><rect x="227.80" y="298.00" width="44.30" height="44.20"/></clipPath>
<g clip-path="url(#cp227298)">
<path d="M248.9 334.7h0.5M235.1 326.1h0.5M228.5 339.5h0.5M232.2 341.4h0.5M239.6 337.3h0.5M232.4 338.4h0.5M236.1 331.2h0.5M244.7 326.9h0.5M235.9 338.5h0.5M237.1 331.5h0.5M252.5 328.8h0.5M234.2 328.7h0.5M240.3 331.2h0.5M248.5 333.0h0.5M255.8 325.9h0.5M249.2 339.2h0.5M235.5 325.5h0.5M242.0 327.0h0.5M242.7 337.1h0.5M231.0 327.0h0.5M243.3 328.0h0.5M235.4 332.5h0.5M231.8 326.2h0.5M239.6 333.0h0.5M258.0 334.4h0.5M230.3 328.8h0.5M251.8 334.6h0.5M255.8 341.4h0.5M255.5 326.9h0.5M258.2 333.9h0.5M235.7 327.9h0.5M255.7 328.6h0.5M230.7 329.5h0.5M257.6 332.8h0.5M251.4 326.3h0.5M242.5 330.4h0.5M234.6 336.3h0.5M239.6 327.0h0.5M259.5 333.2h0.5M233.8 325.2h0.5" stroke="#555" stroke-width="0.5" opacity="0.35"/>
<path d="M232.6 328.1h0.5M241.6 333.9h0.5M235.6 326.8h0.5M236.6 338.8h0.5M230.3 328.6h0.5M241.5 340.1h0.5M243.7 330.2h0.5M239.0 329.3h0.5M238.6 331.2h0.5M237.0 339.7h0.5M237.7 331.8h0.5M236.3 334.3h0.5M233.4 334.0h0.5M239.0 340.8h0.5M225.7 327.1h0.5M229.8 337.4h0.5M248.1 334.0h0.5M236.6 338.7h0.5M223.9 332.1h0.5M220.5 333.8h0.5M233.5 330.6h0.5M237.7 330.1h0.5M241.5 333.0h0.5M237.9 345.6h0.5M233.8 337.6h0.5M231.9 339.2h0.5M240.8 333.7h0.5M240.9 341.0h0.5M242.8 333.0h0.5M235.7 338.5h0.5M228.7 330.0h0.5M238.4 335.8h0.5M245.2 341.7h0.5M237.6 335.2h0.5M229.5 332.1h0.5M237.3 331.9h0.5M236.3 336.0h0.5M231.3 330.2h0.5M227.2 338.7h0.5M230.8 324.6h0.5M239.8 331.9h0.5M240.8 331.2h0.5M246.5 336.5h0.5M236.7 333.6h0.5M235.0 337.0h0.5M245.9 330.9h0.5M230.6 336.0h0.5M241.3 325.6h0.5M232.6 328.1h0.5M238.8 335.5h0.5M232.4 327.4h0.5M239.4 322.8h0.5M239.2 332.2h0.5M245.5 337.9h0.5M233.1 331.6h0.5M234.6 329.4h0.5M236.4 337.8h0.5M228.6 331.9h0.5M243.4 336.7h0.5M232.0 329.0h0.5M231.8 325.1h0.5M241.7 333.3h0.5M232.6 325.9h0.5M234.1 330.5h0.5M244.5 330.7h0.5M236.6 338.3h0.5M239.3 332.1h0.5M225.3 339.9h0.5M238.9 330.9h0.5M235.6 328.3h0.5M231.6 325.7h0.5M238.5 335.5h0.5M236.9 336.8h0.5M238.6 333.6h0.5M231.7 335.9h0.5M241.8 336.1h0.5M242.1 330.7h0.5M231.2 339.1h0.5M233.1 334.2h0.5M235.1 333.1h0.5M234.7 330.4h0.5M227.2 342.4h0.5M237.0 323.6h0.5M231.5 327.5h0.5M232.4 320.5h0.5M238.8 341.0h0.5M234.8 336.6h0.5M238.9 326.9h0.5M242.0 324.7h0.5M233.2 331.2h0.5" stroke="#444" stroke-width="0.55" opacity="0.55"/>
<g transform="translate(234.00,333.00) rotate(0)">
<ellipse cx="0" cy="0" rx="5.00" ry="6.00" fill="#000" opacity="0.20"/>
<ellipse cx="0" cy="0" rx="3.00" ry="3.60" fill="#000" opacity="0.41" filter="url(#b05)"/>
<ellipse cx="0" cy="0" rx="1.75" ry="2.10" fill="#111" opacity="0.72"/>
<ellipse cx="0" cy="0" rx="5.00" ry="6.00" fill="none" stroke="#222" stroke-width="0.45" opacity="0.96"/>
<ellipse cx="0" cy="0" rx="4.21" ry="5.05" fill="none" stroke="#222" stroke-width="0.45" opacity="0.96"/>
<ellipse cx="0" cy="0" rx="3.41" ry="4.10" fill="none" stroke="#222" stroke-width="0.45" opacity="0.96"/>
<ellipse cx="0" cy="0" rx="2.62" ry="3.14" fill="none" stroke="#222" stroke-width="0.45" opacity="0.96"/>
<ellipse cx="0" cy="0" rx="1.83" ry="2.19" fill="none" stroke="#222" stroke-width="0.45" opacity="0.96"/>
<ellipse cx="0" cy="0" rx="1.03" ry="1.24" fill="none" stroke="#222" stroke-width="0.45" opacity="0.96"/>
</g>
</g>
<line x1="245.80" y1="298.00" x2="245.80" y2="342.20" stroke="#555" stroke-width="0.5" />
<line x1="227.80" y1="323.00" x2="272.10" y2="323.00" stroke="#555" stroke-width="0.5" />
<text x="229.10" y="303.00" font-size="4.4" text-anchor="start" font-weight="normal" font-style="normal" fill="#222" >0.11</text>
<text x="270.80" y="303.00" font-size="4.4" text-anchor="end" font-weight="normal" font-style="normal" fill="#222" >0.23</text>
<text x="270.50" y="340.40" font-size="4.4" text-anchor="end" font-weight="normal" font-style="normal" fill="#222" >2.4</text>
<text x="226.00" y="303.80" font-size="4.8" text-anchor="end" font-weight="normal" font-style="normal" fill="#444" >10<tspan dy="-1.6" font-size="3.6">5</tspan></text>
<text x="226.00" y="313.00" font-size="4.8" text-anchor="end" font-weight="normal" font-style="normal" fill="#444" >10<tspan dy="-1.6" font-size="3.6">4</tspan></text>
<text x="226.00" y="323.30" font-size="4.8" text-anchor="end" font-weight="normal" font-style="normal" fill="#444" >10<tspan dy="-1.6" font-size="3.6">3</tspan></text>
<text x="226.00" y="333.70" font-size="4.8" text-anchor="end" font-weight="normal" font-style="normal" fill="#444" >10<tspan dy="-1.6" font-size="3.6">2</tspan></text>
<text x="226.00" y="339.00" font-size="4.8" text-anchor="end" font-weight="normal" font-style="normal" fill="#444" >0</text>
<line x1="226.60" y1="302.40" x2="227.80" y2="302.40" stroke="#444" stroke-width="0.4" />
<line x1="226.60" y1="311.60" x2="227.80" y2="311.60" stroke="#444" stroke-width="0.4" />
<line x1="226.60" y1="320.80" x2="227.80" y2="320.80" stroke="#444" stroke-width="0.4" />
<line x1="226.60" y1="332.20" x2="227.80" y2="332.20" stroke="#444" stroke-width="0.4" />
<line x1="226.60" y1="337.30" x2="227.80" y2="337.30" stroke="#444" stroke-width="0.4" />
<text x="235.40" y="350.60" font-size="4.8" text-anchor="middle" font-weight="normal" font-style="normal" fill="#444" >0<tspan>10</tspan><tspan dy="-1.6" font-size="3.6">2</tspan></text>
<text x="248.60" y="350.60" font-size="4.8" text-anchor="middle" font-weight="normal" font-style="normal" fill="#444" >10<tspan dy="-1.6" font-size="3.6">3</tspan></text>
<text x="258.60" y="350.60" font-size="4.8" text-anchor="middle" font-weight="normal" font-style="normal" fill="#444" >10<tspan dy="-1.6" font-size="3.6">4</tspan></text>
<text x="267.80" y="350.60" font-size="4.8" text-anchor="middle" font-weight="normal" font-style="normal" fill="#444" >10<tspan dy="-1.6" font-size="3.6">5</tspan></text>
<line x1="229.80" y1="342.20" x2="229.80" y2="343.40" stroke="#444" stroke-width="0.4" />
<line x1="235.40" y1="342.20" x2="235.40" y2="343.40" stroke="#444" stroke-width="0.4" />
<line x1="248.60" y1="342.20" x2="248.60" y2="343.40" stroke="#444" stroke-width="0.4" />
<line x1="258.60" y1="342.20" x2="258.60" y2="343.40" stroke="#444" stroke-width="0.4" />
<line x1="267.80" y1="342.20" x2="267.80" y2="343.40" stroke="#444" stroke-width="0.4" />
<line x1="228.60" y1="341.00" x2="228.60" y2="342.20" stroke="#333" stroke-width="0.3" />
<line x1="227.80" y1="341.20" x2="229.00" y2="341.20" stroke="#333" stroke-width="0.3" />
<line x1="229.50" y1="341.00" x2="229.50" y2="342.20" stroke="#333" stroke-width="0.3" />
<line x1="227.80" y1="340.30" x2="229.00" y2="340.30" stroke="#333" stroke-width="0.3" />
<line x1="230.40" y1="341.00" x2="230.40" y2="342.20" stroke="#333" stroke-width="0.3" />
<line x1="227.80" y1="339.40" x2="229.00" y2="339.40" stroke="#333" stroke-width="0.3" />
<line x1="231.30" y1="341.00" x2="231.30" y2="342.20" stroke="#333" stroke-width="0.3" />
<line x1="227.80" y1="338.50" x2="229.00" y2="338.50" stroke="#333" stroke-width="0.3" />
<line x1="232.20" y1="341.00" x2="232.20" y2="342.20" stroke="#333" stroke-width="0.3" />
<line x1="227.80" y1="337.60" x2="229.00" y2="337.60" stroke="#333" stroke-width="0.3" />
<line x1="233.10" y1="341.00" x2="233.10" y2="342.20" stroke="#333" stroke-width="0.3" />
<line x1="227.80" y1="336.70" x2="229.00" y2="336.70" stroke="#333" stroke-width="0.3" />
<line x1="234.00" y1="341.00" x2="234.00" y2="342.20" stroke="#333" stroke-width="0.3" />
<line x1="227.80" y1="335.80" x2="229.00" y2="335.80" stroke="#333" stroke-width="0.3" />
<line x1="234.90" y1="341.00" x2="234.90" y2="342.20" stroke="#333" stroke-width="0.3" />
<line x1="227.80" y1="334.90" x2="229.00" y2="334.90" stroke="#333" stroke-width="0.3" />
<rect x="45.50" y="358.00" width="44.30" height="44.20" fill="#fff" stroke="#777" stroke-width="0.6"/>
<clipPath id="cp45358"><rect x="45.50" y="358.00" width="44.30" height="44.20"/></clipPath>
<g clip-path="url(#cp45358)">
<path d="M46.7 389.4h0.5M77.9 382.4h0.5M49.1 375.1h0.5M53.6 393.8h0.5M46.2 381.2h0.5M57.7 394.2h0.5M89.4 375.5h0.5M51.0 400.2h0.5M88.7 379.0h0.5M60.8 389.1h0.5M60.1 386.3h0.5M67.1 382.0h0.5M48.4 377.3h0.5M53.1 377.5h0.5M73.5 393.8h0.5M57.6 396.4h0.5M78.1 384.2h0.5M67.6 380.1h0.5M86.9 390.1h0.5M48.3 379.2h0.5M76.5 385.4h0.5M77.5 381.2h0.5M81.1 396.7h0.5M50.1 390.8h0.5M54.4 394.1h0.5M81.4 396.4h0.5M56.2 377.5h0.5M75.2 390.3h0.5M52.1 380.2h0.5M71.6 377.9h0.5M73.9 381.5h0.5M57.4 386.4h0.5M69.5 394.6h0.5M47.4 394.6h0.5M55.7 382.9h0.5M74.2 393.7h0.5M73.0 399.3h0.5M55.0 383.4h0.5M75.2 382.0h0.5M52.9 381.1h0.5M79.9 397.3h0.5M77.5 400.9h0.5M81.0 383.4h0.5M59.9 394.5h0.5M48.4 391.4h0.5M49.9 376.3h0.5M68.6 379.1h0.5M87.0 398.7h0.5M66.3 380.3h0.5M51.3 388.7h0.5M68.9 384.8h0.5M77.5 389.3h0.5M80.1 377.9h0.5M49.1 385.4h0.5M67.3 381.8h0.5M75.4 381.0h0.5M60.0 387.9h0.5M77.3 395.8h0.5M62.4 387.1h0.5M86.8 400.2h0.5" stroke="#555" stroke-width="0.5" opacity="0.35"/>
<path d="M53.6 390.4h0.5M46.4 394.0h0.5M55.7 393.4h0.5M71.2 390.7h0.5M61.4 396.1h0.5M51.7 389.1h0.5M66.6 395.5h0.5M57.0 386.7h0.5M62.0 394.6h0.5M71.0 399.2h0.5M61.5 393.3h0.5M56.4 389.3h0.5M58.1 393.2h0.5M60.4 397.3h0.5M58.1 389.4h0.5M61.5 399.5h0.5M50.3 394.0h0.5M59.7 394.6h0.5M59.4 391.6h0.5M55.3 400.2h0.5M67.8 385.2h0.5M38.7 394.1h0.5M51.4 389.5h0.5M45.2 393.7h0.5M55.6 389.4h0.5M62.1 403.8h0.5M66.0 397.7h0.5M53.2 395.2h0.5M55.7 397.6h0.5M60.0 391.8h0.5M59.8 388.5h0.5M61.4 399.3h0.5M53.5 394.7h0.5M44.7 396.6h0.5M62.0 387.0h0.5M67.9 392.6h0.5M44.2 385.4h0.5M61.9 390.7h0.5M63.5 384.5h0.5M55.3 396.7h0.5M51.4 395.3h0.5M53.6 393.7h0.5M58.2 402.8h0.5M47.6 395.8h0.5M64.9 386.5h0.5M56.6 403.2h0.5M63.1 377.6h0.5M54.4 383.7h0.5M58.1 388.5h0.5M52.2 387.9h0.5M58.0 389.7h0.5M49.9 390.9h0.5M58.8 387.8h0.5M63.6 383.9h0.5M58.8 390.1h0.5M66.7 388.9h0.5M51.5 385.5h0.5M69.5 395.0h0.5M48.6 390.4h0.5M49.5 399.4h0.5M58.8 382.1h0.5M57.4 396.4h0.5M56.0 394.3h0.5M55.3 393.0h0.5M57.4 388.6h0.5M58.4 392.8h0.5M55.7 388.7h0.5M49.1 393.2h0.5M61.6 380.3h0.5M52.4 398.6h0.5M62.2 388.5h0.5M65.2 387.2h0.5M50.6 401.4h0.5M53.0 390.9h0.5M44.8 387.1h0.5M48.0 391.3h0.5M43.5 397.2h0.5M53.6 389.1h0.5M51.7 395.6h0.5M66.4 390.0h0.5M67.0 399.8h0.5M65.1 393.5h0.5M45.9 395.3h0.5M53.2 392.9h0.5M43.2 390.6h0.5M57.6 387.4h0.5M58.0 400.1h0.5M57.6 388.7h0.5M72.2 381.5h0.5M49.7 394.0h0.5M52.0 380.8h0.5M57.8 396.0h0.5M50.6 399.1h0.5M59.4 397.8h0.5M45.6 392.0h0.5M66.9 401.8h0.5M65.0 392.0h0.5M57.2 388.9h0.5M63.5 388.6h0.5M56.8 381.9h0.5M45.7 400.7h0.5M56.4 393.0h0.5M41.0 391.8h0.5M70.1 384.7h0.5M39.8 391.2h0.5M52.4 391.0h0.5M47.4 385.4h0.5M47.6 395.1h0.5M55.7 396.0h0.5M48.6 394.9h0.5M53.0 392.4h0.5M62.4 392.2h0.5M53.6 383.9h0.5M56.4 395.8h0.5M51.7 391.7h0.5M43.9 385.5h0.5M58.8 398.3h0.5M53.9 383.8h0.5M53.4 384.3h0.5M54.1 401.4h0.5" stroke="#444" stroke-width="0.55" opacity="0.55"/>
<g transform="translate(51.00,395.00) rotate(0)">
<ellipse cx="0" cy="0" rx="6.00" ry="5.00" fill="#000" opacity="0.22"/>
<ellipse cx="0" cy="0" rx="3.60" ry="3.00" fill="#000" opacity="0.45" filter="url(#b05)"/>
<ellipse cx="0" cy="0" rx="2.10" ry="1.75" fill="#111" opacity="0.80"/>
<ellipse cx="0" cy="0" rx="6.00" ry="5.00" fill="none" stroke="#222" stroke-width="0.45" opacity="1.00"/>
<ellipse cx="0" cy="0" rx="4.87" ry="4.06" fill="none" stroke="#222" stroke-width="0.45" opacity="1.00"/>
<ellipse cx="0" cy="0" rx="3.74" ry="3.11" fill="none" stroke="#222" stroke-width="0.45" opacity="1.00"/>
<ellipse cx="0" cy="0" rx="2.60" ry="2.17" fill="none" stroke="#222" stroke-width="0.45" opacity="1.00"/>
<ellipse cx="0" cy="0" rx="1.47" ry="1.23" fill="none" stroke="#222" stroke-width="0.45" opacity="1.00"/>
</g>
<g transform="translate(72.00,371.00) rotate(0)">
<ellipse cx="0" cy="0" rx="4.50" ry="6.00" fill="none" stroke="#222" stroke-width="0.45" opacity="0.74"/>
<ellipse cx="0" cy="0" rx="3.65" ry="4.87" fill="none" stroke="#222" stroke-width="0.45" opacity="0.74"/>
<ellipse cx="0" cy="0" rx="2.80" ry="3.74" fill="none" stroke="#222" stroke-width="0.45" opacity="0.74"/>
<ellipse cx="0" cy="0" rx="1.95" ry="2.60" fill="none" stroke="#222" stroke-width="0.45" opacity="0.74"/>
<ellipse cx="0" cy="0" rx="1.10" ry="1.47" fill="none" stroke="#222" stroke-width="0.45" opacity="0.74"/>
</g>
<g transform="translate(64.00,390.00) rotate(0)">
<ellipse cx="0" cy="0" rx="3.00" ry="3.00" fill="none" stroke="#222" stroke-width="0.45" opacity="0.64"/>
<ellipse cx="0" cy="0" rx="1.70" ry="1.70" fill="none" stroke="#222" stroke-width="0.45" opacity="0.64"/>
</g>
<g transform="translate(70.00,389.00) rotate(0)">
<ellipse cx="0" cy="0" rx="2.00" ry="3.00" fill="none" stroke="#222" stroke-width="0.45" opacity="0.64"/>
<ellipse cx="0" cy="0" rx="1.13" ry="1.70" fill="none" stroke="#222" stroke-width="0.45" opacity="0.64"/>
</g>
</g>
<line x1="66.70" y1="358.00" x2="66.70" y2="402.20" stroke="#555" stroke-width="0.5" />
<line x1="45.50" y1="381.10" x2="89.80" y2="381.10" stroke="#555" stroke-width="0.5" />
<text x="46.80" y="363.00" font-size="4.4" text-anchor="start" font-weight="normal" font-style="normal" fill="#222" >0.56</text>
<text x="88.50" y="363.00" font-size="4.4" text-anchor="end" font-weight="normal" font-style="normal" fill="#222" >17</text>
<text x="88.20" y="400.40" font-size="4.4" text-anchor="end" font-weight="normal" font-style="normal" fill="#222" >2.1</text>
<text x="43.70" y="363.80" font-size="4.8" text-anchor="end" font-weight="normal" font-style="normal" fill="#444" >10<tspan dy="-1.6" font-size="3.6">5</tspan></text>
<text x="43.70" y="373.00" font-size="4.8" text-anchor="end" font-weight="normal" font-style="normal" fill="#444" >10<tspan dy="-1.6" font-size="3.6">4</tspan></text>
<text x="43.70" y="383.30" font-size="4.8" text-anchor="end" font-weight="normal" font-style="normal" fill="#444" >10<tspan dy="-1.6" font-size="3.6">3</tspan></text>
<text x="43.70" y="393.70" font-size="4.8" text-anchor="end" font-weight="normal" font-style="normal" fill="#444" >10<tspan dy="-1.6" font-size="3.6">2</tspan></text>
<text x="43.70" y="399.00" font-size="4.8" text-anchor="end" font-weight="normal" font-style="normal" fill="#444" >0</text>
<line x1="44.30" y1="362.40" x2="45.50" y2="362.40" stroke="#444" stroke-width="0.4" />
<line x1="44.30" y1="371.60" x2="45.50" y2="371.60" stroke="#444" stroke-width="0.4" />
<line x1="44.30" y1="380.80" x2="45.50" y2="380.80" stroke="#444" stroke-width="0.4" />
<line x1="44.30" y1="392.20" x2="45.50" y2="392.20" stroke="#444" stroke-width="0.4" />
<line x1="44.30" y1="397.30" x2="45.50" y2="397.30" stroke="#444" stroke-width="0.4" />
<text x="53.10" y="410.60" font-size="4.8" text-anchor="middle" font-weight="normal" font-style="normal" fill="#444" >0<tspan>10</tspan><tspan dy="-1.6" font-size="3.6">2</tspan></text>
<text x="66.30" y="410.60" font-size="4.8" text-anchor="middle" font-weight="normal" font-style="normal" fill="#444" >10<tspan dy="-1.6" font-size="3.6">3</tspan></text>
<text x="76.30" y="410.60" font-size="4.8" text-anchor="middle" font-weight="normal" font-style="normal" fill="#444" >10<tspan dy="-1.6" font-size="3.6">4</tspan></text>
<text x="85.50" y="410.60" font-size="4.8" text-anchor="middle" font-weight="normal" font-style="normal" fill="#444" >10<tspan dy="-1.6" font-size="3.6">5</tspan></text>
<line x1="47.50" y1="402.20" x2="47.50" y2="403.40" stroke="#444" stroke-width="0.4" />
<line x1="53.10" y1="402.20" x2="53.10" y2="403.40" stroke="#444" stroke-width="0.4" />
<line x1="66.30" y1="402.20" x2="66.30" y2="403.40" stroke="#444" stroke-width="0.4" />
<line x1="76.30" y1="402.20" x2="76.30" y2="403.40" stroke="#444" stroke-width="0.4" />
<line x1="85.50" y1="402.20" x2="85.50" y2="403.40" stroke="#444" stroke-width="0.4" />
<line x1="46.30" y1="401.00" x2="46.30" y2="402.20" stroke="#333" stroke-width="0.3" />
<line x1="45.50" y1="401.20" x2="46.70" y2="401.20" stroke="#333" stroke-width="0.3" />
<line x1="47.20" y1="401.00" x2="47.20" y2="402.20" stroke="#333" stroke-width="0.3" />
<line x1="45.50" y1="400.30" x2="46.70" y2="400.30" stroke="#333" stroke-width="0.3" />
<line x1="48.10" y1="401.00" x2="48.10" y2="402.20" stroke="#333" stroke-width="0.3" />
<line x1="45.50" y1="399.40" x2="46.70" y2="399.40" stroke="#333" stroke-width="0.3" />
<line x1="49.00" y1="401.00" x2="49.00" y2="402.20" stroke="#333" stroke-width="0.3" />
<line x1="45.50" y1="398.50" x2="46.70" y2="398.50" stroke="#333" stroke-width="0.3" />
<line x1="49.90" y1="401.00" x2="49.90" y2="402.20" stroke="#333" stroke-width="0.3" />
<line x1="45.50" y1="397.60" x2="46.70" y2="397.60" stroke="#333" stroke-width="0.3" />
<line x1="50.80" y1="401.00" x2="50.80" y2="402.20" stroke="#333" stroke-width="0.3" />
<line x1="45.50" y1="396.70" x2="46.70" y2="396.70" stroke="#333" stroke-width="0.3" />
<line x1="51.70" y1="401.00" x2="51.70" y2="402.20" stroke="#333" stroke-width="0.3" />
<line x1="45.50" y1="395.80" x2="46.70" y2="395.80" stroke="#333" stroke-width="0.3" />
<line x1="52.60" y1="401.00" x2="52.60" y2="402.20" stroke="#333" stroke-width="0.3" />
<line x1="45.50" y1="394.90" x2="46.70" y2="394.90" stroke="#333" stroke-width="0.3" />
<rect x="106.20" y="358.00" width="44.30" height="44.20" fill="#fff" stroke="#777" stroke-width="0.6"/>
<clipPath id="cp106358"><rect x="106.20" y="358.00" width="44.30" height="44.20"/></clipPath>
<g clip-path="url(#cp106358)">
<path d="M146.7 371.7h0.5M147.5 384.2h0.5M109.8 372.2h0.5M141.1 391.7h0.5M112.3 384.7h0.5M134.1 401.9h0.5M120.8 394.5h0.5M116.8 376.4h0.5M113.1 383.1h0.5M133.2 379.7h0.5M113.1 377.0h0.5M109.7 376.2h0.5M119.9 386.1h0.5M114.1 385.4h0.5M125.4 401.1h0.5M127.4 400.2h0.5M126.7 376.3h0.5M132.0 374.6h0.5M113.4 372.3h0.5M136.9 400.9h0.5M123.7 381.3h0.5M124.7 381.3h0.5M136.4 382.5h0.5M112.7 397.7h0.5M131.2 370.2h0.5M143.4 393.3h0.5M121.6 390.2h0.5M146.5 382.9h0.5M125.0 379.5h0.5M130.4 391.2h0.5M138.3 400.4h0.5M112.4 381.7h0.5M143.5 395.3h0.5M132.0 391.7h0.5M121.0 400.2h0.5M130.2 382.9h0.5M114.0 373.7h0.5M145.5 395.6h0.5M107.2 380.3h0.5M127.1 385.9h0.5M122.0 398.6h0.5M121.4 387.0h0.5M146.9 390.5h0.5M127.0 380.6h0.5M123.0 389.5h0.5M140.6 378.3h0.5M122.3 382.4h0.5M122.0 399.2h0.5M129.7 378.8h0.5M120.6 396.3h0.5M113.0 392.1h0.5M107.0 376.2h0.5M108.6 395.8h0.5M112.5 377.3h0.5M108.5 378.4h0.5M138.3 393.0h0.5M146.1 400.3h0.5M130.2 399.5h0.5M109.9 399.6h0.5M125.1 376.2h0.5M138.9 397.5h0.5M123.0 373.0h0.5M144.4 394.1h0.5M132.3 401.3h0.5M107.7 371.8h0.5M111.5 370.7h0.5M137.2 390.2h0.5M110.9 375.2h0.5M114.0 389.5h0.5M135.6 401.0h0.5M121.9 401.3h0.5M125.1 382.5h0.5M117.1 377.4h0.5M148.9 401.8h0.5M137.1 375.6h0.5M113.9 374.9h0.5M121.4 393.6h0.5M108.6 387.0h0.5M136.0 371.1h0.5M125.3 395.3h0.5" stroke="#555" stroke-width="0.5" opacity="0.35"/>
<path d="M112.3 392.0h0.5M132.0 390.3h0.5M116.8 397.4h0.5M140.6 391.2h0.5M133.0 391.4h0.5M125.9 395.9h0.5M110.6 398.1h0.5M140.0 394.2h0.5M124.7 389.3h0.5M139.9 394.3h0.5M109.2 397.1h0.5M107.4 391.3h0.5M100.7 399.5h0.5M144.1 391.5h0.5M115.5 391.7h0.5M116.3 396.2h0.5M136.6 390.0h0.5M126.4 386.8h0.5M137.2 393.6h0.5M115.0 400.1h0.5M120.9 399.5h0.5M132.7 400.6h0.5M114.0 394.2h0.5M125.7 393.2h0.5M137.2 391.1h0.5M132.0 399.5h0.5M102.5 390.1h0.5M113.0 391.8h0.5M125.9 393.3h0.5M122.8 392.2h0.5M121.2 395.9h0.5M129.5 390.9h0.5M120.9 391.0h0.5M120.2 388.3h0.5M131.5 396.7h0.5M120.8 391.3h0.5M117.4 391.3h0.5M106.6 400.5h0.5M154.9 389.1h0.5M110.3 396.3h0.5M128.1 387.7h0.5M102.8 396.2h0.5M102.1 399.7h0.5M117.0 394.3h0.5M122.0 391.8h0.5M120.6 392.8h0.5M134.4 393.6h0.5M121.7 391.9h0.5M115.7 391.1h0.5M122.1 401.3h0.5M133.2 394.9h0.5M138.7 398.1h0.5M124.1 393.3h0.5M111.0 395.0h0.5M118.8 387.7h0.5M109.2 401.7h0.5M124.1 396.0h0.5M124.0 392.1h0.5M126.6 398.3h0.5M118.9 396.0h0.5M132.3 392.1h0.5M123.7 391.0h0.5M128.0 392.5h0.5M133.5 390.9h0.5M138.9 392.8h0.5M113.6 390.4h0.5M128.6 390.6h0.5M140.0 399.1h0.5M127.2 388.3h0.5M121.8 391.1h0.5M103.9 395.7h0.5M144.0 391.9h0.5M130.1 399.1h0.5M112.4 392.6h0.5M124.7 395.9h0.5M110.5 394.9h0.5M120.9 397.8h0.5M106.0 391.7h0.5M117.0 392.7h0.5M129.2 391.5h0.5M149.4 391.2h0.5M130.4 398.1h0.5M131.6 393.2h0.5M113.7 393.0h0.5M128.7 394.5h0.5M127.8 396.3h0.5M113.2 390.3h0.5M136.4 392.1h0.5M106.2 401.4h0.5M113.7 390.3h0.5M131.7 389.5h0.5M113.3 398.2h0.5M113.8 404.0h0.5M123.0 404.7h0.5M123.3 394.2h0.5M115.6 393.1h0.5M117.0 393.9h0.5M129.7 388.9h0.5M112.8 385.6h0.5M137.0 393.7h0.5M121.9 393.8h0.5M132.0 395.3h0.5M130.5 393.3h0.5M120.8 393.8h0.5M103.4 398.4h0.5M106.2 390.0h0.5M128.7 394.2h0.5M130.1 400.8h0.5M140.6 399.5h0.5M119.7 402.2h0.5M113.2 393.7h0.5M132.0 393.1h0.5M120.8 392.6h0.5M135.6 384.1h0.5M134.7 398.2h0.5M121.3 396.2h0.5M112.3 398.4h0.5M152.6 390.3h0.5M136.0 393.8h0.5M118.6 392.1h0.5M120.1 389.0h0.5M108.4 400.6h0.5M121.8 396.2h0.5M125.1 395.9h0.5M106.7 390.2h0.5M128.3 398.0h0.5M110.6 391.7h0.5M111.3 396.6h0.5M125.4 394.1h0.5M115.5 395.4h0.5M122.3 391.0h0.5M125.3 391.3h0.5M131.5 396.5h0.5M115.1 396.3h0.5M122.7 391.2h0.5M112.9 387.3h0.5M110.7 395.4h0.5M134.1 391.5h0.5M123.6 395.4h0.5M129.8 395.8h0.5" stroke="#444" stroke-width="0.55" opacity="0.55"/>
<g transform="translate(118.00,396.00) rotate(0)">
<ellipse cx="0" cy="0" rx="11.00" ry="4.00" fill="#000" opacity="0.20"/>
<ellipse cx="0" cy="0" rx="6.60" ry="2.40" fill="#000" opacity="0.41" filter="url(#b05)"/>
<ellipse cx="0" cy="0" rx="3.85" ry="1.40" fill="#111" opacity="0.72"/>
<ellipse cx="0" cy="0" rx="11.00" ry="4.00" fill="none" stroke="#222" stroke-width="0.45" opacity="0.96"/>
<ellipse cx="0" cy="0" rx="8.92" ry="3.25" fill="none" stroke="#222" stroke-width="0.45" opacity="0.96"/>
<ellipse cx="0" cy="0" rx="6.85" ry="2.49" fill="none" stroke="#222" stroke-width="0.45" opacity="0.96"/>
<ellipse cx="0" cy="0" rx="4.77" ry="1.74" fill="none" stroke="#222" stroke-width="0.45" opacity="0.96"/>
<ellipse cx="0" cy="0" rx="2.70" ry="0.98" fill="none" stroke="#222" stroke-width="0.45" opacity="0.96"/>
</g>
<g transform="translate(124.00,379.00) rotate(0)">
<ellipse cx="0" cy="0" rx="12.00" ry="2.80" fill="#000" opacity="0.10"/>
<ellipse cx="0" cy="0" rx="7.20" ry="1.68" fill="#000" opacity="0.20" filter="url(#b05)"/>
<ellipse cx="0" cy="0" rx="12.00" ry="2.80" fill="none" stroke="#222" stroke-width="0.45" opacity="0.78"/>
<ellipse cx="0" cy="0" rx="9.21" ry="2.15" fill="none" stroke="#222" stroke-width="0.45" opacity="0.78"/>
<ellipse cx="0" cy="0" rx="6.42" ry="1.50" fill="none" stroke="#222" stroke-width="0.45" opacity="0.78"/>
<ellipse cx="0" cy="0" rx="3.63" ry="0.85" fill="none" stroke="#222" stroke-width="0.45" opacity="0.78"/>
</g>
<g transform="translate(138.00,379.00) rotate(0)">
<ellipse cx="0" cy="0" rx="3.00" ry="3.50" fill="#000" opacity="0.22"/>
<ellipse cx="0" cy="0" rx="1.80" ry="2.10" fill="#000" opacity="0.45" filter="url(#b05)"/>
<ellipse cx="0" cy="0" rx="1.05" ry="1.22" fill="#111" opacity="0.80"/>
<ellipse cx="0" cy="0" rx="3.00" ry="3.50" fill="none" stroke="#222" stroke-width="0.45" opacity="1.00"/>
<ellipse cx="0" cy="0" rx="2.30" ry="2.69" fill="none" stroke="#222" stroke-width="0.45" opacity="1.00"/>
<ellipse cx="0" cy="0" rx="1.60" ry="1.87" fill="none" stroke="#222" stroke-width="0.45" opacity="1.00"/>
<ellipse cx="0" cy="0" rx="0.91" ry="1.06" fill="none" stroke="#222" stroke-width="0.45" opacity="1.00"/>
</g>
</g>
<line x1="129.40" y1="358.00" x2="129.40" y2="402.20" stroke="#555" stroke-width="0.5" />
<line x1="106.20" y1="387.70" x2="150.50" y2="387.70" stroke="#555" stroke-width="0.5" />
<text x="107.50" y="363.00" font-size="4.4" text-anchor="start" font-weight="normal" font-style="normal" fill="#222" >8.2</text>
<text x="149.20" y="363.00" font-size="4.4" text-anchor="end" font-weight="normal" font-style="normal" fill="#222" >33</text>
<text x="148.90" y="400.40" font-size="4.4" text-anchor="end" font-weight="normal" font-style="normal" fill="#222" >6.7</text>
<text x="104.40" y="363.80" font-size="4.8" text-anchor="end" font-weight="normal" font-style="normal" fill="#444" >10<tspan dy="-1.6" font-size="3.6">5</tspan></text>
<text x="104.40" y="373.00" font-size="4.8" text-anchor="end" font-weight="normal" font-style="normal" fill="#444" >10<tspan dy="-1.6" font-size="3.6">4</tspan></text>
<text x="104.40" y="383.30" font-size="4.8" text-anchor="end" font-weight="normal" font-style="normal" fill="#444" >10<tspan dy="-1.6" font-size="3.6">3</tspan></text>
<text x="104.40" y="393.70" font-size="4.8" text-anchor="end" font-weight="normal" font-style="normal" fill="#444" >10<tspan dy="-1.6" font-size="3.6">2</tspan></text>
<text x="104.40" y="399.00" font-size="4.8" text-anchor="end" font-weight="normal" font-style="normal" fill="#444" >0</text>
<line x1="105.00" y1="362.40" x2="106.20" y2="362.40" stroke="#444" stroke-width="0.4" />
<line x1="105.00" y1="371.60" x2="106.20" y2="371.60" stroke="#444" stroke-width="0.4" />
<line x1="105.00" y1="380.80" x2="106.20" y2="380.80" stroke="#444" stroke-width="0.4" />
<line x1="105.00" y1="392.20" x2="106.20" y2="392.20" stroke="#444" stroke-width="0.4" />
<line x1="105.00" y1="397.30" x2="106.20" y2="397.30" stroke="#444" stroke-width="0.4" />
<text x="113.80" y="410.60" font-size="4.8" text-anchor="middle" font-weight="normal" font-style="normal" fill="#444" >0<tspan>10</tspan><tspan dy="-1.6" font-size="3.6">2</tspan></text>
<text x="127.00" y="410.60" font-size="4.8" text-anchor="middle" font-weight="normal" font-style="normal" fill="#444" >10<tspan dy="-1.6" font-size="3.6">3</tspan></text>
<text x="137.00" y="410.60" font-size="4.8" text-anchor="middle" font-weight="normal" font-style="normal" fill="#444" >10<tspan dy="-1.6" font-size="3.6">4</tspan></text>
<text x="146.20" y="410.60" font-size="4.8" text-anchor="middle" font-weight="normal" font-style="normal" fill="#444" >10<tspan dy="-1.6" font-size="3.6">5</tspan></text>
<line x1="108.20" y1="402.20" x2="108.20" y2="403.40" stroke="#444" stroke-width="0.4" />
<line x1="113.80" y1="402.20" x2="113.80" y2="403.40" stroke="#444" stroke-width="0.4" />
<line x1="127.00" y1="402.20" x2="127.00" y2="403.40" stroke="#444" stroke-width="0.4" />
<line x1="137.00" y1="402.20" x2="137.00" y2="403.40" stroke="#444" stroke-width="0.4" />
<line x1="146.20" y1="402.20" x2="146.20" y2="403.40" stroke="#444" stroke-width="0.4" />
<line x1="107.00" y1="401.00" x2="107.00" y2="402.20" stroke="#333" stroke-width="0.3" />
<line x1="106.20" y1="401.20" x2="107.40" y2="401.20" stroke="#333" stroke-width="0.3" />
<line x1="107.90" y1="401.00" x2="107.90" y2="402.20" stroke="#333" stroke-width="0.3" />
<line x1="106.20" y1="400.30" x2="107.40" y2="400.30" stroke="#333" stroke-width="0.3" />
<line x1="108.80" y1="401.00" x2="108.80" y2="402.20" stroke="#333" stroke-width="0.3" />
<line x1="106.20" y1="399.40" x2="107.40" y2="399.40" stroke="#333" stroke-width="0.3" />
<line x1="109.70" y1="401.00" x2="109.70" y2="402.20" stroke="#333" stroke-width="0.3" />
<line x1="106.20" y1="398.50" x2="107.40" y2="398.50" stroke="#333" stroke-width="0.3" />
<line x1="110.60" y1="401.00" x2="110.60" y2="402.20" stroke="#333" stroke-width="0.3" />
<line x1="106.20" y1="397.60" x2="107.40" y2="397.60" stroke="#333" stroke-width="0.3" />
<line x1="111.50" y1="401.00" x2="111.50" y2="402.20" stroke="#333" stroke-width="0.3" />
<line x1="106.20" y1="396.70" x2="107.40" y2="396.70" stroke="#333" stroke-width="0.3" />
<line x1="112.40" y1="401.00" x2="112.40" y2="402.20" stroke="#333" stroke-width="0.3" />
<line x1="106.20" y1="395.80" x2="107.40" y2="395.80" stroke="#333" stroke-width="0.3" />
<line x1="113.30" y1="401.00" x2="113.30" y2="402.20" stroke="#333" stroke-width="0.3" />
<line x1="106.20" y1="394.90" x2="107.40" y2="394.90" stroke="#333" stroke-width="0.3" />
<rect x="167.60" y="358.00" width="44.30" height="44.20" fill="#fff" stroke="#777" stroke-width="0.6"/>
<clipPath id="cp167358"><rect x="167.60" y="358.00" width="44.30" height="44.20"/></clipPath>
<g clip-path="url(#cp167358)">
<path d="M171.8 394.3h0.5M186.2 386.8h0.5M190.0 400.6h0.5M178.5 383.4h0.5M181.1 387.1h0.5M207.1 395.5h0.5M186.4 383.7h0.5M170.0 382.7h0.5M204.4 394.3h0.5M174.7 393.8h0.5M170.5 391.2h0.5M182.4 382.3h0.5M199.9 395.8h0.5M190.0 383.7h0.5M196.8 389.5h0.5M196.4 382.0h0.5M206.8 380.1h0.5M177.6 388.8h0.5M176.5 381.9h0.5M197.6 401.9h0.5M182.4 385.9h0.5M196.8 384.9h0.5M185.2 395.1h0.5M186.5 383.4h0.5M171.0 391.9h0.5M210.6 400.2h0.5M172.3 391.1h0.5M189.0 384.3h0.5M196.8 390.9h0.5M202.8 386.4h0.5M208.2 397.9h0.5M188.4 383.1h0.5M188.8 382.8h0.5M197.5 395.3h0.5M192.9 401.5h0.5M169.9 395.7h0.5M202.4 382.5h0.5M181.8 381.2h0.5M193.1 395.9h0.5M183.0 395.3h0.5M183.8 395.7h0.5M179.9 401.5h0.5M186.8 380.1h0.5M171.9 396.0h0.5M205.2 394.0h0.5M174.7 399.2h0.5M198.8 382.5h0.5M184.4 394.8h0.5M168.2 380.9h0.5M183.2 399.2h0.5M210.8 387.0h0.5M207.1 397.3h0.5M205.2 392.9h0.5M209.7 394.2h0.5M208.8 392.4h0.5M176.5 391.4h0.5M188.8 387.4h0.5M184.1 391.2h0.5M193.3 384.9h0.5M179.9 391.1h0.5" stroke="#555" stroke-width="0.5" opacity="0.35"/>
<path d="M174.6 391.9h0.5M181.7 389.3h0.5M177.1 391.2h0.5M187.0 384.3h0.5M187.3 386.1h0.5M185.1 403.4h0.5M175.3 391.7h0.5M182.5 396.9h0.5M180.3 383.1h0.5M168.9 392.9h0.5M187.5 397.3h0.5M179.6 395.3h0.5M174.4 398.5h0.5M184.3 388.6h0.5M186.8 400.7h0.5M176.5 385.8h0.5M174.8 386.2h0.5M184.5 393.8h0.5M183.4 393.0h0.5M196.9 390.6h0.5M172.5 380.6h0.5M187.4 388.6h0.5M182.5 394.0h0.5M189.6 384.2h0.5M175.4 392.4h0.5M183.6 397.7h0.5M180.0 381.7h0.5M196.7 383.8h0.5M175.3 393.9h0.5M174.4 404.4h0.5M187.4 394.7h0.5M180.6 403.1h0.5M190.4 388.4h0.5M197.5 383.6h0.5M179.1 393.4h0.5M186.4 387.2h0.5M200.8 399.4h0.5M175.7 393.9h0.5M178.7 389.8h0.5M194.9 392.6h0.5M183.9 392.5h0.5M173.3 398.1h0.5M177.5 398.5h0.5M180.4 389.7h0.5M199.9 393.0h0.5M178.6 389.3h0.5M191.1 401.4h0.5M191.1 390.0h0.5M173.8 388.6h0.5M183.8 393.2h0.5M178.4 398.4h0.5M175.4 388.4h0.5M190.0 394.4h0.5M181.1 396.8h0.5M170.9 400.2h0.5M206.9 401.8h0.5M186.2 401.8h0.5M185.5 398.6h0.5M183.0 393.0h0.5M190.2 383.3h0.5M182.9 400.6h0.5M155.8 393.9h0.5M194.2 393.6h0.5M186.9 398.9h0.5M188.4 382.5h0.5M175.6 390.5h0.5M186.4 389.8h0.5M184.0 400.3h0.5M155.7 397.8h0.5M194.4 395.0h0.5M185.2 392.3h0.5M188.6 393.2h0.5M177.8 395.9h0.5M176.7 391.8h0.5M181.4 386.2h0.5M191.0 391.7h0.5M173.4 391.6h0.5M171.2 399.2h0.5M190.2 401.9h0.5M179.3 395.5h0.5M175.3 387.7h0.5M184.1 394.1h0.5M194.2 390.7h0.5M196.0 396.8h0.5M176.3 391.1h0.5M175.9 400.5h0.5M179.5 396.4h0.5M194.1 390.7h0.5M180.1 393.7h0.5M177.3 385.7h0.5M175.4 393.7h0.5M186.9 400.8h0.5M166.8 394.5h0.5M173.5 397.8h0.5M191.9 392.6h0.5M199.7 390.1h0.5M179.7 386.8h0.5M178.5 392.6h0.5M191.7 398.4h0.5M182.3 388.4h0.5M181.7 389.9h0.5M180.3 390.0h0.5M176.3 391.7h0.5M179.9 391.2h0.5M171.2 392.7h0.5M190.7 395.2h0.5M179.5 386.3h0.5M172.1 386.2h0.5M178.6 390.5h0.5M167.4 395.3h0.5M169.7 388.6h0.5M177.8 396.1h0.5M203.3 390.2h0.5M182.3 390.1h0.5M183.0 391.2h0.5M209.5 386.6h0.5M183.9 388.1h0.5M188.5 389.4h0.5M190.7 386.6h0.5M205.9 393.0h0.5M167.5 395.5h0.5M180.3 386.3h0.5M189.4 389.4h0.5M192.3 389.3h0.5M193.9 392.7h0.5M188.5 392.8h0.5M181.4 390.2h0.5M189.5 395.5h0.5M181.0 403.1h0.5M201.7 386.3h0.5" stroke="#444" stroke-width="0.55" opacity="0.55"/>
<g transform="translate(182.00,396.00) rotate(0)">
<ellipse cx="0" cy="0" rx="11.00" ry="3.50" fill="#000" opacity="0.15"/>
<ellipse cx="0" cy="0" rx="6.60" ry="2.10" fill="#000" opacity="0.32" filter="url(#b05)"/>
<ellipse cx="0" cy="0" rx="11.00" ry="3.50" fill="none" stroke="#222" stroke-width="0.45" opacity="0.88"/>
<ellipse cx="0" cy="0" rx="8.92" ry="2.84" fill="none" stroke="#222" stroke-width="0.45" opacity="0.88"/>
<ellipse cx="0" cy="0" rx="6.85" ry="2.18" fill="none" stroke="#222" stroke-width="0.45" opacity="0.88"/>
<ellipse cx="0" cy="0" rx="4.77" ry="1.52" fill="none" stroke="#222" stroke-width="0.45" opacity="0.88"/>
<ellipse cx="0" cy="0" rx="2.70" ry="0.86" fill="none" stroke="#222" stroke-width="0.45" opacity="0.88"/>
</g>
<g transform="translate(195.00,383.00) rotate(0)">
<ellipse cx="0" cy="0" rx="4.00" ry="3.00" fill="none" stroke="#222" stroke-width="0.45" opacity="0.66"/>
<ellipse cx="0" cy="0" rx="2.79" ry="2.09" fill="none" stroke="#222" stroke-width="0.45" opacity="0.66"/>
<ellipse cx="0" cy="0" rx="1.58" ry="1.18" fill="none" stroke="#222" stroke-width="0.45" opacity="0.66"/>
</g>
</g>
<line x1="191.70" y1="358.00" x2="191.70" y2="402.20" stroke="#555" stroke-width="0.5" />
<line x1="167.60" y1="387.70" x2="211.90" y2="387.70" stroke="#555" stroke-width="0.5" />
<text x="168.90" y="363.00" font-size="4.4" text-anchor="start" font-weight="normal" font-style="normal" fill="#222" >2.8</text>
<text x="210.60" y="363.00" font-size="4.4" text-anchor="end" font-weight="normal" font-style="normal" fill="#222" >3.3</text>
<text x="210.30" y="400.40" font-size="4.4" text-anchor="end" font-weight="normal" font-style="normal" fill="#222" >2.6</text>
<text x="165.80" y="363.80" font-size="4.8" text-anchor="end" font-weight="normal" font-style="normal" fill="#444" >10<tspan dy="-1.6" font-size="3.6">5</tspan></text>
<text x="165.80" y="373.00" font-size="4.8" text-anchor="end" font-weight="normal" font-style="normal" fill="#444" >10<tspan dy="-1.6" font-size="3.6">4</tspan></text>
<text x="165.80" y="383.30" font-size="4.8" text-anchor="end" font-weight="normal" font-style="normal" fill="#444" >10<tspan dy="-1.6" font-size="3.6">3</tspan></text>
<text x="165.80" y="393.70" font-size="4.8" text-anchor="end" font-weight="normal" font-style="normal" fill="#444" >10<tspan dy="-1.6" font-size="3.6">2</tspan></text>
<text x="165.80" y="399.00" font-size="4.8" text-anchor="end" font-weight="normal" font-style="normal" fill="#444" >0</text>
<line x1="166.40" y1="362.40" x2="167.60" y2="362.40" stroke="#444" stroke-width="0.4" />
<line x1="166.40" y1="371.60" x2="167.60" y2="371.60" stroke="#444" stroke-width="0.4" />
<line x1="166.40" y1="380.80" x2="167.60" y2="380.80" stroke="#444" stroke-width="0.4" />
<line x1="166.40" y1="392.20" x2="167.60" y2="392.20" stroke="#444" stroke-width="0.4" />
<line x1="166.40" y1="397.30" x2="167.60" y2="397.30" stroke="#444" stroke-width="0.4" />
<text x="175.20" y="410.60" font-size="4.8" text-anchor="middle" font-weight="normal" font-style="normal" fill="#444" >0<tspan>10</tspan><tspan dy="-1.6" font-size="3.6">2</tspan></text>
<text x="188.40" y="410.60" font-size="4.8" text-anchor="middle" font-weight="normal" font-style="normal" fill="#444" >10<tspan dy="-1.6" font-size="3.6">3</tspan></text>
<text x="198.40" y="410.60" font-size="4.8" text-anchor="middle" font-weight="normal" font-style="normal" fill="#444" >10<tspan dy="-1.6" font-size="3.6">4</tspan></text>
<text x="207.60" y="410.60" font-size="4.8" text-anchor="middle" font-weight="normal" font-style="normal" fill="#444" >10<tspan dy="-1.6" font-size="3.6">5</tspan></text>
<line x1="169.60" y1="402.20" x2="169.60" y2="403.40" stroke="#444" stroke-width="0.4" />
<line x1="175.20" y1="402.20" x2="175.20" y2="403.40" stroke="#444" stroke-width="0.4" />
<line x1="188.40" y1="402.20" x2="188.40" y2="403.40" stroke="#444" stroke-width="0.4" />
<line x1="198.40" y1="402.20" x2="198.40" y2="403.40" stroke="#444" stroke-width="0.4" />
<line x1="207.60" y1="402.20" x2="207.60" y2="403.40" stroke="#444" stroke-width="0.4" />
<line x1="168.40" y1="401.00" x2="168.40" y2="402.20" stroke="#333" stroke-width="0.3" />
<line x1="167.60" y1="401.20" x2="168.80" y2="401.20" stroke="#333" stroke-width="0.3" />
<line x1="169.30" y1="401.00" x2="169.30" y2="402.20" stroke="#333" stroke-width="0.3" />
<line x1="167.60" y1="400.30" x2="168.80" y2="400.30" stroke="#333" stroke-width="0.3" />
<line x1="170.20" y1="401.00" x2="170.20" y2="402.20" stroke="#333" stroke-width="0.3" />
<line x1="167.60" y1="399.40" x2="168.80" y2="399.40" stroke="#333" stroke-width="0.3" />
<line x1="171.10" y1="401.00" x2="171.10" y2="402.20" stroke="#333" stroke-width="0.3" />
<line x1="167.60" y1="398.50" x2="168.80" y2="398.50" stroke="#333" stroke-width="0.3" />
<line x1="172.00" y1="401.00" x2="172.00" y2="402.20" stroke="#333" stroke-width="0.3" />
<line x1="167.60" y1="397.60" x2="168.80" y2="397.60" stroke="#333" stroke-width="0.3" />
<line x1="172.90" y1="401.00" x2="172.90" y2="402.20" stroke="#333" stroke-width="0.3" />
<line x1="167.60" y1="396.70" x2="168.80" y2="396.70" stroke="#333" stroke-width="0.3" />
<line x1="173.80" y1="401.00" x2="173.80" y2="402.20" stroke="#333" stroke-width="0.3" />
<line x1="167.60" y1="395.80" x2="168.80" y2="395.80" stroke="#333" stroke-width="0.3" />
<line x1="174.70" y1="401.00" x2="174.70" y2="402.20" stroke="#333" stroke-width="0.3" />
<line x1="167.60" y1="394.90" x2="168.80" y2="394.90" stroke="#333" stroke-width="0.3" />
<rect x="227.80" y="358.00" width="44.30" height="44.20" fill="#fff" stroke="#777" stroke-width="0.6"/>
<clipPath id="cp227358"><rect x="227.80" y="358.00" width="44.30" height="44.20"/></clipPath>
<g clip-path="url(#cp227358)">
<path d="M264.6 384.1h0.5M257.4 379.0h0.5M262.3 395.9h0.5M255.1 377.3h0.5M231.4 399.6h0.5M248.4 389.6h0.5M259.9 374.6h0.5M253.9 384.8h0.5M257.1 384.6h0.5M235.3 400.6h0.5M238.4 393.8h0.5M258.8 377.9h0.5M253.7 382.7h0.5M236.3 377.0h0.5M263.3 381.8h0.5M246.9 386.0h0.5M229.0 394.1h0.5M255.6 398.0h0.5M241.2 376.7h0.5M240.9 393.4h0.5M252.3 383.0h0.5M247.4 374.9h0.5M262.0 385.1h0.5M246.8 395.2h0.5M235.3 393.1h0.5M241.1 396.0h0.5M231.5 378.8h0.5M251.5 385.4h0.5M241.9 388.5h0.5M236.1 384.0h0.5M228.1 395.6h0.5M237.4 396.6h0.5M248.4 389.2h0.5M251.2 374.0h0.5M256.8 379.3h0.5M259.9 395.2h0.5M253.1 396.1h0.5M244.2 391.5h0.5M263.3 376.1h0.5M231.7 383.2h0.5M246.9 374.8h0.5M236.2 397.7h0.5M242.4 374.8h0.5M234.8 388.5h0.5M235.0 385.2h0.5M247.9 384.1h0.5M246.6 396.8h0.5M228.6 399.8h0.5M235.4 371.2h0.5M256.4 388.2h0.5M247.9 377.0h0.5M256.9 379.8h0.5M254.9 377.3h0.5M249.2 390.7h0.5M241.8 385.4h0.5M230.4 390.6h0.5M253.6 374.9h0.5M248.4 393.5h0.5M231.7 396.8h0.5M260.2 371.6h0.5" stroke="#555" stroke-width="0.5" opacity="0.35"/>
<path d="M237.0 391.4h0.5M237.0 391.4h0.5M232.5 388.4h0.5M234.9 396.5h0.5M229.7 398.2h0.5M236.5 384.1h0.5M237.1 389.0h0.5M235.6 391.4h0.5M233.6 374.8h0.5M241.1 387.9h0.5M246.8 391.1h0.5M225.2 397.7h0.5M232.9 392.3h0.5M250.1 396.6h0.5M230.6 387.3h0.5M227.5 393.3h0.5M240.3 380.1h0.5M239.7 395.4h0.5M241.8 382.8h0.5M232.9 379.3h0.5M229.4 390.5h0.5M237.2 398.2h0.5M238.6 385.5h0.5M228.6 400.1h0.5M238.0 387.8h0.5M231.1 379.9h0.5M240.7 380.5h0.5M240.4 393.0h0.5M234.8 375.4h0.5M239.4 399.0h0.5M232.1 378.2h0.5M243.4 389.2h0.5M233.3 397.6h0.5M235.4 391.6h0.5M234.6 382.2h0.5M238.3 381.4h0.5M226.5 383.9h0.5M244.3 396.6h0.5M249.8 395.8h0.5M246.5 390.0h0.5M234.4 391.7h0.5M231.4 393.8h0.5M234.4 390.1h0.5M232.0 387.0h0.5M242.8 386.4h0.5M233.0 390.3h0.5M242.2 386.6h0.5M230.1 376.0h0.5M229.1 396.3h0.5M236.5 391.8h0.5M243.3 390.3h0.5M239.8 384.2h0.5M227.5 393.0h0.5M236.4 392.5h0.5M230.7 387.0h0.5M248.9 381.6h0.5M237.6 398.2h0.5M235.6 389.1h0.5M224.5 394.1h0.5M234.4 398.0h0.5M236.5 385.2h0.5M239.6 386.2h0.5M234.0 400.0h0.5M242.8 388.9h0.5M241.8 394.5h0.5M240.4 388.5h0.5M237.4 391.2h0.5M240.3 390.8h0.5M233.8 387.5h0.5M239.7 380.5h0.5M236.9 393.9h0.5M238.0 385.9h0.5M236.9 384.4h0.5M242.8 385.2h0.5M227.2 378.8h0.5M238.8 389.7h0.5M234.2 378.0h0.5M236.1 381.7h0.5M233.1 388.1h0.5M232.5 390.5h0.5M232.7 384.5h0.5M235.7 399.3h0.5M246.3 395.4h0.5M232.7 388.2h0.5M242.4 394.3h0.5M227.4 387.7h0.5M232.7 393.9h0.5M240.7 384.0h0.5M249.6 386.0h0.5M251.3 386.8h0.5M236.5 402.7h0.5M233.9 384.5h0.5M245.7 387.8h0.5M239.8 378.5h0.5M247.5 395.6h0.5M239.1 393.5h0.5M234.1 384.5h0.5M227.8 390.9h0.5M244.3 394.7h0.5M242.4 393.5h0.5M231.6 378.2h0.5M240.8 389.4h0.5M242.8 386.0h0.5M231.8 391.5h0.5M233.7 375.6h0.5M233.4 381.4h0.5M230.5 383.9h0.5M242.6 406.1h0.5M247.1 385.0h0.5M243.7 387.6h0.5M239.4 383.0h0.5M236.6 375.3h0.5M247.5 382.3h0.5M240.4 383.7h0.5M238.6 379.2h0.5M234.8 395.1h0.5M240.5 373.3h0.5M242.0 378.1h0.5M238.7 392.1h0.5M233.2 385.7h0.5" stroke="#444" stroke-width="0.55" opacity="0.55"/>
<g transform="translate(234.00,393.00) rotate(0)">
<ellipse cx="0" cy="0" rx="5.00" ry="6.50" fill="#000" opacity="0.20"/>
<ellipse cx="0" cy="0" rx="3.00" ry="3.90" fill="#000" opacity="0.41" filter="url(#b05)"/>
<ellipse cx="0" cy="0" rx="1.75" ry="2.27" fill="#111" opacity="0.72"/>
<ellipse cx="0" cy="0" rx="5.00" ry="6.50" fill="none" stroke="#222" stroke-width="0.45" opacity="0.96"/>
<ellipse cx="0" cy="0" rx="4.21" ry="5.47" fill="none" stroke="#222" stroke-width="0.45" opacity="0.96"/>
<ellipse cx="0" cy="0" rx="3.41" ry="4.44" fill="none" stroke="#222" stroke-width="0.45" opacity="0.96"/>
<ellipse cx="0" cy="0" rx="2.62" ry="3.40" fill="none" stroke="#222" stroke-width="0.45" opacity="0.96"/>
<ellipse cx="0" cy="0" rx="1.83" ry="2.37" fill="none" stroke="#222" stroke-width="0.45" opacity="0.96"/>
<ellipse cx="0" cy="0" rx="1.03" ry="1.34" fill="none" stroke="#222" stroke-width="0.45" opacity="0.96"/>
</g>
<g transform="translate(242.00,392.00) rotate(0)">
<ellipse cx="0" cy="0" rx="3.00" ry="5.00" fill="none" stroke="#222" stroke-width="0.45" opacity="0.68"/>
<ellipse cx="0" cy="0" rx="1.70" ry="2.83" fill="none" stroke="#222" stroke-width="0.45" opacity="0.68"/>
</g>
</g>
<line x1="245.40" y1="358.00" x2="245.40" y2="402.20" stroke="#555" stroke-width="0.5" />
<line x1="227.80" y1="382.00" x2="272.10" y2="382.00" stroke="#555" stroke-width="0.5" />
<text x="229.10" y="363.00" font-size="4.4" text-anchor="start" font-weight="normal" font-style="normal" fill="#222" >0.96</text>
<text x="270.80" y="363.00" font-size="4.4" text-anchor="end" font-weight="normal" font-style="normal" fill="#222" >0.67</text>
<text x="270.50" y="400.40" font-size="4.4" text-anchor="end" font-weight="normal" font-style="normal" fill="#222" >4.2</text>
<text x="226.00" y="363.80" font-size="4.8" text-anchor="end" font-weight="normal" font-style="normal" fill="#444" >10<tspan dy="-1.6" font-size="3.6">5</tspan></text>
<text x="226.00" y="373.00" font-size="4.8" text-anchor="end" font-weight="normal" font-style="normal" fill="#444" >10<tspan dy="-1.6" font-size="3.6">4</tspan></text>
<text x="226.00" y="383.30" font-size="4.8" text-anchor="end" font-weight="normal" font-style="normal" fill="#444" >10<tspan dy="-1.6" font-size="3.6">3</tspan></text>
<text x="226.00" y="393.70" font-size="4.8" text-anchor="end" font-weight="normal" font-style="normal" fill="#444" >10<tspan dy="-1.6" font-size="3.6">2</tspan></text>
<text x="226.00" y="399.00" font-size="4.8" text-anchor="end" font-weight="normal" font-style="normal" fill="#444" >0</text>
<line x1="226.60" y1="362.40" x2="227.80" y2="362.40" stroke="#444" stroke-width="0.4" />
<line x1="226.60" y1="371.60" x2="227.80" y2="371.60" stroke="#444" stroke-width="0.4" />
<line x1="226.60" y1="380.80" x2="227.80" y2="380.80" stroke="#444" stroke-width="0.4" />
<line x1="226.60" y1="392.20" x2="227.80" y2="392.20" stroke="#444" stroke-width="0.4" />
<line x1="226.60" y1="397.30" x2="227.80" y2="397.30" stroke="#444" stroke-width="0.4" />
<text x="235.40" y="410.60" font-size="4.8" text-anchor="middle" font-weight="normal" font-style="normal" fill="#444" >0<tspan>10</tspan><tspan dy="-1.6" font-size="3.6">2</tspan></text>
<text x="248.60" y="410.60" font-size="4.8" text-anchor="middle" font-weight="normal" font-style="normal" fill="#444" >10<tspan dy="-1.6" font-size="3.6">3</tspan></text>
<text x="258.60" y="410.60" font-size="4.8" text-anchor="middle" font-weight="normal" font-style="normal" fill="#444" >10<tspan dy="-1.6" font-size="3.6">4</tspan></text>
<text x="267.80" y="410.60" font-size="4.8" text-anchor="middle" font-weight="normal" font-style="normal" fill="#444" >10<tspan dy="-1.6" font-size="3.6">5</tspan></text>
<line x1="229.80" y1="402.20" x2="229.80" y2="403.40" stroke="#444" stroke-width="0.4" />
<line x1="235.40" y1="402.20" x2="235.40" y2="403.40" stroke="#444" stroke-width="0.4" />
<line x1="248.60" y1="402.20" x2="248.60" y2="403.40" stroke="#444" stroke-width="0.4" />
<line x1="258.60" y1="402.20" x2="258.60" y2="403.40" stroke="#444" stroke-width="0.4" />
<line x1="267.80" y1="402.20" x2="267.80" y2="403.40" stroke="#444" stroke-width="0.4" />
<line x1="228.60" y1="401.00" x2="228.60" y2="402.20" stroke="#333" stroke-width="0.3" />
<line x1="227.80" y1="401.20" x2="229.00" y2="401.20" stroke="#333" stroke-width="0.3" />
<line x1="229.50" y1="401.00" x2="229.50" y2="402.20" stroke="#333" stroke-width="0.3" />
<line x1="227.80" y1="400.30" x2="229.00" y2="400.30" stroke="#333" stroke-width="0.3" />
<line x1="230.40" y1="401.00" x2="230.40" y2="402.20" stroke="#333" stroke-width="0.3" />
<line x1="227.80" y1="399.40" x2="229.00" y2="399.40" stroke="#333" stroke-width="0.3" />
<line x1="231.30" y1="401.00" x2="231.30" y2="402.20" stroke="#333" stroke-width="0.3" />
<line x1="227.80" y1="398.50" x2="229.00" y2="398.50" stroke="#333" stroke-width="0.3" />
<line x1="232.20" y1="401.00" x2="232.20" y2="402.20" stroke="#333" stroke-width="0.3" />
<line x1="227.80" y1="397.60" x2="229.00" y2="397.60" stroke="#333" stroke-width="0.3" />
<line x1="233.10" y1="401.00" x2="233.10" y2="402.20" stroke="#333" stroke-width="0.3" />
<line x1="227.80" y1="396.70" x2="229.00" y2="396.70" stroke="#333" stroke-width="0.3" />
<line x1="234.00" y1="401.00" x2="234.00" y2="402.20" stroke="#333" stroke-width="0.3" />
<line x1="227.80" y1="395.80" x2="229.00" y2="395.80" stroke="#333" stroke-width="0.3" />
<line x1="234.90" y1="401.00" x2="234.90" y2="402.20" stroke="#333" stroke-width="0.3" />
<line x1="227.80" y1="394.90" x2="229.00" y2="394.90" stroke="#333" stroke-width="0.3" />
<line x1="45.75" y1="429.20" x2="45.75" y2="418.50" stroke="#111" stroke-width="0.8" />
<polygon points="45.75,415.30 44.05,419.00 47.45,419.00" fill="#111"/>
<line x1="45.75" y1="429.20" x2="56.75" y2="429.20" stroke="#111" stroke-width="0.8" />
<polygon points="60.05,429.2 56.35,427.50 56.35,430.90" fill="#111"/>
<text transform="translate(42.55,422.50) rotate(-90) scale(1.0,1)" font-size="4.8" text-anchor="middle" font-style="normal" font-weight="normal" fill="#222">Gr1</text>
<text x="63.25" y="431.00" font-size="4.8" text-anchor="start" font-weight="normal" font-style="normal" fill="#222" >CD11b</text>
<line x1="106.75" y1="429.20" x2="106.75" y2="418.50" stroke="#111" stroke-width="0.8" />
<polygon points="106.75,415.30 105.05,419.00 108.45,419.00" fill="#111"/>
<line x1="106.75" y1="429.20" x2="117.75" y2="429.20" stroke="#111" stroke-width="0.8" />
<polygon points="121.05,429.2 117.35,427.50 117.35,430.90" fill="#111"/>
<text transform="translate(103.55,422.50) rotate(-90) scale(1.0,1)" font-size="4.8" text-anchor="middle" font-style="normal" font-weight="normal" fill="#222">Ter119</text>
<text x="124.25" y="431.00" font-size="4.8" text-anchor="start" font-weight="normal" font-style="normal" fill="#222" >CD71</text>
<line x1="168.25" y1="429.20" x2="168.25" y2="418.50" stroke="#111" stroke-width="0.8" />
<polygon points="168.25,415.30 166.55,419.00 169.95,419.00" fill="#111"/>
<line x1="168.25" y1="429.20" x2="179.25" y2="429.20" stroke="#111" stroke-width="0.8" />
<polygon points="182.55,429.2 178.85,427.50 178.85,430.90" fill="#111"/>
<text transform="translate(165.05,422.50) rotate(-90) scale(1.0,1)" font-size="4.8" text-anchor="middle" font-style="normal" font-weight="normal" fill="#222">CD19</text>
<text x="185.75" y="431.00" font-size="4.8" text-anchor="start" font-weight="normal" font-style="normal" fill="#222" >B220</text>
<line x1="228.75" y1="429.20" x2="228.75" y2="418.50" stroke="#111" stroke-width="0.8" />
<polygon points="228.75,415.30 227.05,419.00 230.45,419.00" fill="#111"/>
<line x1="228.75" y1="429.20" x2="239.75" y2="429.20" stroke="#111" stroke-width="0.8" />
<polygon points="243.05,429.2 239.35,427.50 239.35,430.90" fill="#111"/>
<text transform="translate(225.55,422.50) rotate(-90) scale(1.0,1)" font-size="4.8" text-anchor="middle" font-style="normal" font-weight="normal" fill="#222">CD8</text>
<text x="246.25" y="431.00" font-size="4.8" text-anchor="start" font-weight="normal" font-style="normal" fill="#222" >CD4</text>
<text class="s" x="7.00" y="449.20" font-size="11.2" text-anchor="start" font-weight="bold" font-style="normal" fill="#000" >D</text>
<rect x="49.10" y="493.20" width="17.40" height="37.30" fill="#2c4a87" />
<rect x="49.10" y="486.21" width="17.40" height="6.99" fill="#b0122e" />
<rect x="49.10" y="475.22" width="17.40" height="10.99" fill="#69a93b" />
<rect x="49.10" y="473.22" width="17.40" height="2.00" fill="#5a2c78" />
<line x1="57.80" y1="489.61" x2="57.80" y2="492.74" stroke="#111" stroke-width="0.9" />
<line x1="53.60" y1="489.61" x2="62.00" y2="489.61" stroke="#111" stroke-width="1.1" />
<line x1="57.80" y1="485.35" x2="57.80" y2="486.21" stroke="#111" stroke-width="0.9" />
<line x1="53.60" y1="485.35" x2="62.00" y2="485.35" stroke="#111" stroke-width="1.1" />
<line x1="57.80" y1="472.42" x2="57.80" y2="473.22" stroke="#111" stroke-width="0.9" />
<line x1="53.60" y1="472.42" x2="62.00" y2="472.42" stroke="#111" stroke-width="1.1" />
<rect x="75.60" y="483.21" width="17.30" height="47.29" fill="#2c4a87" />
<rect x="75.60" y="476.55" width="17.30" height="6.66" fill="#b0122e" />
<rect x="75.60" y="475.89" width="17.30" height="0.67" fill="#69a93b" />
<rect x="75.60" y="474.22" width="17.30" height="1.67" fill="#5a2c78" />
<line x1="84.25" y1="478.55" x2="84.25" y2="482.21" stroke="#111" stroke-width="0.9" />
<line x1="80.05" y1="478.55" x2="88.45" y2="478.55" stroke="#111" stroke-width="1.1" />
<line x1="84.25" y1="473.56" x2="84.25" y2="474.22" stroke="#111" stroke-width="0.9" />
<line x1="80.05" y1="473.56" x2="88.45" y2="473.56" stroke="#111" stroke-width="1.1" />
<rect x="102.00" y="491.87" width="17.30" height="38.63" fill="#2c4a87" />
<rect x="102.00" y="482.21" width="17.30" height="9.66" fill="#b0122e" />
<line x1="110.65" y1="480.75" x2="110.65" y2="490.81" stroke="#111" stroke-width="0.9" />
<line x1="106.45" y1="480.75" x2="114.85" y2="480.75" stroke="#111" stroke-width="1.1" />
<line x1="44.90" y1="462.40" x2="44.90" y2="530.50" stroke="#222" stroke-width="0.9" />
<line x1="44.90" y1="530.50" x2="124.00" y2="530.50" stroke="#222" stroke-width="0.9" />
<line x1="42.50" y1="530.50" x2="44.90" y2="530.50" stroke="#222" stroke-width="0.7" />
<text class="s" x="41.50" y="532.60" font-size="5.9" text-anchor="end" font-weight="normal" font-style="normal" fill="#222" >0</text>
<line x1="42.50" y1="517.18" x2="44.90" y2="517.18" stroke="#222" stroke-width="0.7" />
<text class="s" x="41.50" y="519.28" font-size="5.9" text-anchor="end" font-weight="normal" font-style="normal" fill="#222" >20</text>
<line x1="42.50" y1="503.86" x2="44.90" y2="503.86" stroke="#222" stroke-width="0.7" />
<text class="s" x="41.50" y="505.96" font-size="5.9" text-anchor="end" font-weight="normal" font-style="normal" fill="#222" >40</text>
<line x1="42.50" y1="490.54" x2="44.90" y2="490.54" stroke="#222" stroke-width="0.7" />
<text class="s" x="41.50" y="492.64" font-size="5.9" text-anchor="end" font-weight="normal" font-style="normal" fill="#222" >60</text>
<line x1="42.50" y1="477.22" x2="44.90" y2="477.22" stroke="#222" stroke-width="0.7" />
<text class="s" x="41.50" y="479.32" font-size="5.9" text-anchor="end" font-weight="normal" font-style="normal" fill="#222" >80</text>
<line x1="42.50" y1="463.90" x2="44.90" y2="463.90" stroke="#222" stroke-width="0.7" />
<text class="s" x="41.50" y="466.00" font-size="5.9" text-anchor="end" font-weight="normal" font-style="normal" fill="#222" >100</text>
<line x1="57.80" y1="530.50" x2="57.80" y2="532.50" stroke="#222" stroke-width="0.7" />
<line x1="84.25" y1="530.50" x2="84.25" y2="532.50" stroke="#222" stroke-width="0.7" />
<line x1="110.65" y1="530.50" x2="110.65" y2="532.50" stroke="#222" stroke-width="0.7" />
<text class="s" x="84.20" y="455.90" font-size="8.6" text-anchor="middle" font-weight="normal" font-style="normal" fill="#222" >BM</text>
<text class="s" transform="translate(22.60,495.50) rotate(-90) scale(1.0,1)" font-size="6.45" text-anchor="middle" font-style="normal" font-weight="normal" fill="#222">Lineage (%)</text>
<rect x="163.40" y="525.69" width="17.30" height="5.01" fill="#2c4a87" />
<rect x="163.40" y="522.62" width="17.30" height="3.07" fill="#b0122e" />
<rect x="163.40" y="489.62" width="17.30" height="33.00" fill="#69a93b" />
<rect x="163.40" y="476.79" width="17.30" height="12.83" fill="#5a2c78" />
<line x1="172.05" y1="524.22" x2="172.05" y2="526.02" stroke="#111" stroke-width="0.9" />
<line x1="167.85" y1="524.22" x2="176.25" y2="524.22" stroke="#111" stroke-width="1.1" />
<line x1="172.05" y1="522.35" x2="172.05" y2="522.62" stroke="#111" stroke-width="0.9" />
<line x1="167.85" y1="522.35" x2="176.25" y2="522.35" stroke="#111" stroke-width="1.1" />
<line x1="172.05" y1="487.01" x2="172.05" y2="488.88" stroke="#111" stroke-width="0.9" />
<line x1="167.85" y1="487.01" x2="176.25" y2="487.01" stroke="#111" stroke-width="1.1" />
<line x1="172.05" y1="475.32" x2="172.05" y2="476.79" stroke="#111" stroke-width="0.9" />
<line x1="167.85" y1="475.32" x2="176.25" y2="475.32" stroke="#111" stroke-width="1.1" />
<rect x="189.90" y="513.80" width="17.30" height="16.90" fill="#2c4a87" />
<rect x="189.90" y="494.56" width="17.30" height="19.24" fill="#b0122e" />
<rect x="189.90" y="491.76" width="17.30" height="2.81" fill="#69a93b" />
<rect x="189.90" y="490.22" width="17.30" height="1.54" fill="#5a2c78" />
<line x1="198.55" y1="510.26" x2="198.55" y2="513.80" stroke="#111" stroke-width="0.9" />
<line x1="194.35" y1="510.26" x2="202.75" y2="510.26" stroke="#111" stroke-width="1.1" />
<line x1="198.55" y1="490.69" x2="198.55" y2="494.56" stroke="#111" stroke-width="0.9" />
<line x1="194.35" y1="490.69" x2="202.75" y2="490.69" stroke="#111" stroke-width="1.1" />
<rect x="216.10" y="517.34" width="17.00" height="13.36" fill="#2c4a87" />
<rect x="216.10" y="489.95" width="17.00" height="27.39" fill="#b0122e" />
<line x1="224.60" y1="515.34" x2="224.60" y2="517.34" stroke="#111" stroke-width="0.9" />
<line x1="220.40" y1="515.34" x2="228.80" y2="515.34" stroke="#111" stroke-width="1.1" />
<line x1="224.60" y1="489.15" x2="224.60" y2="489.95" stroke="#111" stroke-width="0.9" />
<line x1="220.40" y1="489.15" x2="228.80" y2="489.15" stroke="#111" stroke-width="1.1" />
<line x1="158.70" y1="462.40" x2="158.70" y2="530.70" stroke="#222" stroke-width="0.9" />
<line x1="158.70" y1="530.70" x2="237.40" y2="530.70" stroke="#222" stroke-width="0.9" />
<line x1="156.30" y1="530.70" x2="158.70" y2="530.70" stroke="#222" stroke-width="0.7" />
<text class="s" x="155.30" y="532.80" font-size="5.9" text-anchor="end" font-weight="normal" font-style="normal" fill="#222" >0</text>
<line x1="156.30" y1="517.34" x2="158.70" y2="517.34" stroke="#222" stroke-width="0.7" />
<text class="s" x="155.30" y="519.44" font-size="5.9" text-anchor="end" font-weight="normal" font-style="normal" fill="#222" >20</text>
<line x1="156.30" y1="503.98" x2="158.70" y2="503.98" stroke="#222" stroke-width="0.7" />
<text class="s" x="155.30" y="506.08" font-size="5.9" text-anchor="end" font-weight="normal" font-style="normal" fill="#222" >40</text>
<line x1="156.30" y1="490.62" x2="158.70" y2="490.62" stroke="#222" stroke-width="0.7" />
<text class="s" x="155.30" y="492.72" font-size="5.9" text-anchor="end" font-weight="normal" font-style="normal" fill="#222" >60</text>
<line x1="156.30" y1="477.26" x2="158.70" y2="477.26" stroke="#222" stroke-width="0.7" />
<text class="s" x="155.30" y="479.36" font-size="5.9" text-anchor="end" font-weight="normal" font-style="normal" fill="#222" >80</text>
<line x1="156.30" y1="463.90" x2="158.70" y2="463.90" stroke="#222" stroke-width="0.7" />
<text class="s" x="155.30" y="466.00" font-size="5.9" text-anchor="end" font-weight="normal" font-style="normal" fill="#222" >100</text>
<line x1="172.05" y1="530.70" x2="172.05" y2="532.70" stroke="#222" stroke-width="0.7" />
<line x1="198.55" y1="530.70" x2="198.55" y2="532.70" stroke="#222" stroke-width="0.7" />
<line x1="224.60" y1="530.70" x2="224.60" y2="532.70" stroke="#222" stroke-width="0.7" />
<text class="s" x="198.10" y="457.00" font-size="8.6" text-anchor="middle" font-weight="normal" font-style="normal" fill="#222" >Spleen</text>
<text class="s" transform="translate(136.80,495.50) rotate(-90) scale(1.0,1)" font-size="6.45" text-anchor="middle" font-style="normal" font-weight="normal" fill="#222">Lineage (%)</text>
<text class="s" x="58.20" y="541.80" font-size="6.4" text-anchor="middle" font-weight="normal" font-style="italic" fill="#222" >Ctrl</text>
<text class="s" x="84.20" y="541.80" font-size="6.4" text-anchor="middle" font-weight="normal" font-style="italic" fill="#222" >SKI</text>
<text class="s" x="110.60" y="541.80" font-size="6.4" text-anchor="middle" font-weight="normal" font-style="italic" fill="#222" >SKI</text>
<text class="s" x="172.00" y="541.80" font-size="6.4" text-anchor="middle" font-weight="normal" font-style="italic" fill="#222" >Ctrl</text>
<text class="s" x="198.50" y="541.80" font-size="6.4" text-anchor="middle" font-weight="normal" font-style="italic" fill="#222" >SKI</text>
<text class="s" x="224.60" y="541.80" font-size="6.4" text-anchor="middle" font-weight="normal" font-style="italic" fill="#222" >SKI</text>
<line x1="49.50" y1="546.50" x2="91.80" y2="546.50" stroke="#222" stroke-width="0.9" />
<line x1="102.00" y1="546.50" x2="118.80" y2="546.50" stroke="#222" stroke-width="0.9" />
<line x1="163.40" y1="546.70" x2="207.20" y2="546.70" stroke="#222" stroke-width="0.9" />
<line x1="216.10" y1="546.70" x2="232.90" y2="546.70" stroke="#222" stroke-width="0.9" />
<text class="s" x="70.80" y="555.30" font-size="6.4" text-anchor="middle" font-weight="normal" font-style="normal" fill="#222" >HSC</text>
<text class="s" x="110.40" y="555.30" font-size="6.4" text-anchor="middle" font-weight="normal" font-style="normal" fill="#222" >MEP</text>
<text class="s" x="185.30" y="555.30" font-size="6.4" text-anchor="middle" font-weight="normal" font-style="normal" fill="#222" >HSC</text>
<text class="s" x="224.60" y="555.30" font-size="6.4" text-anchor="middle" font-weight="normal" font-style="normal" fill="#222" >MEP</text>
<rect x="238.60" y="467.10" width="8.30" height="4.80" fill="#5a2c78" />
<text x="250.00" y="471.40" font-size="5.4" text-anchor="start" font-weight="normal" font-style="normal" fill="#222" >T cells</text>
<rect x="238.60" y="475.65" width="8.30" height="4.80" fill="#69a93b" />
<text x="250.00" y="479.95" font-size="5.4" text-anchor="start" font-weight="normal" font-style="normal" fill="#222" >B cells</text>
<rect x="238.60" y="484.20" width="8.30" height="4.80" fill="#b0122e" />
<text x="250.00" y="488.50" font-size="5.4" text-anchor="start" font-weight="normal" font-style="normal" fill="#222" >Erythroid</text>
<rect x="238.60" y="492.75" width="8.30" height="4.80" fill="#2c4a87" />
<text x="250.00" y="497.05" font-size="5.4" text-anchor="start" font-weight="normal" font-style="normal" fill="#222" >Myeloid</text>
<text class="s" x="7.30" y="573.20" font-size="11.2" text-anchor="start" font-weight="bold" font-style="normal" fill="#000" >E</text>
<rect x="47.10" y="616.95" width="7.30" height="20.45" fill="#4b5165" />
<rect x="47.10" y="616.25" width="7.30" height="0.70" fill="#69a93b" />
<line x1="50.75" y1="614.37" x2="50.75" y2="616.72" stroke="#111" stroke-width="0.9" />
<line x1="48.75" y1="614.37" x2="52.75" y2="614.37" stroke="#111" stroke-width="1.1" />
<rect x="58.20" y="625.88" width="7.70" height="11.51" fill="#4b5165" />
<rect x="58.20" y="600.27" width="7.70" height="25.62" fill="#69a93b" />
<line x1="62.05" y1="598.86" x2="62.05" y2="600.27" stroke="#111" stroke-width="0.9" />
<line x1="60.05" y1="598.86" x2="64.05" y2="598.86" stroke="#111" stroke-width="1.1" />
<line x1="62.05" y1="622.45" x2="62.05" y2="625.88" stroke="#111" stroke-width="0.9" />
<line x1="60.05" y1="622.45" x2="64.05" y2="622.45" stroke="#111" stroke-width="1.1" />
<rect x="70.20" y="615.07" width="7.00" height="22.33" fill="#4b5165" />
<line x1="73.70" y1="613.66" x2="73.70" y2="615.07" stroke="#111" stroke-width="0.9" />
<line x1="71.70" y1="613.66" x2="75.70" y2="613.66" stroke="#111" stroke-width="1.1" />
<rect x="81.30" y="624.38" width="7.40" height="13.02" fill="#4b5165" />
<rect x="81.30" y="604.03" width="7.40" height="20.35" fill="#69a93b" />
<line x1="85.00" y1="599.10" x2="85.00" y2="604.03" stroke="#111" stroke-width="0.9" />
<line x1="83.00" y1="599.10" x2="87.00" y2="599.10" stroke="#111" stroke-width="1.1" />
<line x1="85.00" y1="620.72" x2="85.00" y2="624.38" stroke="#111" stroke-width="0.9" />
<line x1="83.00" y1="620.72" x2="87.00" y2="620.72" stroke="#111" stroke-width="1.1" />
<line x1="44.80" y1="588.90" x2="44.80" y2="637.40" stroke="#222" stroke-width="0.9" />
<line x1="44.80" y1="637.40" x2="90.40" y2="637.40" stroke="#222" stroke-width="0.9" />
<line x1="42.60" y1="637.40" x2="44.80" y2="637.40" stroke="#222" stroke-width="0.7" />
<text class="s" x="41.60" y="639.50" font-size="5.9" text-anchor="end" font-weight="normal" font-style="normal" fill="#222" >0</text>
<line x1="42.60" y1="628.00" x2="44.80" y2="628.00" stroke="#222" stroke-width="0.7" />
<text class="s" x="41.60" y="630.10" font-size="5.9" text-anchor="end" font-weight="normal" font-style="normal" fill="#222" >20</text>
<line x1="42.60" y1="618.60" x2="44.80" y2="618.60" stroke="#222" stroke-width="0.7" />
<text class="s" x="41.60" y="620.70" font-size="5.9" text-anchor="end" font-weight="normal" font-style="normal" fill="#222" >40</text>
<line x1="42.60" y1="609.20" x2="44.80" y2="609.20" stroke="#222" stroke-width="0.7" />
<text class="s" x="41.60" y="611.30" font-size="5.9" text-anchor="end" font-weight="normal" font-style="normal" fill="#222" >60</text>
<line x1="42.60" y1="599.80" x2="44.80" y2="599.80" stroke="#222" stroke-width="0.7" />
<text class="s" x="41.60" y="601.90" font-size="5.9" text-anchor="end" font-weight="normal" font-style="normal" fill="#222" >80</text>
<line x1="42.60" y1="590.40" x2="44.80" y2="590.40" stroke="#222" stroke-width="0.7" />
<text class="s" x="41.60" y="592.50" font-size="5.9" text-anchor="end" font-weight="normal" font-style="normal" fill="#222" >100</text>
<line x1="50.75" y1="637.40" x2="50.75" y2="639.40" stroke="#222" stroke-width="0.7" />
<line x1="62.05" y1="637.40" x2="62.05" y2="639.40" stroke="#222" stroke-width="0.7" />
<line x1="73.70" y1="637.40" x2="73.70" y2="639.40" stroke="#222" stroke-width="0.7" />
<line x1="85.00" y1="637.40" x2="85.00" y2="639.40" stroke="#222" stroke-width="0.7" />
<text x="67.80" y="582.8" font-size="8.4" text-anchor="middle" fill="#222">Total BM</text>
<path d="M49.40,595.90 L49.40,594.60 L62.50,594.60 L62.50,595.90" fill="none" stroke="#222" stroke-width="0.8"/>
<text x="55.95" y="594.00" font-size="5.4" text-anchor="middle" font-weight="bold" font-style="normal" fill="#222" >****</text>
<path d="M74.00,595.90 L74.00,594.60 L85.60,594.60 L85.60,595.90" fill="none" stroke="#222" stroke-width="0.8"/>
<text x="79.80" y="594.00" font-size="5.4" text-anchor="middle" font-weight="bold" font-style="normal" fill="#222" >*</text>
<text class="s" transform="translate(22.60,612.50) rotate(-90) scale(1.0,1)" font-size="6.8" text-anchor="middle" font-style="normal" font-weight="normal" fill="#222">Cell number (10<tspan dy="-2.2" font-size="4.4">6</tspan><tspan dy="2.2">)</tspan></text>
<rect x="127.70" y="622.87" width="7.30" height="14.53" fill="#4b5165" />
<rect x="127.70" y="622.10" width="7.30" height="0.76" fill="#69a93b" />
<line x1="131.35" y1="621.34" x2="131.35" y2="622.87" stroke="#111" stroke-width="0.9" />
<line x1="129.35" y1="621.34" x2="133.35" y2="621.34" stroke="#111" stroke-width="1.1" />
<rect x="138.80" y="633.57" width="7.60" height="3.83" fill="#4b5165" />
<rect x="138.80" y="605.27" width="7.60" height="28.30" fill="#69a93b" />
<line x1="142.60" y1="602.21" x2="142.60" y2="605.27" stroke="#111" stroke-width="0.9" />
<line x1="140.60" y1="602.21" x2="144.60" y2="602.21" stroke="#111" stroke-width="1.1" />
<line x1="142.60" y1="630.90" x2="142.60" y2="633.57" stroke="#111" stroke-width="0.9" />
<line x1="140.60" y1="630.90" x2="144.60" y2="630.90" stroke="#111" stroke-width="1.1" />
<rect x="149.80" y="619.80" width="7.60" height="17.60" fill="#4b5165" />
<line x1="153.60" y1="617.13" x2="153.60" y2="619.80" stroke="#111" stroke-width="0.9" />
<line x1="151.60" y1="617.13" x2="155.60" y2="617.13" stroke="#111" stroke-width="1.1" />
<rect x="161.00" y="632.04" width="7.60" height="5.36" fill="#4b5165" />
<rect x="161.00" y="606.03" width="7.60" height="26.01" fill="#69a93b" />
<line x1="164.80" y1="596.86" x2="164.80" y2="606.03" stroke="#111" stroke-width="0.9" />
<line x1="162.80" y1="596.86" x2="166.80" y2="596.86" stroke="#111" stroke-width="1.1" />
<line x1="164.80" y1="630.13" x2="164.80" y2="632.04" stroke="#111" stroke-width="0.9" />
<line x1="162.80" y1="630.13" x2="166.80" y2="630.13" stroke="#111" stroke-width="1.1" />
<line x1="125.80" y1="590.00" x2="125.80" y2="637.40" stroke="#222" stroke-width="0.9" />
<line x1="125.80" y1="637.40" x2="170.00" y2="637.40" stroke="#222" stroke-width="0.9" />
<line x1="123.60" y1="637.40" x2="125.80" y2="637.40" stroke="#222" stroke-width="0.7" />
<text class="s" x="122.60" y="639.50" font-size="5.9" text-anchor="end" font-weight="normal" font-style="normal" fill="#222" >0</text>
<line x1="123.60" y1="622.10" x2="125.80" y2="622.10" stroke="#222" stroke-width="0.7" />
<text class="s" x="122.60" y="624.20" font-size="5.9" text-anchor="end" font-weight="normal" font-style="normal" fill="#222" >20</text>
<line x1="123.60" y1="606.80" x2="125.80" y2="606.80" stroke="#222" stroke-width="0.7" />
<text class="s" x="122.60" y="608.90" font-size="5.9" text-anchor="end" font-weight="normal" font-style="normal" fill="#222" >40</text>
<line x1="123.60" y1="591.50" x2="125.80" y2="591.50" stroke="#222" stroke-width="0.7" />
<text class="s" x="122.60" y="593.60" font-size="5.9" text-anchor="end" font-weight="normal" font-style="normal" fill="#222" >60</text>
<line x1="131.35" y1="637.40" x2="131.35" y2="639.40" stroke="#222" stroke-width="0.7" />
<line x1="142.60" y1="637.40" x2="142.60" y2="639.40" stroke="#222" stroke-width="0.7" />
<line x1="153.60" y1="637.40" x2="153.60" y2="639.40" stroke="#222" stroke-width="0.7" />
<line x1="164.80" y1="637.40" x2="164.80" y2="639.40" stroke="#222" stroke-width="0.7" />
<text x="145.20" y="582.8" font-size="8.4" text-anchor="middle" fill="#222">CD11b<tspan dy="-3" font-size="5">+</tspan><tspan dy="3"> Gr1</tspan><tspan dy="-3" font-size="5">+</tspan></text>
<path d="M131.20,600.00 L131.20,598.70 L144.00,598.70 L144.00,600.00" fill="none" stroke="#222" stroke-width="0.8"/>
<text x="137.60" y="598.10" font-size="5.4" text-anchor="middle" font-weight="bold" font-style="normal" fill="#222" >***</text>
<path d="M153.30,595.10 L153.30,593.80 L165.80,593.80 L165.80,595.10" fill="none" stroke="#222" stroke-width="0.8"/>
<text x="159.55" y="593.20" font-size="5.4" text-anchor="middle" font-weight="bold" font-style="normal" fill="#222" >*</text>
<text class="s" transform="translate(106.80,612.50) rotate(-90) scale(1.0,1)" font-size="6.8" text-anchor="middle" font-style="normal" font-weight="normal" fill="#222">Cell number (10<tspan dy="-2.2" font-size="4.4">6</tspan><tspan dy="2.2">)</tspan></text>
<rect x="211.90" y="622.25" width="7.30" height="15.15" fill="#4b5165" />
<rect x="211.90" y="621.56" width="7.30" height="0.69" fill="#69a93b" />
<line x1="215.55" y1="620.65" x2="215.55" y2="622.25" stroke="#111" stroke-width="0.9" />
<line x1="213.55" y1="620.65" x2="217.55" y2="620.65" stroke="#111" stroke-width="1.1" />
<rect x="223.00" y="634.19" width="7.60" height="3.21" fill="#4b5165" />
<rect x="223.00" y="609.86" width="7.60" height="24.33" fill="#69a93b" />
<line x1="226.80" y1="600.68" x2="226.80" y2="609.86" stroke="#111" stroke-width="0.9" />
<line x1="224.80" y1="600.68" x2="228.80" y2="600.68" stroke="#111" stroke-width="1.1" />
<line x1="226.80" y1="633.50" x2="226.80" y2="634.19" stroke="#111" stroke-width="0.9" />
<line x1="224.80" y1="633.50" x2="228.80" y2="633.50" stroke="#111" stroke-width="1.1" />
<rect x="234.40" y="618.12" width="7.30" height="19.28" fill="#4b5165" />
<line x1="238.05" y1="615.37" x2="238.05" y2="618.12" stroke="#111" stroke-width="0.9" />
<line x1="236.05" y1="615.37" x2="240.05" y2="615.37" stroke="#111" stroke-width="1.1" />
<rect x="245.60" y="630.06" width="7.70" height="7.34" fill="#4b5165" />
<rect x="245.60" y="603.89" width="7.70" height="26.16" fill="#69a93b" />
<line x1="249.45" y1="597.93" x2="249.45" y2="603.89" stroke="#111" stroke-width="0.9" />
<line x1="247.45" y1="597.93" x2="251.45" y2="597.93" stroke="#111" stroke-width="1.1" />
<line x1="249.45" y1="625.47" x2="249.45" y2="630.06" stroke="#111" stroke-width="0.9" />
<line x1="247.45" y1="625.47" x2="251.45" y2="625.47" stroke="#111" stroke-width="1.1" />
<line x1="210.00" y1="590.00" x2="210.00" y2="637.40" stroke="#222" stroke-width="0.9" />
<line x1="210.00" y1="637.40" x2="254.60" y2="637.40" stroke="#222" stroke-width="0.9" />
<line x1="207.80" y1="637.40" x2="210.00" y2="637.40" stroke="#222" stroke-width="0.7" />
<text class="s" x="206.80" y="639.50" font-size="5.9" text-anchor="end" font-weight="normal" font-style="normal" fill="#222" >0</text>
<line x1="207.80" y1="628.22" x2="210.00" y2="628.22" stroke="#222" stroke-width="0.7" />
<text class="s" x="206.80" y="630.32" font-size="5.9" text-anchor="end" font-weight="normal" font-style="normal" fill="#222" >2</text>
<line x1="207.80" y1="619.04" x2="210.00" y2="619.04" stroke="#222" stroke-width="0.7" />
<text class="s" x="206.80" y="621.14" font-size="5.9" text-anchor="end" font-weight="normal" font-style="normal" fill="#222" >4</text>
<line x1="207.80" y1="609.86" x2="210.00" y2="609.86" stroke="#222" stroke-width="0.7" />
<text class="s" x="206.80" y="611.96" font-size="5.9" text-anchor="end" font-weight="normal" font-style="normal" fill="#222" >6</text>
<line x1="207.80" y1="600.68" x2="210.00" y2="600.68" stroke="#222" stroke-width="0.7" />
<text class="s" x="206.80" y="602.78" font-size="5.9" text-anchor="end" font-weight="normal" font-style="normal" fill="#222" >8</text>
<line x1="207.80" y1="591.50" x2="210.00" y2="591.50" stroke="#222" stroke-width="0.7" />
<text class="s" x="206.80" y="593.60" font-size="5.9" text-anchor="end" font-weight="normal" font-style="normal" fill="#222" >10</text>
<line x1="215.55" y1="637.40" x2="215.55" y2="639.40" stroke="#222" stroke-width="0.7" />
<line x1="226.80" y1="637.40" x2="226.80" y2="639.40" stroke="#222" stroke-width="0.7" />
<line x1="238.05" y1="637.40" x2="238.05" y2="639.40" stroke="#222" stroke-width="0.7" />
<line x1="249.45" y1="637.40" x2="249.45" y2="639.40" stroke="#222" stroke-width="0.7" />
<text x="230.90" y="582.8" font-size="8.4" text-anchor="middle" fill="#222">CD71<tspan dy="-3" font-size="5">+</tspan><tspan dy="3"> Ter119</tspan><tspan dy="-3" font-size="5">+</tspan></text>
<path d="M215.20,598.00 L215.20,596.70 L226.30,596.70 L226.30,598.00" fill="none" stroke="#222" stroke-width="0.8"/>
<text x="220.75" y="596.10" font-size="5.4" text-anchor="middle" font-weight="bold" font-style="normal" fill="#222" >*</text>
<path d="M237.30,598.00 L237.30,596.70 L250.40,596.70 L250.40,598.00" fill="none" stroke="#222" stroke-width="0.8"/>
<text x="243.85" y="596.10" font-size="5.4" text-anchor="middle" font-weight="bold" font-style="normal" fill="#222" >*</text>
<text class="s" transform="translate(190.20,612.50) rotate(-90) scale(1.0,1)" font-size="6.8" text-anchor="middle" font-style="normal" font-weight="normal" fill="#222">Cell number (10<tspan dy="-2.2" font-size="4.4">6</tspan><tspan dy="2.2">)</tspan></text>
<text class="s" x="51.10" y="648.70" font-size="6.1" text-anchor="middle" font-weight="normal" font-style="italic" fill="#222" >Ctrl</text>
<text class="s" x="62.00" y="648.70" font-size="6.1" text-anchor="middle" font-weight="normal" font-style="italic" fill="#222" >SKI</text>
<text class="s" x="73.70" y="648.70" font-size="6.1" text-anchor="middle" font-weight="normal" font-style="italic" fill="#222" >Ctrl</text>
<text class="s" x="85.30" y="648.70" font-size="6.1" text-anchor="middle" font-weight="normal" font-style="italic" fill="#222" >SKI</text>
<text class="s" x="131.40" y="648.70" font-size="6.1" text-anchor="middle" font-weight="normal" font-style="italic" fill="#222" >Ctrl</text>
<text class="s" x="142.60" y="648.70" font-size="6.1" text-anchor="middle" font-weight="normal" font-style="italic" fill="#222" >SKI</text>
<text class="s" x="153.60" y="648.70" font-size="6.1" text-anchor="middle" font-weight="normal" font-style="italic" fill="#222" >Ctrl</text>
<text class="s" x="164.80" y="648.70" font-size="6.1" text-anchor="middle" font-weight="normal" font-style="italic" fill="#222" >SKI</text>
<text class="s" x="215.60" y="648.70" font-size="6.1" text-anchor="middle" font-weight="normal" font-style="italic" fill="#222" >Ctrl</text>
<text class="s" x="226.80" y="648.70" font-size="6.1" text-anchor="middle" font-weight="normal" font-style="italic" fill="#222" >SKI</text>
<text class="s" x="238.00" y="648.70" font-size="6.1" text-anchor="middle" font-weight="normal" font-style="italic" fill="#222" >Ctrl</text>
<text class="s" x="249.40" y="648.70" font-size="6.1" text-anchor="middle" font-weight="normal" font-style="italic" fill="#222" >SKI</text>
<line x1="47.00" y1="653.40" x2="66.30" y2="653.40" stroke="#222" stroke-width="0.9" />
<line x1="70.20" y1="653.40" x2="88.80" y2="653.40" stroke="#222" stroke-width="0.9" />
<line x1="127.70" y1="653.40" x2="145.40" y2="653.40" stroke="#222" stroke-width="0.9" />
<line x1="149.80" y1="653.40" x2="167.10" y2="653.40" stroke="#222" stroke-width="0.9" />
<line x1="212.00" y1="653.40" x2="230.60" y2="653.40" stroke="#222" stroke-width="0.9" />
<line x1="234.00" y1="653.40" x2="252.30" y2="653.40" stroke="#222" stroke-width="0.9" />
<text class="s" x="55.80" y="661.80" font-size="6.1" text-anchor="middle" font-weight="normal" font-style="normal" fill="#222" >HSC</text>
<text class="s" x="79.20" y="661.80" font-size="6.1" text-anchor="middle" font-weight="normal" font-style="normal" fill="#222" >MEP</text>
<text class="s" x="136.30" y="661.80" font-size="6.1" text-anchor="middle" font-weight="normal" font-style="normal" fill="#222" >HSC</text>
<text class="s" x="158.50" y="661.80" font-size="6.1" text-anchor="middle" font-weight="normal" font-style="normal" fill="#222" >MEP</text>
<text class="s" x="220.60" y="661.80" font-size="6.1" text-anchor="middle" font-weight="normal" font-style="normal" fill="#222" >HSC</text>
<text class="s" x="243.70" y="661.80" font-size="6.1" text-anchor="middle" font-weight="normal" font-style="normal" fill="#222" >MEP</text>
<rect x="263.80" y="593.80" width="8.70" height="4.90" fill="#69a93b" />
<rect x="263.80" y="602.60" width="8.70" height="4.90" fill="#4b5165" />
<text x="275.00" y="598.40" font-size="5.6" text-anchor="start" font-weight="normal" font-style="normal" fill="#222" >GFP+</text>
<text x="275.00" y="607.20" font-size="5.6" text-anchor="start" font-weight="normal" font-style="normal" fill="#222" >GFP-</text>
<text class="s" x="271.30" y="16.30" font-size="11.2" text-anchor="start" font-weight="bold" font-style="normal" fill="#000" >F</text>
<rect x="304.20" y="27.30" width="57.10" height="59.30" fill="#fff" stroke="#777" stroke-width="0.55"/>
<text class="s" x="333.50" y="22.40" font-size="7.5" text-anchor="middle" font-weight="normal" font-style="normal" fill="#222" >HSC-<tspan font-style="italic">Ctrl</tspan></text>
<text x="299.00" y="35.50" font-size="5.6" text-anchor="end" font-weight="normal" font-style="normal" fill="#222" >10<tspan dy="-2" font-size="4">5</tspan></text>
<line x1="302.70" y1="33.50" x2="304.20" y2="33.50" stroke="#333" stroke-width="0.45" />
<text x="299.00" y="48.00" font-size="5.6" text-anchor="end" font-weight="normal" font-style="normal" fill="#222" >10<tspan dy="-2" font-size="4">4</tspan></text>
<line x1="302.70" y1="46.00" x2="304.20" y2="46.00" stroke="#333" stroke-width="0.45" />
<text x="299.00" y="61.50" font-size="5.6" text-anchor="end" font-weight="normal" font-style="normal" fill="#222" >10<tspan dy="-2" font-size="4">3</tspan></text>
<line x1="302.70" y1="59.50" x2="304.20" y2="59.50" stroke="#333" stroke-width="0.45" />
<text x="299.00" y="75.60" font-size="5.6" text-anchor="end" font-weight="normal" font-style="normal" fill="#222" >10<tspan dy="-2" font-size="4">2</tspan></text>
<line x1="302.70" y1="73.60" x2="304.20" y2="73.60" stroke="#333" stroke-width="0.45" />
<text x="299.00" y="81.20" font-size="5.6" text-anchor="end" font-weight="normal" font-style="normal" fill="#222" >0</text>
<line x1="302.70" y1="79.20" x2="304.20" y2="79.20" stroke="#333" stroke-width="0.45" />
<line x1="303.30" y1="30.30" x2="304.20" y2="30.30" stroke="#333" stroke-width="0.3" />
<line x1="303.30" y1="35.80" x2="304.20" y2="35.80" stroke="#333" stroke-width="0.3" />
<line x1="303.30" y1="41.30" x2="304.20" y2="41.30" stroke="#333" stroke-width="0.3" />
<line x1="303.30" y1="46.80" x2="304.20" y2="46.80" stroke="#333" stroke-width="0.3" />
<line x1="303.30" y1="52.30" x2="304.20" y2="52.30" stroke="#333" stroke-width="0.3" />
<line x1="303.30" y1="57.80" x2="304.20" y2="57.80" stroke="#333" stroke-width="0.3" />
<line x1="303.30" y1="63.30" x2="304.20" y2="63.30" stroke="#333" stroke-width="0.3" />
<line x1="303.30" y1="68.80" x2="304.20" y2="68.80" stroke="#333" stroke-width="0.3" />
<line x1="303.30" y1="74.30" x2="304.20" y2="74.30" stroke="#333" stroke-width="0.3" />
<line x1="303.30" y1="79.80" x2="304.20" y2="79.80" stroke="#333" stroke-width="0.3" />
<line x1="305.20" y1="86.60" x2="305.20" y2="88.00" stroke="#333" stroke-width="0.45" />
<text transform="translate(306.70,90.00) rotate(-45)" font-size="5.2" text-anchor="end" fill="#333">0</text>
<line x1="315.80" y1="86.60" x2="315.80" y2="88.00" stroke="#333" stroke-width="0.45" />
<text transform="translate(317.30,90.00) rotate(-45)" font-size="5.2" text-anchor="end" fill="#333">50K</text>
<line x1="326.40" y1="86.60" x2="326.40" y2="88.00" stroke="#333" stroke-width="0.45" />
<text transform="translate(327.90,90.00) rotate(-45)" font-size="5.2" text-anchor="end" fill="#333">100K</text>
<line x1="337.00" y1="86.60" x2="337.00" y2="88.00" stroke="#333" stroke-width="0.45" />
<text transform="translate(338.50,90.00) rotate(-45)" font-size="5.2" text-anchor="end" fill="#333">150K</text>
<line x1="347.60" y1="86.60" x2="347.60" y2="88.00" stroke="#333" stroke-width="0.45" />
<text transform="translate(349.10,90.00) rotate(-45)" font-size="5.2" text-anchor="end" fill="#333">200K</text>
<line x1="358.20" y1="86.60" x2="358.20" y2="88.00" stroke="#333" stroke-width="0.45" />
<text transform="translate(359.70,90.00) rotate(-45)" font-size="5.2" text-anchor="end" fill="#333">250K</text>
<line x1="305.20" y1="86.60" x2="305.20" y2="87.40" stroke="#333" stroke-width="0.25" />
<line x1="307.85" y1="86.60" x2="307.85" y2="87.40" stroke="#333" stroke-width="0.25" />
<line x1="310.50" y1="86.60" x2="310.50" y2="87.40" stroke="#333" stroke-width="0.25" />
<line x1="313.15" y1="86.60" x2="313.15" y2="87.40" stroke="#333" stroke-width="0.25" />
<line x1="315.80" y1="86.60" x2="315.80" y2="87.40" stroke="#333" stroke-width="0.25" />
<line x1="318.45" y1="86.60" x2="318.45" y2="87.40" stroke="#333" stroke-width="0.25" />
<line x1="321.10" y1="86.60" x2="321.10" y2="87.40" stroke="#333" stroke-width="0.25" />
<line x1="323.75" y1="86.60" x2="323.75" y2="87.40" stroke="#333" stroke-width="0.25" />
<line x1="326.40" y1="86.60" x2="326.40" y2="87.40" stroke="#333" stroke-width="0.25" />
<line x1="329.05" y1="86.60" x2="329.05" y2="87.40" stroke="#333" stroke-width="0.25" />
<line x1="331.70" y1="86.60" x2="331.70" y2="87.40" stroke="#333" stroke-width="0.25" />
<line x1="334.35" y1="86.60" x2="334.35" y2="87.40" stroke="#333" stroke-width="0.25" />
<line x1="337.00" y1="86.60" x2="337.00" y2="87.40" stroke="#333" stroke-width="0.25" />
<line x1="339.65" y1="86.60" x2="339.65" y2="87.40" stroke="#333" stroke-width="0.25" />
<line x1="342.30" y1="86.60" x2="342.30" y2="87.40" stroke="#333" stroke-width="0.25" />
<line x1="344.95" y1="86.60" x2="344.95" y2="87.40" stroke="#333" stroke-width="0.25" />
<line x1="347.60" y1="86.60" x2="347.60" y2="87.40" stroke="#333" stroke-width="0.25" />
<line x1="350.25" y1="86.60" x2="350.25" y2="87.40" stroke="#333" stroke-width="0.25" />
<line x1="352.90" y1="86.60" x2="352.90" y2="87.40" stroke="#333" stroke-width="0.25" />
<line x1="355.55" y1="86.60" x2="355.55" y2="87.40" stroke="#333" stroke-width="0.25" />
<line x1="358.20" y1="86.60" x2="358.20" y2="87.40" stroke="#333" stroke-width="0.25" />
<line x1="360.85" y1="86.60" x2="360.85" y2="87.40" stroke="#333" stroke-width="0.25" />
<clipPath id="fcp1"><rect x="304.2" y="27.3" width="57.10000000000002" height="59.3"/></clipPath><g clip-path="url(#fcp1)">
<rect x="312.8" y="60" width="11.8" height="27" fill="#555" opacity="0.35" filter="url(#b1)"/>
<path d="M318.6,40 L318.6,62" stroke="#777" stroke-width="7" opacity="0.35" filter="url(#b1)"/>
<rect x="314" y="38" width="10" height="25" fill="url(#gup)" filter="url(#b05)"/>
<rect x="313.8" y="62.5" width="10" height="24" fill="#111" opacity="0.88"/>
<clipPath id="fb1"><rect x="313.8" y="62.5" width="10" height="24"/></clipPath>
<rect x="313.8" y="62.5" width="10" height="24" filter="url(#swhite)" opacity="0.55" clip-path="url(#fb1)"/>
<rect x="318.4" y="63" width="0.8" height="23" fill="#aaa"/>
<ellipse cx="320.00" cy="50.00" rx="6.00" ry="6.50" fill="none" stroke="#666" stroke-width="0.35"/>
<ellipse cx="321.60" cy="48.50" rx="5.20" ry="5.80" fill="none" stroke="#666" stroke-width="0.35"/>
<ellipse cx="323.20" cy="47.00" rx="4.40" ry="5.10" fill="none" stroke="#666" stroke-width="0.35"/>
<ellipse cx="324.80" cy="45.50" rx="3.60" ry="4.40" fill="none" stroke="#666" stroke-width="0.35"/>
<ellipse cx="326.40" cy="44.00" rx="2.80" ry="3.70" fill="none" stroke="#666" stroke-width="0.35"/>
<ellipse cx="326" cy="47" rx="3.5" ry="5" fill="#888" opacity="0.3" filter="url(#b1)"/>
<ellipse cx="333" cy="42" rx="3.5" ry="5" fill="none" stroke="#888" stroke-width="0.35"/>
<ellipse cx="334" cy="41" rx="2" ry="3" fill="none" stroke="#999" stroke-width="0.35"/>
<ellipse cx="345" cy="36" rx="1.5" ry="1.2" fill="none" stroke="#999" stroke-width="0.35"/>
</g>
<path d="M314,60 C313,50 313,40 316,37 L321,36 C323,40 323,50 322.5,60 Z" fill="none" stroke="#333" stroke-width="0.45"/>
<path d="M322.5,57 C321,48 321,40 324,36 L327,34.5 C330,36 331,45 330.5,52 C329,58 325,59 322.5,57 Z" fill="none" stroke="#333" stroke-width="0.45"/>
<path d="M330.5,51 C329.5,45 330,37 332.5,34 L336,33.5 C338,38 338,46 336.5,50 Z" fill="none" stroke="#333" stroke-width="0.45"/>
<path d="M337,47 C336.5,40 338,33 341,31.5 L354,30.5 C357,31 358,36 357,40 C355,45 348,48 340,49 Z" fill="none" stroke="#333" stroke-width="0.45"/>
<path d="M322.8,86 L322.8,66 C325,64 328,64 329.5,66 C330.5,72 330.5,80 329.5,86 Z" fill="none" stroke="#333" stroke-width="0.45"/>
<text x="310.70" y="49.50" font-size="4.7" text-anchor="middle" font-weight="normal" font-style="normal" fill="#222" >14</text>
<text x="325.70" y="36.30" font-size="4.7" text-anchor="middle" font-weight="normal" font-style="normal" fill="#222" >7.1</text>
<text x="333.40" y="33.40" font-size="4.7" text-anchor="middle" font-weight="normal" font-style="normal" fill="#222" >3.2</text>
<text x="355.00" y="36.30" font-size="4.7" text-anchor="middle" font-weight="normal" font-style="normal" fill="#222" >1.2</text>
<text x="352.20" y="52.40" font-size="4.7" text-anchor="middle" font-weight="normal" font-style="italic" fill="#222" >V</text>
<text x="338.90" y="58.20" font-size="4.7" text-anchor="middle" font-weight="normal" font-style="italic" fill="#222" >IV</text>
<text x="331.80" y="62.00" font-size="4.7" text-anchor="middle" font-weight="normal" font-style="italic" fill="#222" >III</text>
<text x="327.60" y="66.80" font-size="4.7" text-anchor="middle" font-weight="normal" font-style="italic" fill="#222" >II</text>
<text x="331.40" y="78.40" font-size="4.7" text-anchor="middle" font-weight="normal" font-style="italic" fill="#222" >I</text>
<text x="308.90" y="80.10" font-size="4.7" text-anchor="middle" font-weight="normal" font-style="normal" fill="#222" >71</text>
<rect x="379.70" y="27.30" width="57.60" height="58.20" fill="#fff" stroke="#777" stroke-width="0.55"/>
<text class="s" x="408.90" y="22.40" font-size="7.5" text-anchor="middle" font-weight="normal" font-style="normal" fill="#222" >HSC-<tspan font-style="italic">SKI</tspan></text>
<text x="374.50" y="35.50" font-size="5.6" text-anchor="end" font-weight="normal" font-style="normal" fill="#222" >10<tspan dy="-2" font-size="4">5</tspan></text>
<line x1="378.20" y1="33.50" x2="379.70" y2="33.50" stroke="#333" stroke-width="0.45" />
<text x="374.50" y="48.00" font-size="5.6" text-anchor="end" font-weight="normal" font-style="normal" fill="#222" >10<tspan dy="-2" font-size="4">4</tspan></text>
<line x1="378.20" y1="46.00" x2="379.70" y2="46.00" stroke="#333" stroke-width="0.45" />
<text x="374.50" y="61.50" font-size="5.6" text-anchor="end" font-weight="normal" font-style="normal" fill="#222" >10<tspan dy="-2" font-size="4">3</tspan></text>
<line x1="378.20" y1="59.50" x2="379.70" y2="59.50" stroke="#333" stroke-width="0.45" />
<text x="374.50" y="75.60" font-size="5.6" text-anchor="end" font-weight="normal" font-style="normal" fill="#222" >10<tspan dy="-2" font-size="4">2</tspan></text>
<line x1="378.20" y1="73.60" x2="379.70" y2="73.60" stroke="#333" stroke-width="0.45" />
<text x="374.50" y="81.20" font-size="5.6" text-anchor="end" font-weight="normal" font-style="normal" fill="#222" >0</text>
<line x1="378.20" y1="79.20" x2="379.70" y2="79.20" stroke="#333" stroke-width="0.45" />
<line x1="378.80" y1="30.30" x2="379.70" y2="30.30" stroke="#333" stroke-width="0.3" />
<line x1="378.80" y1="35.80" x2="379.70" y2="35.80" stroke="#333" stroke-width="0.3" />
<line x1="378.80" y1="41.30" x2="379.70" y2="41.30" stroke="#333" stroke-width="0.3" />
<line x1="378.80" y1="46.80" x2="379.70" y2="46.80" stroke="#333" stroke-width="0.3" />
<line x1="378.80" y1="52.30" x2="379.70" y2="52.30" stroke="#333" stroke-width="0.3" />
<line x1="378.80" y1="57.80" x2="379.70" y2="57.80" stroke="#333" stroke-width="0.3" />
<line x1="378.80" y1="63.30" x2="379.70" y2="63.30" stroke="#333" stroke-width="0.3" />
<line x1="378.80" y1="68.80" x2="379.70" y2="68.80" stroke="#333" stroke-width="0.3" />
<line x1="378.80" y1="74.30" x2="379.70" y2="74.30" stroke="#333" stroke-width="0.3" />
<line x1="378.80" y1="79.80" x2="379.70" y2="79.80" stroke="#333" stroke-width="0.3" />
<line x1="380.70" y1="85.50" x2="380.70" y2="86.90" stroke="#333" stroke-width="0.45" />
<text transform="translate(382.20,88.90) rotate(-45)" font-size="5.2" text-anchor="end" fill="#333">0</text>
<line x1="391.30" y1="85.50" x2="391.30" y2="86.90" stroke="#333" stroke-width="0.45" />
<text transform="translate(392.80,88.90) rotate(-45)" font-size="5.2" text-anchor="end" fill="#333">50K</text>
<line x1="401.90" y1="85.50" x2="401.90" y2="86.90" stroke="#333" stroke-width="0.45" />
<text transform="translate(403.40,88.90) rotate(-45)" font-size="5.2" text-anchor="end" fill="#333">100K</text>
<line x1="412.50" y1="85.50" x2="412.50" y2="86.90" stroke="#333" stroke-width="0.45" />
<text transform="translate(414.00,88.90) rotate(-45)" font-size="5.2" text-anchor="end" fill="#333">150K</text>
<line x1="423.10" y1="85.50" x2="423.10" y2="86.90" stroke="#333" stroke-width="0.45" />
<text transform="translate(424.60,88.90) rotate(-45)" font-size="5.2" text-anchor="end" fill="#333">200K</text>
<line x1="433.70" y1="85.50" x2="433.70" y2="86.90" stroke="#333" stroke-width="0.45" />
<text transform="translate(435.20,88.90) rotate(-45)" font-size="5.2" text-anchor="end" fill="#333">250K</text>
<line x1="380.70" y1="85.50" x2="380.70" y2="86.30" stroke="#333" stroke-width="0.25" />
<line x1="383.35" y1="85.50" x2="383.35" y2="86.30" stroke="#333" stroke-width="0.25" />
<line x1="386.00" y1="85.50" x2="386.00" y2="86.30" stroke="#333" stroke-width="0.25" />
<line x1="388.65" y1="85.50" x2="388.65" y2="86.30" stroke="#333" stroke-width="0.25" />
<line x1="391.30" y1="85.50" x2="391.30" y2="86.30" stroke="#333" stroke-width="0.25" />
<line x1="393.95" y1="85.50" x2="393.95" y2="86.30" stroke="#333" stroke-width="0.25" />
<line x1="396.60" y1="85.50" x2="396.60" y2="86.30" stroke="#333" stroke-width="0.25" />
<line x1="399.25" y1="85.50" x2="399.25" y2="86.30" stroke="#333" stroke-width="0.25" />
<line x1="401.90" y1="85.50" x2="401.90" y2="86.30" stroke="#333" stroke-width="0.25" />
<line x1="404.55" y1="85.50" x2="404.55" y2="86.30" stroke="#333" stroke-width="0.25" />
<line x1="407.20" y1="85.50" x2="407.20" y2="86.30" stroke="#333" stroke-width="0.25" />
<line x1="409.85" y1="85.50" x2="409.85" y2="86.30" stroke="#333" stroke-width="0.25" />
<line x1="412.50" y1="85.50" x2="412.50" y2="86.30" stroke="#333" stroke-width="0.25" />
<line x1="415.15" y1="85.50" x2="415.15" y2="86.30" stroke="#333" stroke-width="0.25" />
<line x1="417.80" y1="85.50" x2="417.80" y2="86.30" stroke="#333" stroke-width="0.25" />
<line x1="420.45" y1="85.50" x2="420.45" y2="86.30" stroke="#333" stroke-width="0.25" />
<line x1="423.10" y1="85.50" x2="423.10" y2="86.30" stroke="#333" stroke-width="0.25" />
<line x1="425.75" y1="85.50" x2="425.75" y2="86.30" stroke="#333" stroke-width="0.25" />
<line x1="428.40" y1="85.50" x2="428.40" y2="86.30" stroke="#333" stroke-width="0.25" />
<line x1="431.05" y1="85.50" x2="431.05" y2="86.30" stroke="#333" stroke-width="0.25" />
<line x1="433.70" y1="85.50" x2="433.70" y2="86.30" stroke="#333" stroke-width="0.25" />
<line x1="436.35" y1="85.50" x2="436.35" y2="86.30" stroke="#333" stroke-width="0.25" />
<clipPath id="fcp2"><rect x="379.7" y="27.3" width="57.60000000000002" height="58.2"/></clipPath><g clip-path="url(#fcp2)">
<path d="M392.5,87 L392.5,60 C392.5,54 396,50 402,48" fill="none" stroke="#666" stroke-width="9" opacity="0.35" filter="url(#b1)"/>
<path d="M392.6,87 L392.6,60 C392.6,54 396,50 402,48" fill="none" stroke="#111" stroke-width="5.6" opacity="0.88"/>
<clipPath id="fb2"><path d="M389.8,87 L389.8,60 C389.8,52 395,47.5 402,45.2 L402,50.8 C397.5,52.5 395.4,55 395.4,60 L395.4,87 Z"/></clipPath>
<rect x="388" y="44" width="16" height="44" filter="url(#swhite)" opacity="0.45" clip-path="url(#fb2)"/>
<path d="M392.4,85 L392.4,60 C392.6,56 394,54 396,52.5" fill="none" stroke="#ccc" stroke-width="0.8" opacity="0.9"/>
<ellipse cx="402.5" cy="48.5" rx="4.2" ry="5.2" fill="#000" filter="url(#b05)"/>
<ellipse cx="402.8" cy="48.2" rx="1.2" ry="1.8" fill="#ccc" opacity="0.8"/>
<rect x="389.5" y="83.6" width="7.5" height="2.4" fill="#000"/>
<ellipse cx="405.00" cy="46.00" rx="7.00" ry="6.00" fill="none" stroke="#555" stroke-width="0.35"/>
<ellipse cx="406.80" cy="45.00" rx="6.00" ry="5.20" fill="none" stroke="#555" stroke-width="0.35"/>
<ellipse cx="408.60" cy="44.00" rx="5.00" ry="4.40" fill="none" stroke="#555" stroke-width="0.35"/>
<ellipse cx="410.40" cy="43.00" rx="4.00" ry="3.60" fill="none" stroke="#555" stroke-width="0.35"/>
<ellipse cx="412.20" cy="42.00" rx="3.00" ry="2.80" fill="none" stroke="#555" stroke-width="0.35"/>
<ellipse cx="405" cy="47" rx="7" ry="7" fill="#666" opacity="0.35" filter="url(#b1)"/>
<ellipse cx="413" cy="42" rx="4" ry="6" fill="#999" opacity="0.35" filter="url(#b1)"/>
<ellipse cx="418" cy="38" rx="3" ry="2.5" fill="none" stroke="#888" stroke-width="0.35"/>
<ellipse cx="424" cy="38" rx="5" ry="3" fill="none" stroke="#aaa" stroke-width="0.35"/>
</g>
<path d="M390.5,84 L391,45 C391.5,40 393,38 396,37.5 C399,38 399.5,42 399,48 C398.5,58 399,70 399,84" fill="none" stroke="#333" stroke-width="0.45"/>
<path d="M399,52 C398,45 399,40 402,38.5 L405,38 C407,42 407.5,50 406,55 C404,57 400,57 399,52 Z" fill="none" stroke="#333" stroke-width="0.45"/>
<path d="M407,50 C406,43 407,38 409,36 L412,35.5 C414.5,38 415,45 414,52 C412,55 408,55 407,50 Z" fill="none" stroke="#333" stroke-width="0.45"/>
<path d="M414,48 C413.5,42 414,36 417,33.5 L428,32.5 C432,33 433.5,36 433,40 C431.5,46 424,50 416,51 Z" fill="none" stroke="#333" stroke-width="0.45"/>
<path d="M399.5,85 L399.5,66 C402,64 404,65 405,68 C406,74 405.5,80 404.5,85" fill="none" stroke="#333" stroke-width="0.45"/>
<text x="401.50" y="35.50" font-size="4.4" text-anchor="middle" font-weight="normal" font-style="normal" fill="#222" >19</text>
<text x="410.50" y="33.50" font-size="4.4" text-anchor="middle" font-weight="normal" font-style="normal" fill="#222" >7</text>
<text x="431.00" y="35.50" font-size="4.4" text-anchor="middle" font-weight="normal" font-style="normal" fill="#222" >6.1</text>
<text x="386.00" y="50.00" font-size="4.4" text-anchor="middle" font-weight="normal" font-style="normal" fill="#222" >31</text>
<text x="384.50" y="81.50" font-size="4.4" text-anchor="middle" font-weight="normal" font-style="normal" fill="#222" >33</text>
<rect x="455.60" y="27.30" width="57.80" height="58.20" fill="#fff" stroke="#777" stroke-width="0.55"/>
<text class="s" x="484.50" y="22.40" font-size="7.5" text-anchor="middle" font-weight="normal" font-style="normal" fill="#222" >MEP-<tspan font-style="italic">SKI</tspan></text>
<text x="450.40" y="35.50" font-size="5.6" text-anchor="end" font-weight="normal" font-style="normal" fill="#222" >10<tspan dy="-2" font-size="4">5</tspan></text>
<line x1="454.10" y1="33.50" x2="455.60" y2="33.50" stroke="#333" stroke-width="0.45" />
<text x="450.40" y="48.00" font-size="5.6" text-anchor="end" font-weight="normal" font-style="normal" fill="#222" >10<tspan dy="-2" font-size="4">4</tspan></text>
<line x1="454.10" y1="46.00" x2="455.60" y2="46.00" stroke="#333" stroke-width="0.45" />
<text x="450.40" y="61.50" font-size="5.6" text-anchor="end" font-weight="normal" font-style="normal" fill="#222" >10<tspan dy="-2" font-size="4">3</tspan></text>
<line x1="454.10" y1="59.50" x2="455.60" y2="59.50" stroke="#333" stroke-width="0.45" />
<text x="450.40" y="75.60" font-size="5.6" text-anchor="end" font-weight="normal" font-style="normal" fill="#222" >10<tspan dy="-2" font-size="4">2</tspan></text>
<line x1="454.10" y1="73.60" x2="455.60" y2="73.60" stroke="#333" stroke-width="0.45" />
<text x="450.40" y="81.20" font-size="5.6" text-anchor="end" font-weight="normal" font-style="normal" fill="#222" >0</text>
<line x1="454.10" y1="79.20" x2="455.60" y2="79.20" stroke="#333" stroke-width="0.45" />
<line x1="454.70" y1="30.30" x2="455.60" y2="30.30" stroke="#333" stroke-width="0.3" />
<line x1="454.70" y1="35.80" x2="455.60" y2="35.80" stroke="#333" stroke-width="0.3" />
<line x1="454.70" y1="41.30" x2="455.60" y2="41.30" stroke="#333" stroke-width="0.3" />
<line x1="454.70" y1="46.80" x2="455.60" y2="46.80" stroke="#333" stroke-width="0.3" />
<line x1="454.70" y1="52.30" x2="455.60" y2="52.30" stroke="#333" stroke-width="0.3" />
<line x1="454.70" y1="57.80" x2="455.60" y2="57.80" stroke="#333" stroke-width="0.3" />
<line x1="454.70" y1="63.30" x2="455.60" y2="63.30" stroke="#333" stroke-width="0.3" />
<line x1="454.70" y1="68.80" x2="455.60" y2="68.80" stroke="#333" stroke-width="0.3" />
<line x1="454.70" y1="74.30" x2="455.60" y2="74.30" stroke="#333" stroke-width="0.3" />
<line x1="454.70" y1="79.80" x2="455.60" y2="79.80" stroke="#333" stroke-width="0.3" />
<line x1="456.60" y1="85.50" x2="456.60" y2="86.90" stroke="#333" stroke-width="0.45" />
<text transform="translate(458.10,88.90) rotate(-45)" font-size="5.2" text-anchor="end" fill="#333">0</text>
<line x1="467.20" y1="85.50" x2="467.20" y2="86.90" stroke="#333" stroke-width="0.45" />
<text transform="translate(468.70,88.90) rotate(-45)" font-size="5.2" text-anchor="end" fill="#333">50K</text>
<line x1="477.80" y1="85.50" x2="477.80" y2="86.90" stroke="#333" stroke-width="0.45" />
<text transform="translate(479.30,88.90) rotate(-45)" font-size="5.2" text-anchor="end" fill="#333">100K</text>
<line x1="488.40" y1="85.50" x2="488.40" y2="86.90" stroke="#333" stroke-width="0.45" />
<text transform="translate(489.90,88.90) rotate(-45)" font-size="5.2" text-anchor="end" fill="#333">150K</text>
<line x1="499.00" y1="85.50" x2="499.00" y2="86.90" stroke="#333" stroke-width="0.45" />
<text transform="translate(500.50,88.90) rotate(-45)" font-size="5.2" text-anchor="end" fill="#333">200K</text>
<line x1="509.60" y1="85.50" x2="509.60" y2="86.90" stroke="#333" stroke-width="0.45" />
<text transform="translate(511.10,88.90) rotate(-45)" font-size="5.2" text-anchor="end" fill="#333">250K</text>
<line x1="456.60" y1="85.50" x2="456.60" y2="86.30" stroke="#333" stroke-width="0.25" />
<line x1="459.25" y1="85.50" x2="459.25" y2="86.30" stroke="#333" stroke-width="0.25" />
<line x1="461.90" y1="85.50" x2="461.90" y2="86.30" stroke="#333" stroke-width="0.25" />
<line x1="464.55" y1="85.50" x2="464.55" y2="86.30" stroke="#333" stroke-width="0.25" />
<line x1="467.20" y1="85.50" x2="467.20" y2="86.30" stroke="#333" stroke-width="0.25" />
<line x1="469.85" y1="85.50" x2="469.85" y2="86.30" stroke="#333" stroke-width="0.25" />
<line x1="472.50" y1="85.50" x2="472.50" y2="86.30" stroke="#333" stroke-width="0.25" />
<line x1="475.15" y1="85.50" x2="475.15" y2="86.30" stroke="#333" stroke-width="0.25" />
<line x1="477.80" y1="85.50" x2="477.80" y2="86.30" stroke="#333" stroke-width="0.25" />
<line x1="480.45" y1="85.50" x2="480.45" y2="86.30" stroke="#333" stroke-width="0.25" />
<line x1="483.10" y1="85.50" x2="483.10" y2="86.30" stroke="#333" stroke-width="0.25" />
<line x1="485.75" y1="85.50" x2="485.75" y2="86.30" stroke="#333" stroke-width="0.25" />
<line x1="488.40" y1="85.50" x2="488.40" y2="86.30" stroke="#333" stroke-width="0.25" />
<line x1="491.05" y1="85.50" x2="491.05" y2="86.30" stroke="#333" stroke-width="0.25" />
<line x1="493.70" y1="85.50" x2="493.70" y2="86.30" stroke="#333" stroke-width="0.25" />
<line x1="496.35" y1="85.50" x2="496.35" y2="86.30" stroke="#333" stroke-width="0.25" />
<line x1="499.00" y1="85.50" x2="499.00" y2="86.30" stroke="#333" stroke-width="0.25" />
<line x1="501.65" y1="85.50" x2="501.65" y2="86.30" stroke="#333" stroke-width="0.25" />
<line x1="504.30" y1="85.50" x2="504.30" y2="86.30" stroke="#333" stroke-width="0.25" />
<line x1="506.95" y1="85.50" x2="506.95" y2="86.30" stroke="#333" stroke-width="0.25" />
<line x1="509.60" y1="85.50" x2="509.60" y2="86.30" stroke="#333" stroke-width="0.25" />
<line x1="512.25" y1="85.50" x2="512.25" y2="86.30" stroke="#333" stroke-width="0.25" />
<clipPath id="fcp3"><rect x="455.6" y="27.3" width="57.799999999999955" height="58.2"/></clipPath><g clip-path="url(#fcp3)">
<rect x="462.5" y="40" width="11.5" height="47" fill="#555" opacity="0.35" filter="url(#b1)"/>
<rect x="464.8" y="42" width="6.8" height="44" fill="#111" opacity="0.9"/>
<clipPath id="fb3"><rect x="464.8" y="42" width="6.8" height="44"/></clipPath>
<rect x="464.8" y="42" width="6.8" height="44" filter="url(#swhite)" opacity="0.45" clip-path="url(#fb3)"/>
<rect x="467.8" y="44" width="0.8" height="41" fill="#ddd"/>
<ellipse cx="476.5" cy="44" rx="4" ry="3.6" fill="#111" opacity="0.8" filter="url(#b05)"/>
<rect x="464.8" y="36" width="6.8" height="7" fill="url(#gup)"/>
<ellipse cx="474" cy="47" rx="4" ry="6" fill="#333" opacity="0.5" filter="url(#b1)"/>
<ellipse cx="478.00" cy="44.00" rx="6.50" ry="5.50" fill="none" stroke="#444" stroke-width="0.35"/>
<ellipse cx="479.50" cy="43.20" rx="5.60" ry="4.70" fill="none" stroke="#444" stroke-width="0.35"/>
<ellipse cx="481.00" cy="42.40" rx="4.70" ry="3.90" fill="none" stroke="#444" stroke-width="0.35"/>
<ellipse cx="482.50" cy="41.60" rx="3.80" ry="3.10" fill="none" stroke="#444" stroke-width="0.35"/>
<ellipse cx="484.00" cy="40.80" rx="2.90" ry="2.30" fill="none" stroke="#444" stroke-width="0.35"/>
<ellipse cx="497.00" cy="36.00" rx="6.00" ry="3.60" fill="none" stroke="#777" stroke-width="0.35"/>
<ellipse cx="497.00" cy="36.00" rx="4.70" ry="2.90" fill="none" stroke="#777" stroke-width="0.35"/>
<ellipse cx="497.00" cy="36.00" rx="3.40" ry="2.20" fill="none" stroke="#777" stroke-width="0.35"/>
<ellipse cx="497.00" cy="36.00" rx="2.10" ry="1.50" fill="none" stroke="#777" stroke-width="0.35"/>
</g>
<path d="M465,84 L465,42 C465.5,38 467,37 469.5,37.5 C472,38 472.5,42 472,50 L472,84" fill="none" stroke="#333" stroke-width="0.45"/>
<path d="M472.5,50 C471.5,44 472.5,39 475,37.5 L479,37 C481,41 481,48 480,52 C478,54 474,54 472.5,50 Z" fill="none" stroke="#333" stroke-width="0.45"/>
<path d="M481,52 C480,44 481,38 483,36 L486,35.5 C488,39 488.5,46 487.5,52 C486,54 482,55 481,52 Z" fill="none" stroke="#333" stroke-width="0.45"/>
<path d="M487.5,45 C487,40 488,35 491,33 L504,31 C508,31.5 509.5,35 509,39 C507.5,44 500,47 492,48 Z" fill="none" stroke="#333" stroke-width="0.45"/>
<path d="M472.5,85 L472.5,66 C475,64 478,64 479.5,67 C480.5,73 480,80 479,85" fill="none" stroke="#333" stroke-width="0.45"/>
<text x="475.80" y="36.00" font-size="4.4" text-anchor="middle" font-weight="normal" font-style="normal" fill="#222" >19</text>
<text x="485.30" y="34.00" font-size="4.4" text-anchor="middle" font-weight="normal" font-style="normal" fill="#222" >8</text>
<text x="503.50" y="33.00" font-size="4.4" text-anchor="middle" font-weight="normal" font-style="normal" fill="#222" >4.1</text>
<text x="461.30" y="50.00" font-size="4.4" text-anchor="middle" font-weight="normal" font-style="normal" fill="#222" >22</text>
<text x="459.00" y="82.00" font-size="4.4" text-anchor="middle" font-weight="normal" font-style="normal" fill="#222" >43</text>
<line x1="281.20" y1="106.80" x2="281.20" y2="82.50" stroke="#111" stroke-width="0.9" />
<polygon points="281.2,79.2 279.4,83.4 283,83.4" fill="#111"/>
<line x1="281.20" y1="106.80" x2="300.00" y2="106.80" stroke="#111" stroke-width="0.9" />
<polygon points="303.6,106.8 299.4,105 299.4,108.6" fill="#111"/>
<text class="s" transform="translate(283.70,67.50) rotate(-90) scale(0.78,1)" font-size="7.2" text-anchor="middle" font-style="normal" font-weight="normal" fill="#222">CD44</text>
<text class="s" transform="translate(307.30,109.60) scale(0.8,1)" font-size="7.0" text-anchor="start" font-weight="normal" font-style="normal" fill="#222" >FSC-A</text>
<rect x="355.20" y="126.95" width="4.20" height="66.15" fill="#c7c7cc" />
<line x1="357.30" y1="124.19" x2="357.30" y2="126.95" stroke="#111" stroke-width="0.6" />
<line x1="356.30" y1="124.19" x2="358.30" y2="124.19" stroke="#111" stroke-width="0.6" />
<rect x="361.30" y="160.94" width="4.20" height="32.16" fill="#2c4a87" />
<line x1="363.40" y1="158.19" x2="363.40" y2="160.94" stroke="#111" stroke-width="0.6" />
<line x1="362.40" y1="158.19" x2="364.40" y2="158.19" stroke="#111" stroke-width="0.6" />
<rect x="367.10" y="156.81" width="4.20" height="36.29" fill="#b0122e" />
<line x1="369.20" y1="155.43" x2="369.20" y2="156.81" stroke="#111" stroke-width="0.6" />
<line x1="368.20" y1="155.43" x2="370.20" y2="155.43" stroke="#111" stroke-width="0.6" />
<text x="366.00" y="153.43" font-size="4.4" text-anchor="middle" font-weight="bold" font-style="normal" fill="#222" >***</text>
<line x1="363.30" y1="193.10" x2="363.30" y2="195.10" stroke="#222" stroke-width="0.7" />
<rect x="377.00" y="179.32" width="4.20" height="13.78" fill="#c7c7cc" />
<line x1="379.10" y1="178.40" x2="379.10" y2="179.32" stroke="#111" stroke-width="0.6" />
<line x1="378.10" y1="178.40" x2="380.10" y2="178.40" stroke="#111" stroke-width="0.6" />
<rect x="383.10" y="166.00" width="4.20" height="27.10" fill="#2c4a87" />
<line x1="385.20" y1="164.16" x2="385.20" y2="166.00" stroke="#111" stroke-width="0.6" />
<line x1="384.20" y1="164.16" x2="386.20" y2="164.16" stroke="#111" stroke-width="0.6" />
<rect x="388.90" y="172.89" width="4.20" height="20.21" fill="#b0122e" />
<line x1="391.00" y1="170.13" x2="391.00" y2="172.89" stroke="#111" stroke-width="0.6" />
<line x1="390.00" y1="170.13" x2="392.00" y2="170.13" stroke="#111" stroke-width="0.6" />
<text x="387.80" y="162.16" font-size="4.4" text-anchor="middle" font-weight="bold" font-style="normal" fill="#222" >***</text>
<line x1="385.10" y1="193.10" x2="385.10" y2="195.10" stroke="#222" stroke-width="0.7" />
<rect x="398.80" y="185.75" width="4.20" height="7.35" fill="#c7c7cc" />
<line x1="400.90" y1="184.83" x2="400.90" y2="185.75" stroke="#111" stroke-width="0.6" />
<line x1="399.90" y1="184.83" x2="401.90" y2="184.83" stroke="#111" stroke-width="0.6" />
<rect x="404.90" y="172.89" width="4.20" height="20.21" fill="#2c4a87" />
<line x1="407.00" y1="171.05" x2="407.00" y2="172.89" stroke="#111" stroke-width="0.6" />
<line x1="406.00" y1="171.05" x2="408.00" y2="171.05" stroke="#111" stroke-width="0.6" />
<rect x="410.70" y="173.35" width="4.20" height="19.75" fill="#b0122e" />
<line x1="412.80" y1="171.05" x2="412.80" y2="173.35" stroke="#111" stroke-width="0.6" />
<line x1="411.80" y1="171.05" x2="413.80" y2="171.05" stroke="#111" stroke-width="0.6" />
<text x="409.60" y="169.05" font-size="4.4" text-anchor="middle" font-weight="bold" font-style="normal" fill="#222" >***</text>
<line x1="406.90" y1="193.10" x2="406.90" y2="195.10" stroke="#222" stroke-width="0.7" />
<rect x="420.60" y="191.26" width="4.20" height="1.84" fill="#c7c7cc" />
<line x1="422.70" y1="190.99" x2="422.70" y2="191.26" stroke="#111" stroke-width="0.6" />
<line x1="421.70" y1="190.99" x2="423.70" y2="190.99" stroke="#111" stroke-width="0.6" />
<rect x="426.70" y="186.21" width="4.20" height="6.89" fill="#2c4a87" />
<line x1="428.80" y1="185.29" x2="428.80" y2="186.21" stroke="#111" stroke-width="0.6" />
<line x1="427.80" y1="185.29" x2="429.80" y2="185.29" stroke="#111" stroke-width="0.6" />
<rect x="432.50" y="186.21" width="4.20" height="6.89" fill="#b0122e" />
<line x1="434.60" y1="185.29" x2="434.60" y2="186.21" stroke="#111" stroke-width="0.6" />
<line x1="433.60" y1="185.29" x2="435.60" y2="185.29" stroke="#111" stroke-width="0.6" />
<text x="431.40" y="183.29" font-size="4.4" text-anchor="middle" font-weight="bold" font-style="normal" fill="#222" >***</text>
<line x1="428.70" y1="193.10" x2="428.70" y2="195.10" stroke="#222" stroke-width="0.7" />
<rect x="442.40" y="192.18" width="4.20" height="0.92" fill="#c7c7cc" />
<line x1="444.50" y1="192.00" x2="444.50" y2="192.18" stroke="#111" stroke-width="0.6" />
<line x1="443.50" y1="192.00" x2="445.50" y2="192.00" stroke="#111" stroke-width="0.6" />
<rect x="448.50" y="189.88" width="4.20" height="3.22" fill="#2c4a87" />
<line x1="450.60" y1="189.42" x2="450.60" y2="189.88" stroke="#111" stroke-width="0.6" />
<line x1="449.60" y1="189.42" x2="451.60" y2="189.42" stroke="#111" stroke-width="0.6" />
<rect x="454.30" y="189.88" width="4.20" height="3.22" fill="#b0122e" />
<line x1="456.40" y1="189.42" x2="456.40" y2="189.88" stroke="#111" stroke-width="0.6" />
<line x1="455.40" y1="189.42" x2="457.40" y2="189.42" stroke="#111" stroke-width="0.6" />
<text x="453.20" y="187.42" font-size="4.4" text-anchor="middle" font-weight="bold" font-style="normal" fill="#222" >***</text>
<line x1="450.50" y1="193.10" x2="450.50" y2="195.10" stroke="#222" stroke-width="0.7" />
<line x1="351.70" y1="117.50" x2="351.70" y2="193.10" stroke="#222" stroke-width="0.9" />
<line x1="351.70" y1="193.10" x2="459.40" y2="193.10" stroke="#222" stroke-width="0.9" />
<line x1="349.50" y1="193.10" x2="351.70" y2="193.10" stroke="#222" stroke-width="0.7" />
<text class="s" x="348.30" y="195.20" font-size="6.0" text-anchor="end" font-weight="normal" font-style="normal" fill="#222" >0</text>
<line x1="349.50" y1="174.72" x2="351.70" y2="174.72" stroke="#222" stroke-width="0.7" />
<text class="s" x="348.30" y="176.82" font-size="6.0" text-anchor="end" font-weight="normal" font-style="normal" fill="#222" >20</text>
<line x1="349.50" y1="156.35" x2="351.70" y2="156.35" stroke="#222" stroke-width="0.7" />
<text class="s" x="348.30" y="158.45" font-size="6.0" text-anchor="end" font-weight="normal" font-style="normal" fill="#222" >40</text>
<line x1="349.50" y1="137.97" x2="351.70" y2="137.97" stroke="#222" stroke-width="0.7" />
<text class="s" x="348.30" y="140.07" font-size="6.0" text-anchor="end" font-weight="normal" font-style="normal" fill="#222" >60</text>
<line x1="349.50" y1="119.60" x2="351.70" y2="119.60" stroke="#222" stroke-width="0.7" />
<text class="s" x="348.30" y="121.70" font-size="6.0" text-anchor="end" font-weight="normal" font-style="normal" fill="#222" >80</text>
<text x="363.30" y="204.60" font-size="5.6" text-anchor="middle" font-weight="normal" font-style="normal" fill="#222" >I</text>
<text x="384.40" y="204.60" font-size="5.6" text-anchor="middle" font-weight="normal" font-style="normal" fill="#222" >II</text>
<text x="406.00" y="204.60" font-size="5.6" text-anchor="middle" font-weight="normal" font-style="normal" fill="#222" >III</text>
<text x="427.10" y="204.60" font-size="5.6" text-anchor="middle" font-weight="normal" font-style="normal" fill="#222" >IV</text>
<text x="448.80" y="204.60" font-size="5.6" text-anchor="middle" font-weight="normal" font-style="normal" fill="#222" >V</text>
<text class="s" transform="translate(333.00,154.80) rotate(-90) scale(1.0,1)" font-size="6.5" text-anchor="middle" font-style="normal" font-weight="normal" fill="#222">Erythroid cells (%)</text>
<rect x="471.00" y="121.80" width="8.20" height="4.60" fill="#c7c7cc" />
<text x="482.50" y="126.00" font-size="5.6" text-anchor="start" font-weight="normal" font-style="normal" fill="#222" >HSC-Ctrl</text>
<rect x="471.00" y="130.60" width="8.20" height="4.60" fill="#2c4a87" />
<text x="482.50" y="134.80" font-size="5.6" text-anchor="start" font-weight="normal" font-style="normal" fill="#222" >HSC-<tspan font-style="italic">SKI</tspan></text>
<rect x="471.00" y="139.40" width="8.20" height="4.60" fill="#b0122e" />
<text x="482.50" y="143.60" font-size="5.6" text-anchor="start" font-weight="normal" font-style="normal" fill="#222" >MEP-<tspan font-style="italic">SKI</tspan></text>
<text class="s" x="294.80" y="231.70" font-size="11.2" text-anchor="start" font-weight="bold" font-style="normal" fill="#000" >G</text>
<text class="s" x="366.60" y="237.30" font-size="6.2" text-anchor="middle" font-weight="normal" font-style="normal" fill="#222" >HSC-<tspan font-style="italic">Ctrl</tspan></text>
<text class="s" x="458.00" y="237.30" font-size="6.2" text-anchor="middle" font-weight="normal" font-style="normal" fill="#222" >HSC-<tspan font-style="italic">SKI</tspan></text>
<line x1="311.20" y1="243.00" x2="311.20" y2="460.20" stroke="#333" stroke-width="0.8" />
<line x1="311.20" y1="466.00" x2="311.20" y2="609.20" stroke="#333" stroke-width="0.8" />
<text class="s" transform="translate(306.90,351.20) rotate(-90) scale(1.0,1)" font-size="8.6" text-anchor="middle" font-style="normal" font-weight="normal" fill="#222">HE</text>
<text class="s" transform="translate(306.90,536.00) rotate(-90) scale(1.0,1)" font-size="8.6" text-anchor="middle" font-style="normal" font-weight="normal" fill="#222">GATA1</text>
<text transform="translate(320.00,276.30) rotate(-90) scale(0.95,1)" font-size="5.7" text-anchor="middle" font-style="normal" font-weight="normal" fill="#222">BM</text>
<text transform="translate(320.00,350.35) rotate(-90) scale(0.95,1)" font-size="5.7" text-anchor="middle" font-style="normal" font-weight="normal" fill="#222">Spleen</text>
<text transform="translate(320.00,425.55) rotate(-90) scale(0.95,1)" font-size="5.7" text-anchor="middle" font-style="normal" font-weight="normal" fill="#222">Liver</text>
<text transform="translate(320.00,499.35) rotate(-90) scale(0.95,1)" font-size="5.7" text-anchor="middle" font-style="normal" font-weight="normal" fill="#222">Spleen</text>
<text transform="translate(320.00,573.35) rotate(-90) scale(0.95,1)" font-size="5.7" text-anchor="middle" font-style="normal" font-weight="normal" fill="#222">Liver</text>
<clipPath id="g0"><rect x="322.7" y="241.3" width="87.9" height="70.0"/></clipPath><g clip-path="url(#g0)">
<rect x="322.70" y="241.30" width="87.90" height="70.00" fill="#ab5488" />
<rect x="322.70" y="241.30" width="87.90" height="70.00" fill="#000" filter="url(#spink)" opacity="0.55"/>
<rect x="322.70" y="241.30" width="87.90" height="70.00" fill="#000" filter="url(#sdarkr)" opacity="0.85"/>
<rect x="322.70" y="241.30" width="87.90" height="70.00" fill="#000" filter="url(#swhite)" opacity="0.7"/>
<path d="M322.7,273.7 C330,285 338,298 346.2,311.3 L322.7,311.3 Z" fill="#d8a048"/>
<path d="M323.5,277.5 C329,287 335.5,298 343,311.0 L323.5,311.0 Z" fill="#e9c07a" opacity="0.9"/>
<circle cx="326" cy="262" r="2" fill="#fff"/>
<circle cx="345" cy="262" r="1.3" fill="#fff"/>
<circle cx="352" cy="299" r="1.5" fill="#fff"/>
<circle cx="362" cy="282" r="0.8" fill="#fff"/>
<circle cx="383" cy="262" r="0.8" fill="#fff"/>
</g>
<clipPath id="g1"><rect x="414.4" y="241.3" width="87.3" height="70.0"/></clipPath><g clip-path="url(#g1)">
<rect x="414.40" y="241.30" width="87.30" height="70.00" fill="#a53c7a" />
<rect x="414.40" y="241.30" width="87.30" height="70.00" fill="#000" filter="url(#spink)" opacity="0.45"/>
<rect x="414.40" y="241.30" width="87.30" height="70.00" fill="#000" filter="url(#sdarkr)" opacity="0.9"/>
<rect x="414.40" y="241.30" width="87.30" height="70.00" fill="#000" filter="url(#swhite)" opacity="0.5"/>
<path d="M436,249.5 L441.9,251.2 L447.8,248.6 L452.9,250.3 L458.8,253.7" fill="none" stroke="#fff" stroke-width="1.6" stroke-linejoin="round" stroke-linecap="round" opacity="0.95"/>
<ellipse cx="436.3" cy="250.1" rx="1.3" ry="1.1" fill="#fff" opacity="0.9"/>
<ellipse cx="436.6" cy="250.5" rx="0.6" ry="0.8" fill="#fff" opacity="0.9"/>
<ellipse cx="443.0" cy="251.6" rx="1.4" ry="0.6" fill="#fff" opacity="0.9"/>
<ellipse cx="441.8" cy="250.6" rx="1.1" ry="0.8" fill="#fff" opacity="0.9"/>
<ellipse cx="446.6" cy="247.9" rx="0.9" ry="1.0" fill="#fff" opacity="0.9"/>
<ellipse cx="448.4" cy="247.8" rx="1.3" ry="0.6" fill="#fff" opacity="0.9"/>
<ellipse cx="453.2" cy="249.4" rx="0.6" ry="1.0" fill="#fff" opacity="0.9"/>
<ellipse cx="452.2" cy="249.6" rx="1.5" ry="1.0" fill="#fff" opacity="0.9"/>
<ellipse cx="458.3" cy="254.8" rx="1.1" ry="0.9" fill="#fff" opacity="0.9"/>
<ellipse cx="458.1" cy="254.8" rx="1.2" ry="1.1" fill="#fff" opacity="0.9"/>
<path d="M456.3,257.1 L461.4,257.9 L464.8,260.5" fill="none" stroke="#fff" stroke-width="2.0" stroke-linejoin="round" stroke-linecap="round" opacity="0.95"/>
<ellipse cx="457.2" cy="256.6" rx="0.9" ry="0.6" fill="#fff" opacity="0.9"/>
<ellipse cx="455.4" cy="256.1" rx="0.9" ry="0.9" fill="#fff" opacity="0.9"/>
<ellipse cx="460.2" cy="258.3" rx="0.9" ry="0.7" fill="#fff" opacity="0.9"/>
<ellipse cx="462.2" cy="257.9" rx="0.9" ry="0.8" fill="#fff" opacity="0.9"/>
<ellipse cx="465.3" cy="259.4" rx="1.5" ry="0.5" fill="#fff" opacity="0.9"/>
<ellipse cx="465.4" cy="261.3" rx="0.6" ry="1.0" fill="#fff" opacity="0.9"/>
<path d="M447,262.2 L454.6,265.5 L461.4,268.1 L464.8,272.3 L469.8,277.4 L474.1,279.1 L477.5,278.2" fill="none" stroke="#fff" stroke-width="2.0" stroke-linejoin="round" stroke-linecap="round" opacity="0.95"/>
<ellipse cx="446.7" cy="262.4" rx="0.6" ry="0.5" fill="#fff" opacity="0.9"/>
<ellipse cx="446.2" cy="263.3" rx="0.8" ry="1.0" fill="#fff" opacity="0.9"/>
<ellipse cx="455.6" cy="266.6" rx="0.9" ry="0.7" fill="#fff" opacity="0.9"/>
<ellipse cx="454.7" cy="266.2" rx="0.7" ry="0.9" fill="#fff" opacity="0.9"/>
<ellipse cx="462.1" cy="269.0" rx="0.6" ry="1.1" fill="#fff" opacity="0.9"/>
<ellipse cx="460.4" cy="267.7" rx="1.1" ry="1.1" fill="#fff" opacity="0.9"/>
<ellipse cx="464.4" cy="273.3" rx="1.1" ry="0.7" fill="#fff" opacity="0.9"/>
<ellipse cx="464.4" cy="271.5" rx="0.7" ry="0.6" fill="#fff" opacity="0.9"/>
<ellipse cx="470.3" cy="278.6" rx="0.7" ry="0.5" fill="#fff" opacity="0.9"/>
<ellipse cx="471.0" cy="277.5" rx="1.0" ry="0.6" fill="#fff" opacity="0.9"/>
<ellipse cx="474.3" cy="279.9" rx="1.0" ry="0.8" fill="#fff" opacity="0.9"/>
<ellipse cx="473.0" cy="280.1" rx="0.6" ry="0.8" fill="#fff" opacity="0.9"/>
<ellipse cx="478.3" cy="277.3" rx="1.3" ry="1.1" fill="#fff" opacity="0.9"/>
<ellipse cx="477.8" cy="278.9" rx="0.7" ry="0.8" fill="#fff" opacity="0.9"/>
<path d="M466.5,276.5 L469,283.3 L469.8,286.7" fill="none" stroke="#fff" stroke-width="1.6" stroke-linejoin="round" stroke-linecap="round" opacity="0.95"/>
<ellipse cx="465.7" cy="277.3" rx="0.9" ry="0.8" fill="#fff" opacity="0.9"/>
<ellipse cx="467.7" cy="277.3" rx="1.5" ry="0.8" fill="#fff" opacity="0.9"/>
<ellipse cx="469.0" cy="283.9" rx="1.0" ry="0.7" fill="#fff" opacity="0.9"/>
<ellipse cx="468.8" cy="282.5" rx="0.9" ry="1.1" fill="#fff" opacity="0.9"/>
<ellipse cx="470.9" cy="287.0" rx="1.0" ry="0.7" fill="#fff" opacity="0.9"/>
<ellipse cx="468.8" cy="286.2" rx="1.3" ry="1.0" fill="#fff" opacity="0.9"/>
<path d="M439.4,263 L438.5,268.1 L439.4,272.3" fill="none" stroke="#fff" stroke-width="2.0" stroke-linejoin="round" stroke-linecap="round" opacity="0.95"/>
<ellipse cx="439.1" cy="263.7" rx="1.3" ry="0.9" fill="#fff" opacity="0.9"/>
<ellipse cx="439.8" cy="263.6" rx="0.9" ry="0.9" fill="#fff" opacity="0.9"/>
<ellipse cx="438.0" cy="268.1" rx="1.3" ry="0.9" fill="#fff" opacity="0.9"/>
<ellipse cx="438.0" cy="269.2" rx="1.2" ry="0.8" fill="#fff" opacity="0.9"/>
<ellipse cx="438.2" cy="272.4" rx="0.8" ry="0.9" fill="#fff" opacity="0.9"/>
<ellipse cx="439.3" cy="273.1" rx="1.2" ry="1.0" fill="#fff" opacity="0.9"/>
<path d="M427.5,257.1 L430.1,261.3 L429.2,266.4" fill="none" stroke="#fff" stroke-width="1.6" stroke-linejoin="round" stroke-linecap="round" opacity="0.95"/>
<ellipse cx="427.1" cy="257.4" rx="1.3" ry="1.0" fill="#fff" opacity="0.9"/>
<ellipse cx="427.1" cy="257.9" rx="1.4" ry="0.9" fill="#fff" opacity="0.9"/>
<ellipse cx="431.2" cy="262.4" rx="1.1" ry="0.8" fill="#fff" opacity="0.9"/>
<ellipse cx="429.3" cy="262.1" rx="1.4" ry="0.8" fill="#fff" opacity="0.9"/>
<ellipse cx="429.7" cy="266.9" rx="1.3" ry="0.6" fill="#fff" opacity="0.9"/>
<ellipse cx="429.9" cy="266.6" rx="1.2" ry="0.8" fill="#fff" opacity="0.9"/>
<path d="M491.8,268.9 L488.5,278.2 L485.1,286.7 L481.7,293.5 L480.8,300.2 L480.3,310" fill="none" stroke="#fff" stroke-width="2.0" stroke-linejoin="round" stroke-linecap="round" opacity="0.95"/>
<ellipse cx="492.1" cy="269.6" rx="1.2" ry="0.9" fill="#fff" opacity="0.9"/>
<ellipse cx="490.7" cy="268.1" rx="1.0" ry="0.9" fill="#fff" opacity="0.9"/>
<ellipse cx="487.8" cy="278.6" rx="1.2" ry="0.5" fill="#fff" opacity="0.9"/>
<ellipse cx="488.4" cy="277.5" rx="0.6" ry="0.6" fill="#fff" opacity="0.9"/>
<ellipse cx="484.7" cy="285.9" rx="0.8" ry="0.5" fill="#fff" opacity="0.9"/>
<ellipse cx="485.0" cy="286.4" rx="1.2" ry="0.9" fill="#fff" opacity="0.9"/>
<ellipse cx="481.1" cy="294.5" rx="0.6" ry="0.7" fill="#fff" opacity="0.9"/>
<ellipse cx="481.2" cy="293.3" rx="0.7" ry="1.0" fill="#fff" opacity="0.9"/>
<ellipse cx="480.5" cy="299.1" rx="1.2" ry="0.6" fill="#fff" opacity="0.9"/>
<ellipse cx="480.9" cy="299.8" rx="1.1" ry="1.1" fill="#fff" opacity="0.9"/>
<ellipse cx="481.1" cy="309.8" rx="1.3" ry="0.9" fill="#fff" opacity="0.9"/>
<ellipse cx="480.0" cy="309.1" rx="1.1" ry="0.8" fill="#fff" opacity="0.9"/>
<path d="M481.7,293.5 L486.8,295.2 L491.8,296.8 L494.4,301.1" fill="none" stroke="#fff" stroke-width="1.8" stroke-linejoin="round" stroke-linecap="round" opacity="0.95"/>
<ellipse cx="482.8" cy="294.6" rx="1.1" ry="0.7" fill="#fff" opacity="0.9"/>
<ellipse cx="482.6" cy="292.3" rx="0.7" ry="0.8" fill="#fff" opacity="0.9"/>
<ellipse cx="487.1" cy="294.3" rx="1.2" ry="1.0" fill="#fff" opacity="0.9"/>
<ellipse cx="486.5" cy="295.0" rx="0.8" ry="0.7" fill="#fff" opacity="0.9"/>
<ellipse cx="492.9" cy="296.5" rx="1.5" ry="1.0" fill="#fff" opacity="0.9"/>
<ellipse cx="492.0" cy="296.2" rx="1.5" ry="0.8" fill="#fff" opacity="0.9"/>
<ellipse cx="494.2" cy="300.7" rx="1.5" ry="0.8" fill="#fff" opacity="0.9"/>
<ellipse cx="493.9" cy="301.0" rx="0.7" ry="0.9" fill="#fff" opacity="0.9"/>
<path d="M463.1,291.8 L465.6,295.2 L464.8,298.5" fill="none" stroke="#fff" stroke-width="1.5" stroke-linejoin="round" stroke-linecap="round" opacity="0.95"/>
<ellipse cx="463.0" cy="291.3" rx="1.3" ry="1.0" fill="#fff" opacity="0.9"/>
<ellipse cx="461.9" cy="291.9" rx="0.8" ry="1.1" fill="#fff" opacity="0.9"/>
<ellipse cx="466.3" cy="294.6" rx="0.8" ry="0.6" fill="#fff" opacity="0.9"/>
<ellipse cx="466.8" cy="294.7" rx="1.1" ry="0.8" fill="#fff" opacity="0.9"/>
<ellipse cx="465.1" cy="298.7" rx="1.3" ry="0.6" fill="#fff" opacity="0.9"/>
<ellipse cx="465.4" cy="298.0" rx="1.1" ry="0.7" fill="#fff" opacity="0.9"/>
<path d="M493.5,254.5 L498.6,252" fill="none" stroke="#fff" stroke-width="1.5" stroke-linejoin="round" stroke-linecap="round" opacity="0.95"/>
<ellipse cx="493.0" cy="254.6" rx="1.0" ry="0.7" fill="#fff" opacity="0.9"/>
<ellipse cx="494.1" cy="254.7" rx="0.6" ry="0.7" fill="#fff" opacity="0.9"/>
<ellipse cx="498.5" cy="253.0" rx="1.4" ry="0.8" fill="#fff" opacity="0.9"/>
<ellipse cx="497.4" cy="252.7" rx="1.0" ry="0.8" fill="#fff" opacity="0.9"/>
<path d="M493.5,263 L499.5,261.3" fill="none" stroke="#fff" stroke-width="1.5" stroke-linejoin="round" stroke-linecap="round" opacity="0.95"/>
<ellipse cx="494.0" cy="263.3" rx="1.0" ry="1.0" fill="#fff" opacity="0.9"/>
<ellipse cx="493.2" cy="262.7" rx="1.4" ry="0.6" fill="#fff" opacity="0.9"/>
<ellipse cx="499.0" cy="262.1" rx="0.7" ry="1.0" fill="#fff" opacity="0.9"/>
<ellipse cx="500.0" cy="261.1" rx="0.9" ry="1.0" fill="#fff" opacity="0.9"/>
<path d="M487.5,262 L489,264" fill="none" stroke="#fff" stroke-width="1.3" stroke-linejoin="round" stroke-linecap="round" opacity="0.95"/>
<ellipse cx="488.5" cy="261.1" rx="1.0" ry="0.8" fill="#fff" opacity="0.9"/>
<ellipse cx="487.5" cy="261.6" rx="0.7" ry="0.9" fill="#fff" opacity="0.9"/>
<ellipse cx="489.7" cy="263.0" rx="0.8" ry="1.0" fill="#fff" opacity="0.9"/>
<ellipse cx="489.7" cy="264.4" rx="0.6" ry="0.9" fill="#fff" opacity="0.9"/>
<path d="M474.9,253.7 L479.2,254.5" fill="none" stroke="#fff" stroke-width="1.4" stroke-linejoin="round" stroke-linecap="round" opacity="0.95"/>
<ellipse cx="476.0" cy="254.9" rx="1.2" ry="0.5" fill="#fff" opacity="0.9"/>
<ellipse cx="475.7" cy="253.0" rx="1.2" ry="1.1" fill="#fff" opacity="0.9"/>
<ellipse cx="479.7" cy="253.6" rx="0.9" ry="1.1" fill="#fff" opacity="0.9"/>
<ellipse cx="478.4" cy="254.8" rx="1.0" ry="0.6" fill="#fff" opacity="0.9"/>
<path d="M436,285 L437,287" fill="none" stroke="#fff" stroke-width="1.3" stroke-linejoin="round" stroke-linecap="round" opacity="0.95"/>
<ellipse cx="436.3" cy="283.9" rx="0.7" ry="0.7" fill="#fff" opacity="0.9"/>
<ellipse cx="435.0" cy="283.9" rx="1.1" ry="0.9" fill="#fff" opacity="0.9"/>
<ellipse cx="437.9" cy="286.1" rx="1.0" ry="0.7" fill="#fff" opacity="0.9"/>
<ellipse cx="437.2" cy="287.0" rx="1.4" ry="0.7" fill="#fff" opacity="0.9"/>
<path d="M439.4,295.2 L440,297.5" fill="none" stroke="#fff" stroke-width="1.3" stroke-linejoin="round" stroke-linecap="round" opacity="0.95"/>
<ellipse cx="438.3" cy="295.7" rx="0.7" ry="0.9" fill="#fff" opacity="0.9"/>
<ellipse cx="439.4" cy="296.2" rx="1.1" ry="0.9" fill="#fff" opacity="0.9"/>
<ellipse cx="439.4" cy="297.6" rx="0.8" ry="1.0" fill="#fff" opacity="0.9"/>
<ellipse cx="440.0" cy="296.6" rx="0.8" ry="0.7" fill="#fff" opacity="0.9"/>
<path d="M421.6,298.5 L423,300" fill="none" stroke="#fff" stroke-width="1.3" stroke-linejoin="round" stroke-linecap="round" opacity="0.95"/>
<ellipse cx="422.2" cy="297.7" rx="1.2" ry="0.9" fill="#fff" opacity="0.9"/>
<ellipse cx="420.6" cy="298.9" rx="0.7" ry="0.6" fill="#fff" opacity="0.9"/>
<ellipse cx="423.2" cy="299.4" rx="1.4" ry="0.8" fill="#fff" opacity="0.9"/>
<ellipse cx="422.6" cy="300.7" rx="0.6" ry="0.9" fill="#fff" opacity="0.9"/>
<path d="M418,252 L420,254" fill="none" stroke="#fff" stroke-width="1.2" stroke-linejoin="round" stroke-linecap="round" opacity="0.95"/>
<ellipse cx="416.9" cy="251.2" rx="1.5" ry="0.9" fill="#fff" opacity="0.9"/>
<ellipse cx="417.3" cy="251.1" rx="1.5" ry="0.9" fill="#fff" opacity="0.9"/>
<ellipse cx="420.8" cy="253.1" rx="1.2" ry="0.7" fill="#fff" opacity="0.9"/>
<ellipse cx="419.4" cy="253.6" rx="1.2" ry="0.7" fill="#fff" opacity="0.9"/>
<path d="M425,246 L428,247" fill="none" stroke="#fff" stroke-width="1.2" stroke-linejoin="round" stroke-linecap="round" opacity="0.95"/>
<ellipse cx="424.7" cy="245.1" rx="1.3" ry="0.9" fill="#fff" opacity="0.9"/>
<ellipse cx="425.7" cy="245.8" rx="1.4" ry="0.8" fill="#fff" opacity="0.9"/>
<ellipse cx="428.2" cy="247.2" rx="1.3" ry="0.7" fill="#fff" opacity="0.9"/>
<ellipse cx="427.0" cy="245.9" rx="0.8" ry="0.5" fill="#fff" opacity="0.9"/>
<circle cx="474.5" cy="262" r="0.9" fill="#fff"/>
<circle cx="487" cy="247" r="0.9" fill="#fff"/>
<circle cx="479" cy="258" r="0.8" fill="#fff"/>
<circle cx="474" cy="270" r="0.8" fill="#fff"/>
<circle cx="487" cy="281" r="0.8" fill="#fff"/>
<circle cx="458" cy="244" r="0.9" fill="#fff"/>
<circle cx="447" cy="256" r="0.8" fill="#fff"/>
<circle cx="455" cy="275" r="0.9" fill="#fff"/>
<circle cx="428" cy="278" r="0.8" fill="#fff"/>
<circle cx="500" cy="277" r="0.8" fill="#fff"/>
<circle cx="432" cy="290" r="0.7" fill="#fff"/>
<circle cx="428" cy="305" r="0.8" fill="#fff"/>
<circle cx="452" cy="303" r="0.8" fill="#fff"/>
<circle cx="470" cy="304" r="0.8" fill="#fff"/>
<circle cx="497" cy="289" r="0.8" fill="#fff"/>
<path d="M414,276 L415.5,275.5 L417,277.5 L419.5,278.5 L420.5,281 L422.2,283 L421,285.5 L421.8,288.5 L420,290.5 L419.2,294 L416,293 L414,294 Z" fill="#fff"/>
<path d="M445.5,290 C444.5,286 448,283 452.5,281 C456,279 459,277.5 461.5,278.5 C463.5,280 462.5,284 459.5,286.5 C456.5,289 452,291.5 448.5,291.8 C446.8,292 445.8,291.2 445.5,290 Z" fill="#dfa862"/>
<path d="M490.5,241 L501,241 L500.5,245 C499,248.5 494,249.5 491.5,246.5 Z" fill="#d6913a"/>
</g>
<clipPath id="g2"><rect x="322.7" y="315.6" width="87.9" height="69.5"/></clipPath><g clip-path="url(#g2)">
<rect x="322.70" y="315.60" width="87.90" height="69.50" fill="#a4648e" />
<rect x="322.70" y="315.60" width="87.90" height="69.50" fill="#000" filter="url(#spink)" opacity="0.45"/>
<rect x="322.70" y="315.60" width="87.90" height="69.50" fill="#000" filter="url(#sdarkr)" opacity="0.55"/>
<rect x="322.70" y="315.60" width="87.90" height="69.50" fill="#000" filter="url(#sdark)" opacity="0.4"/>
<rect x="322.70" y="315.60" width="87.90" height="69.50" fill="#000" filter="url(#swhite)" opacity="0.8"/>
<ellipse cx="338" cy="348" rx="13" ry="26" fill="#4a3a64" opacity="0.45" filter="url(#b4)"/>
<ellipse cx="392" cy="352" rx="9" ry="20" fill="#4a3a64" opacity="0.22" filter="url(#b4)"/>
<ellipse cx="406" cy="328" rx="7" ry="13" fill="#b02a3c" opacity="0.45" filter="url(#b2)"/>
<path d="M404,340 C406,348 407,356 409,366" fill="none" stroke="#b0283a" stroke-width="1.5" opacity="0.4" filter="url(#b05)"/>
</g>
<clipPath id="g3"><rect x="414.4" y="315.6" width="87.3" height="69.5"/></clipPath><g clip-path="url(#g3)">
<rect x="414.40" y="315.60" width="87.30" height="69.50" fill="#a8668e" />
<rect x="414.40" y="315.60" width="87.30" height="69.50" fill="#000" filter="url(#spink)" opacity="0.5"/>
<rect x="414.40" y="315.60" width="87.30" height="69.50" fill="#000" filter="url(#sdarkr)" opacity="0.55"/>
<rect x="414.40" y="315.60" width="87.30" height="69.50" fill="#000" filter="url(#sdark)" opacity="0.4"/>
<rect x="414.40" y="315.60" width="87.30" height="69.50" fill="#000" filter="url(#swhite)" opacity="0.85"/>
<ellipse cx="445" cy="333" rx="26" ry="14" fill="#4a3a64" opacity="0.35" filter="url(#b6)"/>
<ellipse cx="478" cy="368" rx="22" ry="12" fill="#c0607a" opacity="0.25" filter="url(#b6)"/>
</g>
<clipPath id="g4"><rect x="322.7" y="390.6" width="87.9" height="69.89999999999998"/></clipPath><g clip-path="url(#g4)">
<rect x="322.70" y="390.60" width="87.90" height="69.90" fill="#b8505e" />
<rect x="322.70" y="390.60" width="87.90" height="69.90" fill="#000" filter="url(#spinkl)" opacity="0.6"/>
<rect x="322.70" y="390.60" width="87.90" height="69.90" fill="#000" filter="url(#swhitel)" opacity="0.42"/>
<rect x="322.70" y="390.60" width="87.90" height="69.90" fill="#000" filter="url(#snuc)" opacity="0.9"/>
<path d="M360,431.5 C362,433 364,435.5 367,438.5" fill="none" stroke="#fff" stroke-width="1.2"/>
</g>
<clipPath id="g5"><rect x="414.4" y="390.6" width="87.3" height="69.89999999999998"/></clipPath><g clip-path="url(#g5)">
<rect x="414.40" y="390.60" width="87.30" height="69.90" fill="#b44c5a" />
<rect x="414.40" y="390.60" width="87.30" height="69.90" fill="#000" filter="url(#spinkl)" opacity="0.6"/>
<rect x="414.40" y="390.60" width="87.30" height="69.90" fill="#000" filter="url(#swhitel)" opacity="0.4"/>
<rect x="414.40" y="390.60" width="87.30" height="69.90" fill="#000" filter="url(#snuc)" opacity="0.9"/>
<ellipse cx="436" cy="441" rx="7" ry="7" fill="#5a3a80" opacity="0.45" filter="url(#b2)"/>
<ellipse cx="479" cy="420" rx="6" ry="11" fill="#5a3a80" opacity="0.4" filter="url(#b2)"/>
<path d="M471,424 C470.5,420 473,418 476,418.5 C479.5,419.5 481.5,425 480.8,429.5 C480,433 475.5,434 473.2,431.5 Z" fill="#d8963e"/>
<path d="M471,419 C472,414 474,411 476,409 M477,418 C478,414 479,412 480,410" fill="none" stroke="#f4eef2" stroke-width="1"/>
<path d="M474,406 L477,414" stroke="#fff" stroke-width="1.1"/>
</g>
<line x1="486.40" y1="410.50" x2="486.40" y2="416.50" stroke="#000" stroke-width="0.9" />
<polygon points="484.40,415.50 488.40,415.50 486.40,419.50" fill="#000"/>
<line x1="439.70" y1="435.50" x2="439.70" y2="441.50" stroke="#000" stroke-width="0.9" />
<polygon points="437.70,440.50 441.70,440.50 439.70,444.50" fill="#000"/>
<clipPath id="g6"><rect x="322.7" y="464.2" width="87.9" height="70.30000000000001"/></clipPath><g clip-path="url(#g6)">
<rect x="322.70" y="464.20" width="87.90" height="70.30" fill="#c3c4e0" />
<rect x="322.70" y="464.20" width="87.90" height="70.30" fill="#000" filter="url(#slav)" opacity="0.45"/>
<rect x="322.70" y="464.20" width="87.90" height="70.30" fill="#000" filter="url(#swl)" opacity="0.75"/>
<ellipse cx="385" cy="512" rx="22" ry="18" fill="#eeeef8" opacity="0.55" filter="url(#b6)"/>
<ellipse cx="340" cy="485" rx="16" ry="20" fill="#a9aad2" opacity="0.3" filter="url(#b6)"/>
<path d="M402,464 L411,464 L411,472 C407,470 404,467 402,464 Z" fill="#f4f4fa"/>
<path d="M384.1 488.1h0M391.5 488.6h0M391.8 499.9h0M378.2 521.2h0M388.3 504.9h0M386.1 475.9h0M386.0 483.3h0M394.5 485.5h0M400.7 490.3h0M389.6 476.1h0M401.7 500.2h0M385.8 472.5h0M360.7 519.5h0M401.1 501.9h0M384.7 486.3h0M390.1 478.0h0M409.5 500.2h0M400.5 497.7h0M380.9 476.8h0M400.8 479.4h0M361.7 525.9h0M359.9 530.6h0" stroke="#a86c38" stroke-width="1.45" stroke-linecap="round" opacity="0.80"/>
<path d="M390.9 480.3h0M399.7 486.3h0M389.5 478.5h0M400.8 493.3h0M389.0 467.7h0M394.2 476.5h0M381.7 519.4h0M389.6 486.7h0M408.6 497.5h0M401.1 498.2h0M408.4 473.7h0M404.8 475.0h0M399.5 492.7h0M400.1 472.6h0M398.3 485.5h0M357.8 465.6h0M381.2 522.7h0M375.1 503.2h0M401.8 507.1h0M402.2 473.1h0M397.6 504.0h0M390.4 484.0h0M402.1 478.7h0M408.2 492.2h0M393.8 477.7h0M393.7 474.8h0" stroke="#c08a58" stroke-width="1.45" stroke-linecap="round" opacity="0.80"/>
<path d="M398.4 474.9h0M361.0 466.2h0M381.6 524.5h0M410.5 498.6h0M383.0 516.6h0M351.2 476.4h0M378.9 519.8h0M380.1 488.6h0M400.3 497.0h0M391.6 495.9h0M381.1 489.4h0M401.5 474.0h0M408.2 480.2h0M377.2 486.7h0M380.7 525.0h0M389.1 496.9h0M364.1 518.2h0M405.2 483.0h0M402.6 488.0h0M395.0 489.6h0M406.1 483.1h0M396.0 488.1h0M397.4 493.4h0M393.7 487.1h0M398.1 492.0h0" stroke="#c08a58" stroke-width="2.00" stroke-linecap="round" opacity="0.80"/>
<path d="M393.6 481.0h0M403.9 495.4h0M406.0 478.8h0M394.2 480.6h0M396.9 481.3h0M399.5 503.2h0M382.9 483.9h0M383.9 486.6h0M379.2 520.2h0M400.2 497.7h0M407.5 484.9h0M396.1 477.9h0M401.0 478.0h0M395.4 496.6h0M399.4 473.0h0M404.2 495.8h0M376.5 504.6h0M392.1 483.7h0M379.4 527.8h0M393.2 484.1h0M400.1 489.3h0M395.4 489.4h0M405.5 493.6h0" stroke="#a86c38" stroke-width="2.00" stroke-linecap="round" opacity="0.80"/>
<path d="M399.4 493.9h0M382.1 480.7h0M392.4 470.7h0M391.1 500.3h0M388.4 476.6h0M368.2 485.6h0M358.1 467.4h0M387.8 481.0h0M385.4 470.0h0M400.2 493.6h0M373.5 472.5h0M402.7 499.3h0M395.5 479.7h0M362.3 465.8h0M362.0 521.0h0M389.6 486.3h0M392.4 486.7h0M368.4 481.6h0M383.7 486.6h0M403.7 506.0h0M408.8 499.8h0M409.9 494.7h0M404.2 483.2h0" stroke="#b87e48" stroke-width="2.00" stroke-linecap="round" opacity="0.80"/>
<path d="M384.9 468.3h0M381.6 486.3h0M360.5 467.1h0M401.7 486.8h0M397.2 488.8h0M388.9 477.6h0M401.4 491.9h0M387.7 486.5h0M397.0 487.2h0M396.2 487.2h0M365.9 468.0h0M396.3 482.4h0M401.3 502.1h0M368.0 480.5h0M362.5 531.7h0M406.3 479.4h0M392.3 497.7h0M401.1 476.1h0M396.3 488.7h0M402.3 478.4h0M407.4 498.4h0M393.6 486.0h0M392.2 474.2h0M386.1 481.4h0M392.2 475.9h0" stroke="#9a6030" stroke-width="0.90" stroke-linecap="round" opacity="0.80"/>
<path d="M393.7 477.6h0M398.2 479.8h0M388.3 473.8h0M386.8 486.2h0M384.5 486.1h0M394.3 477.1h0M382.4 487.5h0M398.2 484.1h0M398.3 475.5h0M388.6 489.5h0M373.4 466.6h0M397.5 483.7h0M391.2 472.7h0M389.1 473.8h0M399.9 473.7h0M383.1 523.3h0M400.5 480.9h0M381.2 523.6h0M405.2 472.7h0M374.6 471.7h0M358.2 466.6h0M406.9 506.5h0M390.3 481.8h0M404.8 475.6h0" stroke="#9a6030" stroke-width="1.45" stroke-linecap="round" opacity="0.80"/>
<path d="M373.6 467.0h0M399.9 482.8h0M400.1 498.3h0M400.7 473.7h0M397.2 496.2h0M396.2 499.3h0M395.2 466.2h0M399.5 477.4h0M403.4 501.1h0M402.4 492.6h0M394.4 488.3h0M390.8 498.4h0M389.3 474.1h0M390.5 481.7h0M383.3 483.6h0M402.5 506.0h0M387.3 474.0h0M389.3 467.2h0M399.3 477.4h0M403.8 474.8h0M378.0 483.9h0M368.3 480.4h0M397.6 498.1h0M383.9 477.7h0M405.9 491.6h0M403.7 491.1h0" stroke="#a26634" stroke-width="2.00" stroke-linecap="round" opacity="0.80"/>
<path d="M364.5 523.9h0M395.4 469.2h0M389.1 472.2h0M392.3 480.8h0M399.1 493.6h0M406.6 499.0h0M394.9 500.4h0M390.3 479.2h0M387.5 469.0h0M404.4 504.6h0M396.1 485.2h0M407.9 483.9h0M396.3 472.2h0M394.8 491.2h0M399.2 490.6h0M378.9 483.4h0M397.8 499.8h0M397.2 494.6h0M400.6 478.9h0M398.6 492.0h0" stroke="#a26634" stroke-width="1.45" stroke-linecap="round" opacity="0.80"/>
<path d="M377.8 483.5h0M364.0 516.9h0M399.7 489.9h0M383.6 468.6h0M395.1 481.6h0M404.5 476.4h0M388.6 493.1h0M384.4 473.5h0M402.1 475.8h0M394.8 477.0h0M404.1 475.1h0M396.1 485.6h0M403.9 497.9h0M378.1 519.8h0M398.9 472.9h0M397.4 492.4h0M394.7 503.5h0M390.1 487.1h0M404.4 487.2h0M399.1 480.1h0M398.1 484.6h0M409.3 508.2h0M385.2 482.3h0" stroke="#b87e48" stroke-width="1.45" stroke-linecap="round" opacity="0.80"/>
<path d="M405.6 499.4h0M405.4 471.8h0M398.9 473.5h0M388.1 490.4h0M403.7 488.9h0M352.0 476.0h0M392.7 471.6h0M386.9 488.7h0M396.4 498.2h0M391.6 486.5h0M396.1 500.5h0M399.4 478.7h0M397.8 483.9h0M394.1 476.7h0M396.7 501.0h0M383.7 496.2h0M387.2 484.9h0M402.1 476.5h0M386.9 483.9h0" stroke="#a26634" stroke-width="0.90" stroke-linecap="round" opacity="0.80"/>
<path d="M402.6 485.4h0M398.9 500.9h0M390.2 473.3h0M400.6 495.6h0M377.5 506.0h0M365.0 480.7h0M403.9 480.6h0M400.2 483.8h0M410.0 486.2h0M359.6 516.1h0M383.2 525.3h0M393.4 470.4h0M393.6 487.9h0M399.2 475.0h0M396.1 497.5h0M403.3 478.0h0M357.9 522.3h0M397.8 484.9h0M404.3 490.5h0M391.2 492.4h0M397.5 489.7h0" stroke="#a86c38" stroke-width="0.90" stroke-linecap="round" opacity="0.80"/>
<path d="M405.9 485.6h0M409.4 497.4h0M394.6 467.6h0M361.8 517.7h0M381.8 486.2h0M391.2 479.3h0M369.5 483.1h0M397.6 498.7h0M391.5 488.7h0M398.0 474.2h0M408.6 486.7h0M387.6 496.1h0M377.9 486.3h0M397.3 495.1h0M405.0 476.8h0M391.5 474.2h0M374.3 504.1h0M396.7 476.2h0M362.3 521.5h0M407.0 483.8h0M402.9 481.2h0" stroke="#b87e48" stroke-width="0.90" stroke-linecap="round" opacity="0.80"/>
<path d="M395.6 483.0h0M387.3 487.6h0M391.4 466.6h0M397.1 481.8h0M403.0 492.8h0M395.2 492.1h0M401.8 486.5h0M400.2 495.1h0M397.2 490.3h0M388.1 482.5h0M390.8 495.6h0M399.8 494.8h0M395.6 497.3h0M375.7 500.2h0M352.6 476.9h0M408.3 476.8h0M409.7 479.0h0M390.0 497.2h0" stroke="#9a6030" stroke-width="2.00" stroke-linecap="round" opacity="0.80"/>
<path d="M402.3 474.6h0M390.9 480.9h0M389.6 500.4h0M381.8 484.3h0M386.0 485.0h0M399.7 478.6h0M396.4 493.8h0M398.0 473.6h0M396.1 482.7h0M383.2 486.4h0M402.6 498.1h0M351.1 475.6h0M375.0 507.5h0M404.3 496.2h0M395.7 499.2h0M390.1 492.8h0M393.0 478.2h0M399.5 506.7h0M405.4 495.7h0M381.3 521.5h0M395.5 470.0h0M374.0 466.8h0M398.8 480.2h0M404.4 492.2h0" stroke="#c08a58" stroke-width="0.90" stroke-linecap="round" opacity="0.80"/>
</g>
<clipPath id="g7"><rect x="414.4" y="464.2" width="87.3" height="70.30000000000001"/></clipPath><g clip-path="url(#g7)">
<rect x="414.40" y="464.20" width="87.30" height="70.30" fill="#cbcbe4" />
<rect x="414.40" y="464.20" width="87.30" height="70.30" fill="#000" filter="url(#slav)" opacity="0.4"/>
<rect x="414.40" y="464.20" width="87.30" height="70.30" fill="#000" filter="url(#swl)" opacity="0.8"/>
<path d="M436.9 497.5h0M449.9 500.8h0M465.1 466.5h0M442.1 476.2h0M418.5 483.5h0M495.1 505.2h0M432.1 492.3h0M471.0 515.7h0M494.6 484.6h0M493.0 525.9h0M458.7 509.9h0M473.9 469.2h0M464.6 528.2h0M439.7 475.5h0M441.5 490.9h0M415.5 488.1h0M449.8 507.7h0M490.0 510.7h0M476.4 525.0h0M500.2 470.0h0M441.7 499.2h0M455.3 471.9h0M494.7 475.0h0M483.5 490.5h0M484.6 493.5h0M415.9 490.2h0M462.4 508.4h0M449.4 468.6h0M441.5 479.4h0M493.6 504.0h0M465.4 517.8h0M466.9 513.3h0M446.5 519.3h0M495.4 492.1h0M428.7 481.8h0M488.9 464.4h0M452.1 521.0h0M487.9 498.8h0M424.9 483.9h0M471.8 513.1h0M462.3 522.4h0M427.5 490.8h0M435.4 470.6h0M444.3 466.1h0M418.1 490.0h0M416.8 475.0h0M477.2 514.6h0M428.8 469.8h0M491.7 500.7h0M429.7 496.3h0M418.1 496.0h0M424.4 478.0h0M472.4 467.7h0M484.9 478.8h0M438.3 495.8h0M466.6 516.8h0M447.4 515.2h0M475.5 467.8h0M491.3 504.2h0M450.9 526.5h0M440.2 474.5h0M431.7 478.1h0M445.7 504.2h0M443.1 493.7h0M438.9 491.7h0M484.0 528.7h0M479.8 518.7h0M451.2 527.6h0M442.7 488.4h0M450.1 522.7h0M457.8 515.9h0M483.4 520.1h0M444.7 525.9h0M467.2 508.0h0M489.2 529.6h0" stroke="#b87e48" stroke-width="1.45" stroke-linecap="round" opacity="0.85"/>
<path d="M446.1 484.3h0M451.9 530.2h0M488.0 508.3h0M494.8 469.7h0M450.5 495.6h0M452.1 508.9h0M456.0 517.6h0M464.0 533.9h0M440.8 490.0h0M487.9 500.8h0M443.8 522.4h0M464.1 522.3h0M493.3 489.1h0M480.5 531.2h0M472.6 474.1h0M431.7 475.2h0M484.9 466.9h0M446.1 518.5h0M433.5 482.5h0M497.7 492.4h0M432.8 494.8h0M492.3 488.5h0M454.7 516.4h0M463.6 514.4h0M436.0 482.2h0M480.7 473.5h0M487.6 493.3h0M496.2 486.7h0M434.3 488.7h0M477.9 514.4h0M439.8 488.7h0M453.0 518.3h0M427.6 486.4h0M440.6 491.9h0M435.6 476.7h0M441.8 534.4h0M420.0 469.0h0M485.8 489.6h0M495.6 485.5h0M500.2 474.4h0M431.8 498.4h0M490.8 472.7h0M447.0 482.7h0M468.1 519.8h0M447.7 467.6h0M452.4 509.1h0M481.5 510.8h0M427.1 475.5h0M465.6 513.2h0M422.6 481.8h0M434.1 473.7h0M477.4 519.6h0M429.6 479.4h0M492.9 475.7h0M483.2 523.4h0M432.2 503.1h0M462.7 515.5h0M435.0 475.9h0M480.7 529.7h0M427.5 484.4h0M432.3 503.7h0M492.7 529.7h0M429.7 473.2h0M498.4 522.3h0M431.4 493.7h0M491.6 474.1h0M464.8 514.2h0M478.6 515.9h0M473.7 467.6h0M425.6 490.5h0M442.4 482.5h0M495.2 467.7h0M468.9 527.7h0M462.4 464.3h0M445.2 505.9h0M461.6 512.3h0M443.1 514.1h0M483.7 477.2h0M437.9 496.3h0" stroke="#b87e48" stroke-width="2.00" stroke-linecap="round" opacity="0.85"/>
<path d="M441.8 470.1h0M437.0 522.6h0M469.5 524.3h0M423.8 491.1h0M464.5 509.6h0M442.5 515.6h0M429.0 474.5h0M491.9 491.7h0M466.2 467.9h0M472.0 464.2h0M494.7 506.2h0M487.1 504.3h0M478.6 468.2h0M458.8 529.4h0M441.8 488.6h0M458.2 519.8h0M476.5 523.2h0M444.8 466.0h0M453.0 501.2h0M443.6 509.7h0M496.0 529.4h0M437.7 484.8h0M486.0 504.2h0M418.4 492.2h0M482.3 515.8h0M492.9 498.8h0M450.8 517.8h0M440.1 490.5h0M465.6 468.4h0M433.2 486.8h0M417.0 478.5h0M437.5 513.9h0M430.4 486.1h0M459.9 517.4h0M461.0 507.7h0M451.5 513.9h0M439.0 475.5h0M418.1 489.0h0M467.8 506.3h0M445.5 507.8h0M442.9 523.0h0M497.3 531.3h0M444.7 476.4h0M467.2 510.7h0M438.1 484.5h0M440.5 506.7h0M448.4 521.3h0M418.1 474.1h0M488.7 489.7h0M441.6 525.9h0M468.9 526.8h0M421.7 501.1h0M483.8 499.6h0M414.6 482.6h0M436.4 496.7h0M496.9 508.6h0M467.4 499.8h0M423.1 476.5h0M432.1 480.5h0M463.2 465.3h0M487.6 479.0h0M460.4 499.2h0M443.8 501.9h0M460.8 530.6h0M463.7 518.2h0M442.9 494.8h0M480.0 528.6h0M455.3 505.9h0M478.1 464.9h0M472.6 522.5h0M486.7 469.3h0M495.4 484.0h0M495.6 470.1h0M446.0 485.5h0M448.5 512.7h0M457.3 471.5h0M445.2 505.5h0M497.7 467.2h0M478.8 515.4h0M440.0 505.3h0M446.9 512.6h0M423.3 472.3h0M446.1 506.3h0M442.0 468.6h0M440.2 500.8h0M492.3 473.7h0M432.3 476.7h0M500.2 474.4h0M432.6 477.0h0M439.3 506.8h0M499.9 483.8h0" stroke="#9a6030" stroke-width="1.45" stroke-linecap="round" opacity="0.85"/>
<path d="M491.0 533.9h0M501.3 520.9h0M421.6 474.3h0M463.4 514.6h0M492.6 528.7h0M449.4 503.3h0M448.7 513.2h0M419.8 481.8h0M462.2 515.8h0M434.0 490.9h0M490.5 510.3h0M443.2 506.7h0M447.2 517.4h0M445.0 503.5h0M487.2 496.9h0M451.3 468.0h0M440.4 466.7h0M485.3 471.3h0M461.0 465.9h0M424.8 478.0h0M451.7 520.9h0M420.3 469.5h0M489.1 501.9h0M483.7 533.1h0M456.3 523.5h0M490.5 529.3h0M467.9 468.1h0M452.2 512.4h0M457.4 511.3h0M463.9 526.4h0M491.9 520.5h0M463.2 513.6h0M492.6 477.4h0M488.2 480.3h0M481.3 500.3h0M476.4 514.4h0M442.2 472.9h0M479.1 473.8h0M450.3 504.9h0M484.2 516.7h0M481.8 496.9h0M417.9 494.8h0M444.1 512.2h0M438.4 515.2h0M486.7 482.3h0M457.8 515.5h0M432.8 501.1h0M425.2 471.4h0M442.6 474.1h0M443.4 496.3h0M459.7 473.4h0M477.4 523.2h0M481.0 470.5h0M437.9 464.4h0M461.5 468.5h0M486.8 476.8h0M462.1 467.1h0M488.4 526.1h0M486.9 514.1h0M456.4 468.3h0M471.3 533.8h0M470.2 515.1h0M473.8 465.5h0M456.2 520.4h0M443.2 483.3h0M441.4 485.7h0M467.4 531.4h0M440.9 532.3h0M478.0 479.5h0M442.2 473.1h0M426.9 493.7h0M429.4 471.2h0M494.0 483.2h0M484.1 497.6h0" stroke="#a86c38" stroke-width="2.00" stroke-linecap="round" opacity="0.85"/>
<path d="M428.2 492.3h0M498.5 485.1h0M485.4 478.1h0M480.9 500.3h0M458.4 512.4h0M448.6 513.2h0M417.0 476.4h0M494.5 482.7h0M445.4 495.8h0M466.2 511.6h0M444.7 492.2h0M469.4 525.3h0M467.1 520.6h0M461.1 473.1h0M500.4 490.2h0M458.3 501.6h0M480.0 518.1h0M477.1 467.0h0M488.8 474.4h0M438.2 512.7h0M480.4 473.7h0M473.6 468.8h0M445.7 521.2h0M451.0 465.9h0M466.2 517.5h0M480.2 482.2h0M458.0 514.8h0M467.0 526.4h0M440.0 475.6h0M497.0 503.8h0M440.9 501.8h0M500.3 464.4h0M415.8 480.2h0M440.2 467.9h0M482.1 529.3h0M465.8 532.0h0M414.5 477.8h0M466.3 510.6h0M484.1 522.9h0M439.6 507.9h0M500.8 500.8h0M467.4 524.5h0M453.8 512.1h0M488.2 501.1h0M483.6 466.7h0M490.2 469.1h0M481.7 511.5h0M436.3 523.4h0M437.6 480.6h0M432.3 492.8h0M453.2 519.4h0M465.9 517.3h0M430.2 496.1h0M414.7 504.8h0M483.1 490.3h0M480.9 501.7h0M438.2 494.2h0M446.5 471.9h0M438.5 495.9h0M454.8 518.8h0M473.2 526.3h0M486.2 474.8h0M431.1 495.0h0M493.1 499.9h0M433.2 497.6h0M500.0 511.6h0M436.1 484.7h0" stroke="#c08a58" stroke-width="1.45" stroke-linecap="round" opacity="0.85"/>
<path d="M461.1 521.7h0M449.6 486.6h0M485.0 494.4h0M420.2 484.1h0M488.0 530.1h0M475.1 469.5h0M458.7 467.9h0M470.0 513.8h0M463.9 519.9h0M460.5 519.7h0M466.6 502.4h0M456.0 471.9h0M436.4 486.1h0M415.3 493.5h0M443.3 468.5h0M432.7 464.4h0M438.5 478.2h0M480.0 473.3h0M494.2 509.6h0M483.4 508.8h0M459.1 509.9h0M430.9 474.6h0M494.1 515.1h0M475.0 534.3h0M487.6 509.4h0M467.6 514.3h0M417.5 471.0h0M489.6 527.2h0M429.5 505.9h0M462.2 470.5h0M489.2 481.7h0M438.8 510.1h0M491.2 529.7h0M470.1 531.1h0M480.7 470.3h0M438.7 503.4h0M448.3 495.3h0M431.5 507.6h0M491.5 494.2h0M443.0 490.7h0M422.0 475.8h0M487.5 469.2h0M461.7 502.8h0M446.6 527.5h0M415.0 486.4h0M435.9 502.0h0M421.0 485.9h0M434.3 531.5h0M430.5 468.7h0M448.9 479.8h0M417.8 492.8h0M426.1 468.3h0M476.2 520.7h0M481.9 523.9h0M466.8 528.0h0M457.7 527.5h0M427.5 469.3h0M441.2 509.1h0M477.8 468.0h0M469.7 515.6h0M482.5 495.7h0M486.5 492.8h0M466.9 469.0h0M481.1 507.3h0M488.8 509.1h0M470.7 511.9h0M495.1 476.0h0M492.8 484.5h0M483.7 467.9h0M478.2 511.0h0M435.7 490.5h0M433.5 479.8h0M494.2 500.1h0M475.1 471.5h0M465.4 507.2h0M425.7 476.1h0M446.2 480.8h0M484.8 513.0h0M485.2 465.5h0M449.8 504.0h0M433.6 482.0h0M419.3 483.7h0M453.8 518.3h0M443.8 502.4h0M487.2 489.4h0M440.7 466.9h0M441.9 494.1h0M414.7 481.7h0M455.9 465.2h0M488.3 473.4h0M493.2 464.3h0" stroke="#a86c38" stroke-width="0.90" stroke-linecap="round" opacity="0.85"/>
<path d="M431.8 487.3h0M455.9 512.6h0M476.4 473.1h0M444.8 503.0h0M421.7 494.5h0M435.2 501.6h0M471.9 529.1h0M466.6 507.3h0M415.8 472.7h0M474.6 533.8h0M437.6 474.8h0M434.6 484.7h0M490.9 524.8h0M474.7 517.3h0M441.7 510.0h0M417.8 494.0h0M441.6 477.4h0M490.2 505.3h0M442.6 527.2h0M452.7 507.5h0M414.8 475.4h0M428.4 473.3h0M483.7 513.0h0M471.7 512.2h0M496.9 487.0h0M474.1 531.1h0M432.5 496.6h0M455.6 526.1h0M467.1 529.8h0M440.7 534.5h0M463.7 473.2h0M456.4 524.5h0M498.2 525.0h0M463.2 524.9h0M431.7 470.6h0M415.5 481.3h0M483.9 504.9h0M455.0 504.6h0M480.6 476.8h0M496.2 509.5h0M455.5 502.4h0M490.4 507.6h0M447.9 474.6h0M422.6 490.9h0M466.2 511.7h0M420.4 476.9h0M435.8 498.2h0M497.7 530.4h0M484.1 511.8h0M459.8 519.5h0M446.8 495.7h0M500.9 475.7h0M481.7 512.5h0M453.7 521.5h0M424.3 495.9h0M446.8 466.8h0M423.9 484.7h0M424.5 485.6h0M419.2 507.9h0M461.5 532.5h0M500.9 479.8h0M439.0 471.3h0M472.0 466.0h0M454.9 517.1h0M495.3 513.6h0M447.9 481.7h0M426.4 482.4h0M450.8 523.6h0M421.1 474.0h0M496.5 465.1h0M489.5 470.4h0M471.8 534.2h0M480.1 526.8h0M471.8 516.2h0M493.8 474.6h0M482.9 510.9h0M420.8 478.4h0M493.5 507.8h0M450.7 516.3h0M461.3 528.9h0M425.7 470.2h0M496.9 516.8h0M458.3 529.8h0M435.7 486.3h0M465.0 506.9h0M418.9 474.3h0M479.4 502.1h0M465.7 515.9h0" stroke="#c08a58" stroke-width="2.00" stroke-linecap="round" opacity="0.85"/>
<path d="M433.0 516.3h0M499.2 504.8h0M497.2 478.5h0M416.4 500.2h0M433.2 490.3h0M414.8 496.7h0M452.0 478.7h0M436.2 493.5h0M425.0 471.0h0M427.3 484.1h0M497.8 488.7h0M424.7 480.4h0M500.2 490.0h0M435.7 484.8h0M417.5 480.7h0M437.5 476.8h0M496.7 484.9h0M426.5 482.5h0M479.3 473.1h0M451.0 495.6h0M450.3 521.1h0M495.5 507.4h0M458.2 515.4h0M463.6 510.5h0M424.1 476.8h0M477.9 496.2h0M443.9 509.0h0M443.3 528.9h0M490.4 498.1h0M462.1 510.6h0M494.1 500.2h0M444.1 501.3h0M445.8 482.1h0M465.0 529.9h0M490.8 530.9h0M480.2 519.1h0M486.5 481.5h0M495.5 502.7h0M457.0 506.4h0M433.9 509.0h0M430.5 477.9h0M440.8 478.2h0M451.9 511.6h0M484.9 524.9h0M481.6 478.6h0M492.0 511.7h0M483.6 522.2h0M440.6 516.7h0M480.1 467.2h0M427.8 497.5h0M483.9 464.8h0M493.5 510.5h0M501.5 466.3h0M445.7 511.8h0M482.8 491.1h0M495.0 479.4h0M457.4 508.2h0M458.0 507.0h0M457.7 465.4h0M453.4 513.6h0M420.0 481.1h0M465.8 511.1h0M433.9 468.8h0M422.3 488.1h0M458.4 526.0h0M441.9 504.9h0M463.2 525.5h0M443.6 495.5h0M444.1 495.0h0M420.8 491.4h0M416.6 506.1h0M434.4 510.8h0M497.1 532.7h0M500.6 482.9h0M454.5 500.2h0M451.6 533.8h0M453.3 468.5h0M468.8 466.1h0M416.1 479.6h0M444.4 479.9h0M474.3 524.0h0M462.5 507.7h0M478.3 524.2h0M447.2 520.0h0M440.5 502.2h0M460.6 528.6h0M494.6 493.0h0M453.7 473.6h0M495.0 474.3h0M487.2 496.2h0" stroke="#a86c38" stroke-width="1.45" stroke-linecap="round" opacity="0.85"/>
<path d="M462.0 530.9h0M438.0 508.9h0M484.9 490.8h0M466.9 505.8h0M491.2 483.1h0M436.9 498.4h0M485.3 509.0h0M490.8 496.6h0M486.8 509.9h0M487.1 495.4h0M436.3 513.6h0M485.3 469.6h0M488.1 479.5h0M488.6 502.2h0M461.5 520.4h0M492.0 498.9h0M438.5 508.5h0M437.8 515.4h0M442.5 503.9h0M446.8 506.7h0M432.1 505.9h0M486.8 520.0h0M480.9 474.6h0M480.3 506.5h0M455.6 524.4h0M448.4 464.8h0M481.5 529.1h0M472.8 466.0h0M445.2 532.1h0M416.5 478.7h0M479.3 531.5h0M482.4 524.9h0M477.9 468.9h0M451.4 510.5h0M440.0 513.8h0M423.8 495.8h0M496.2 478.9h0M428.1 477.7h0M450.7 527.9h0M426.4 482.4h0M478.2 512.3h0M477.0 522.5h0M432.4 474.4h0M487.2 475.4h0M490.0 467.2h0M443.7 493.6h0M481.0 493.1h0M465.8 522.4h0M467.6 503.1h0M435.1 467.8h0M485.0 521.1h0M430.7 476.5h0M458.6 504.2h0M443.4 522.6h0M493.5 483.8h0M490.0 496.7h0M497.6 505.6h0M488.6 492.7h0M448.8 495.8h0M430.9 480.0h0M452.0 527.9h0M485.5 477.2h0M414.7 483.8h0M456.6 512.2h0M420.7 476.5h0M418.4 472.7h0M439.9 479.8h0M498.0 510.7h0M499.6 484.9h0M495.4 474.8h0M485.0 476.8h0M446.7 465.1h0M469.9 510.6h0M437.9 480.4h0M477.0 467.2h0M458.9 506.4h0M486.0 481.0h0M467.5 515.5h0M457.3 530.2h0M464.3 518.9h0" stroke="#9a6030" stroke-width="0.90" stroke-linecap="round" opacity="0.85"/>
<path d="M499.8 479.2h0M442.0 474.8h0M451.6 532.7h0M433.9 496.2h0M426.8 482.6h0M488.1 528.4h0M445.1 497.5h0M468.4 503.5h0M497.0 483.2h0M473.9 516.1h0M447.5 505.2h0M454.2 516.8h0M464.7 508.7h0M440.1 471.9h0M493.6 501.7h0M438.3 468.2h0M446.4 510.4h0M432.7 471.0h0M440.6 464.9h0M458.3 508.2h0M495.5 510.5h0M468.7 466.2h0M498.1 468.4h0M468.0 532.4h0M480.9 466.7h0M418.8 479.5h0M431.2 483.9h0M448.2 508.2h0M454.9 527.4h0M448.6 474.7h0M440.4 478.6h0M499.3 488.0h0M433.2 492.1h0M473.8 468.9h0M436.5 472.5h0M453.7 523.0h0M435.5 500.8h0M438.6 504.1h0M478.0 504.0h0M462.9 523.6h0M434.4 479.8h0M415.6 494.4h0M483.0 489.2h0M466.3 503.7h0M436.4 494.7h0M439.5 484.1h0M484.9 505.4h0M455.7 526.1h0M461.9 509.0h0M444.7 508.2h0M441.0 507.4h0M468.1 516.3h0M442.4 530.3h0M479.8 510.9h0M428.0 474.1h0M465.8 517.3h0M486.0 502.2h0M492.5 485.6h0M483.4 494.0h0M416.6 496.1h0M418.2 482.1h0M447.7 513.0h0M494.7 468.0h0M432.8 501.8h0M492.7 490.1h0M481.1 522.1h0M462.2 532.2h0M498.5 490.6h0M441.6 492.0h0M457.1 464.5h0M463.9 520.5h0M451.3 470.3h0M416.4 481.4h0M481.1 498.9h0M494.0 504.1h0M494.0 472.1h0M424.0 487.2h0M433.4 510.5h0M488.5 515.6h0M485.4 481.6h0M484.6 466.4h0M486.3 480.5h0M432.9 465.7h0M417.5 485.7h0M501.6 472.0h0M449.6 516.0h0" stroke="#c08a58" stroke-width="0.90" stroke-linecap="round" opacity="0.85"/>
<path d="M445.4 512.9h0M456.6 507.4h0M479.2 529.3h0M433.1 504.1h0M499.5 526.2h0M458.0 512.4h0M463.8 512.7h0M473.3 516.2h0M495.7 499.4h0M439.8 474.7h0M439.7 497.7h0M494.4 530.0h0M422.6 490.1h0M436.4 487.9h0M473.3 466.3h0M460.8 520.3h0M461.0 530.6h0M481.7 505.7h0M501.3 493.4h0M487.3 480.9h0M444.7 496.0h0M490.4 511.1h0M444.1 517.1h0M447.1 476.6h0M476.6 469.3h0M432.4 479.5h0M450.6 501.6h0M500.6 526.5h0M473.4 525.0h0M415.0 476.6h0M433.5 481.8h0M481.0 525.3h0M452.2 496.9h0M441.2 517.3h0M495.4 489.1h0M450.1 475.9h0M496.6 527.1h0M476.6 468.9h0M476.5 483.2h0M439.4 507.1h0M472.8 504.9h0M484.8 502.5h0M492.5 481.6h0M476.6 521.6h0M490.9 520.4h0M446.7 467.6h0M416.4 480.1h0M456.8 517.8h0M489.0 470.5h0M473.1 512.4h0M444.5 472.7h0M440.3 482.8h0M457.6 501.6h0M479.6 524.1h0M456.6 528.5h0M450.2 517.1h0M490.0 466.5h0M458.0 521.6h0M430.6 476.6h0M448.1 494.7h0M494.4 483.1h0M448.3 496.5h0M488.4 497.2h0M462.0 466.9h0M422.1 491.8h0M434.4 503.5h0M433.6 491.3h0M493.0 513.3h0M471.8 503.7h0M437.9 481.7h0M443.9 511.8h0M440.8 523.4h0M422.8 475.5h0M419.8 488.7h0M493.0 470.1h0M432.0 480.1h0M456.5 520.8h0M488.5 472.2h0M453.3 504.8h0M448.7 511.9h0M437.4 482.4h0" stroke="#a26634" stroke-width="0.90" stroke-linecap="round" opacity="0.85"/>
<path d="M482.8 506.2h0M469.3 505.9h0M418.6 485.6h0M494.4 491.3h0M440.7 487.7h0M483.1 505.0h0M454.4 464.8h0M432.9 486.2h0M492.3 466.9h0M461.2 519.0h0M440.8 496.5h0M430.0 503.8h0M420.5 493.5h0M427.4 465.0h0M443.2 468.9h0M490.6 532.4h0M460.0 468.5h0M463.1 516.2h0M468.0 514.6h0M460.3 519.0h0M438.5 527.0h0M457.0 506.8h0M450.4 523.8h0M415.5 487.2h0M447.1 469.1h0M486.3 512.3h0M428.7 479.2h0M424.8 484.3h0M444.4 490.6h0M422.3 498.6h0M461.7 465.4h0M490.8 488.3h0M428.2 479.6h0M444.7 487.2h0M488.7 531.4h0M460.4 511.1h0M454.8 524.1h0M432.0 474.6h0M438.3 491.7h0M434.6 483.6h0M445.9 502.3h0M455.5 515.4h0M479.6 512.8h0M482.6 509.6h0M446.8 482.1h0M435.5 484.1h0M483.9 526.6h0M483.9 473.1h0M497.3 472.2h0M489.3 502.4h0M428.3 502.6h0M483.1 465.4h0M489.9 482.0h0M482.5 488.3h0M467.3 467.5h0M464.4 530.5h0M491.9 472.5h0M453.7 516.1h0M488.2 523.0h0M486.4 480.0h0M468.2 530.8h0M435.0 491.5h0M464.7 534.0h0M461.9 530.4h0M442.0 476.3h0M496.8 520.4h0M501.6 512.2h0M448.1 507.9h0M470.7 474.4h0M438.8 468.3h0M480.8 468.7h0M418.5 481.4h0M422.3 488.4h0M444.1 480.8h0M500.2 474.2h0M436.6 475.0h0M421.2 486.3h0M488.5 491.0h0M496.5 532.5h0M449.0 479.8h0M496.6 476.4h0M433.5 474.9h0M461.4 524.0h0M453.4 522.2h0M477.3 517.6h0M474.8 464.5h0M417.5 485.6h0M423.6 504.6h0M435.3 472.0h0" stroke="#a26634" stroke-width="2.00" stroke-linecap="round" opacity="0.85"/>
<path d="M469.8 509.1h0M482.0 506.4h0M492.1 508.7h0M492.8 466.3h0M497.4 501.5h0M489.6 515.1h0M471.6 523.8h0M423.3 496.6h0M452.3 512.1h0M437.2 487.7h0M476.0 507.9h0M437.1 499.0h0M423.9 499.8h0M496.4 482.4h0M478.3 472.4h0M415.1 473.8h0M451.5 497.4h0M421.9 486.5h0M483.3 479.5h0M454.4 475.8h0M491.5 485.4h0M427.1 482.7h0M472.8 468.8h0M462.6 470.6h0M442.7 477.7h0M432.6 467.7h0M478.1 527.3h0M431.5 479.6h0M454.4 533.9h0M435.8 480.1h0M472.8 468.8h0M418.3 479.3h0M481.5 515.2h0M448.6 475.0h0M440.9 520.6h0M495.0 506.7h0M439.0 503.3h0M432.1 483.0h0M433.5 488.9h0M489.0 479.4h0M465.2 472.3h0M442.3 481.3h0M456.1 533.8h0M499.8 483.2h0M488.2 479.7h0M440.0 524.6h0M447.0 486.3h0M427.7 467.8h0M501.4 470.0h0M475.8 466.8h0M433.9 482.8h0M484.6 520.0h0M462.3 514.7h0M464.3 511.1h0M478.8 515.7h0M451.1 470.2h0M470.2 534.0h0M462.4 523.1h0M464.1 519.9h0M496.2 511.6h0M499.3 470.8h0M425.9 497.8h0M439.5 531.0h0M476.2 521.0h0M442.4 496.6h0M482.4 488.7h0M481.5 520.2h0M439.9 493.1h0M415.4 503.6h0M425.3 471.0h0M421.4 483.2h0M482.7 485.9h0M482.6 520.8h0M471.0 505.8h0M430.9 491.2h0M482.8 518.1h0M442.0 511.7h0M494.4 485.2h0M416.4 506.0h0M424.7 498.4h0M449.6 473.9h0M477.7 469.2h0M445.1 503.7h0M441.9 528.9h0M476.2 505.7h0M464.9 464.4h0M458.1 513.0h0M423.6 502.0h0M438.6 498.5h0M486.1 468.9h0M471.8 504.3h0M457.7 501.5h0M471.1 510.5h0M482.6 479.8h0M431.9 466.9h0M431.9 495.3h0M483.0 509.0h0M418.7 490.3h0M446.8 526.4h0M481.6 521.6h0M477.7 474.6h0M479.0 464.3h0M428.7 496.4h0M425.0 481.2h0M493.9 497.3h0M459.2 509.0h0M466.0 513.7h0M417.4 495.9h0M422.5 492.1h0M445.7 502.2h0M442.2 494.5h0" stroke="#b87e48" stroke-width="0.90" stroke-linecap="round" opacity="0.85"/>
<path d="M480.0 529.4h0M415.8 496.6h0M449.6 506.0h0M481.2 513.1h0M435.2 470.7h0M421.9 481.8h0M478.4 526.1h0M432.6 476.7h0M447.6 505.2h0M466.9 512.5h0M477.3 526.1h0M492.1 503.8h0M441.6 503.6h0M437.0 495.1h0M486.0 515.5h0M478.0 507.0h0M440.6 525.2h0M431.3 471.8h0M464.5 503.7h0M471.9 516.4h0M480.8 465.0h0M478.0 487.5h0M499.7 511.6h0M498.3 468.9h0M493.1 497.7h0M439.4 470.4h0M483.2 498.6h0M445.1 482.2h0M481.8 467.3h0M458.9 465.1h0M486.5 500.6h0M450.1 495.4h0M420.3 490.7h0M488.4 469.0h0M484.3 490.4h0M494.2 507.0h0M422.2 474.6h0M469.0 467.9h0M448.7 505.9h0M464.8 529.3h0M444.8 475.6h0M489.8 505.2h0M479.1 511.3h0M445.0 496.8h0M436.0 465.6h0M468.3 466.4h0M492.1 494.9h0M433.3 484.4h0M492.9 509.4h0M465.6 517.4h0M459.3 514.5h0M435.4 506.1h0M435.4 473.8h0M491.4 519.8h0M445.9 469.2h0M485.0 481.1h0M463.7 533.9h0M454.0 533.2h0M438.6 497.7h0M456.3 514.2h0M481.0 499.1h0M489.8 487.6h0M471.7 465.5h0M448.0 517.5h0M474.7 467.4h0M481.8 513.4h0M461.0 517.9h0M486.8 473.9h0M493.1 465.5h0M490.8 520.8h0M497.4 491.4h0M493.1 478.5h0M493.4 476.2h0M432.9 496.6h0M417.0 470.9h0M499.7 471.9h0" stroke="#a26634" stroke-width="1.45" stroke-linecap="round" opacity="0.85"/>
<path d="M482.7 499.9h0M436.2 478.1h0M495.1 473.5h0M448.8 507.5h0M442.1 503.1h0M453.1 514.2h0M478.2 497.5h0M452.5 515.1h0M425.0 498.6h0M442.3 489.7h0M436.9 480.2h0M434.3 514.6h0M441.1 518.1h0M438.3 521.7h0M460.9 510.1h0M423.6 480.1h0M451.2 497.7h0M496.8 474.9h0M479.3 496.1h0M470.1 525.0h0M493.4 509.2h0M478.0 523.9h0M500.5 479.3h0M418.3 474.2h0M491.4 493.9h0M449.2 501.9h0M490.5 469.1h0M453.7 516.8h0M442.2 475.9h0M494.1 528.8h0M487.4 485.1h0M448.2 508.8h0M479.2 525.7h0M496.9 510.7h0M417.9 483.7h0M439.8 481.6h0M418.0 469.1h0M494.5 483.8h0M433.4 489.0h0M472.8 521.3h0M492.0 521.5h0M499.3 533.9h0M475.1 521.2h0M444.1 508.1h0M444.1 493.2h0M444.8 509.5h0M434.4 504.7h0M491.4 512.0h0M469.1 467.7h0M459.7 532.6h0M490.9 523.8h0M456.7 467.5h0M419.1 492.1h0M493.1 492.2h0M444.5 476.3h0M446.4 528.6h0M428.1 487.3h0M423.7 472.1h0M428.6 468.0h0M463.3 520.8h0M445.3 468.2h0M465.8 517.1h0M433.9 468.0h0M482.6 502.2h0M420.0 475.1h0M427.5 472.1h0M429.9 496.2h0M448.1 509.9h0M435.9 488.6h0M441.1 512.1h0M433.7 519.7h0M434.7 470.2h0" stroke="#9a6030" stroke-width="2.00" stroke-linecap="round" opacity="0.85"/>
</g>
<clipPath id="g8"><rect x="322.7" y="538.2" width="87.9" height="70.29999999999995"/></clipPath><g clip-path="url(#g8)">
<rect x="322.70" y="538.20" width="87.90" height="70.30" fill="#d6d7ec" />
<rect x="322.70" y="538.20" width="87.90" height="70.30" fill="#000" filter="url(#slav)" opacity="0.3"/>
<rect x="322.70" y="538.20" width="87.90" height="70.30" fill="#000" filter="url(#swl)" opacity="0.6"/>
<path d="M333.2 594.3h0M370.5 597.4h0M383.7 561.4h0M383.2 548.9h0M327.4 547.2h0M335.3 544.3h0M328.7 544.5h0M388.1 582.2h0M397.9 557.6h0M348.5 571.0h0M324.0 567.2h0M394.6 592.1h0M385.1 572.9h0M399.6 573.5h0M328.2 587.3h0M382.8 581.6h0M338.7 558.4h0M342.1 538.9h0M351.7 545.1h0M353.0 549.4h0M338.5 587.8h0M337.1 593.0h0M403.2 538.6h0M372.4 597.4h0M391.0 604.6h0M352.9 606.6h0M397.4 565.9h0" stroke="#7c78ae" stroke-width="0.70" stroke-linecap="round" opacity="0.70"/>
<path d="M406.6 598.0h0M383.0 552.4h0M391.8 606.7h0M350.1 589.2h0M352.0 538.7h0M400.0 600.3h0M361.6 598.4h0M349.7 559.8h0M380.7 557.6h0M342.5 585.8h0M388.4 579.7h0M337.0 596.1h0M382.7 563.3h0M383.4 555.5h0M355.1 543.2h0M352.7 556.4h0M333.5 565.2h0M396.6 573.6h0M372.2 561.6h0M364.5 586.8h0M333.7 601.0h0M401.5 587.0h0M403.4 575.0h0M387.9 605.5h0M358.9 542.3h0M400.7 541.0h0M408.6 579.5h0M356.4 580.0h0" stroke="#7c78ae" stroke-width="1.05" stroke-linecap="round" opacity="0.70"/>
<path d="M388.9 582.3h0M407.3 559.9h0M361.5 588.5h0M335.8 600.8h0M400.0 602.0h0M389.0 576.7h0M398.8 539.5h0M393.2 551.3h0M356.5 607.6h0M352.4 549.8h0M391.2 571.2h0M369.8 572.3h0M362.0 567.7h0M398.9 573.4h0M388.5 599.9h0M360.1 595.1h0M350.5 554.3h0M384.1 566.6h0M388.1 602.5h0M336.8 589.8h0M363.0 550.9h0M380.1 564.7h0M382.3 557.1h0M363.5 600.6h0M410.0 591.2h0M406.8 555.6h0M406.9 555.4h0M351.6 588.7h0M374.4 557.7h0" stroke="#8a86b8" stroke-width="0.70" stroke-linecap="round" opacity="0.70"/>
<path d="M395.8 585.5h0M326.3 539.8h0M371.1 557.0h0M385.0 541.8h0M335.2 588.4h0M362.0 596.4h0M364.2 549.9h0M401.3 585.8h0M326.0 608.0h0M408.8 605.3h0M353.2 540.0h0M328.1 600.1h0M397.9 579.0h0M353.2 590.7h0M350.7 585.1h0" stroke="#7c78ae" stroke-width="1.40" stroke-linecap="round" opacity="0.70"/>
<path d="M363.1 588.6h0M368.0 586.3h0M333.1 545.0h0M330.0 545.0h0M328.7 552.5h0M369.4 573.4h0M345.7 561.0h0M358.9 549.4h0M353.4 605.8h0M410.5 575.8h0M389.2 590.9h0M336.7 542.4h0M375.8 591.0h0M345.3 593.4h0M322.9 585.2h0M410.0 551.0h0M406.3 568.0h0M402.9 541.7h0M400.5 591.5h0M395.1 565.5h0M390.1 601.0h0M349.9 544.6h0M359.7 592.2h0M365.0 608.1h0M381.1 542.5h0M371.5 596.8h0M359.3 555.8h0M367.0 571.6h0M335.6 550.9h0M335.6 545.5h0M376.0 606.3h0M325.5 550.6h0M359.8 540.0h0M393.6 543.9h0M357.4 561.5h0M388.5 579.4h0M326.8 551.3h0M374.1 550.4h0M389.1 555.5h0M330.7 600.0h0M406.3 546.5h0" stroke="#9d99c6" stroke-width="0.70" stroke-linecap="round" opacity="0.70"/>
<path d="M323.5 594.1h0M359.0 540.3h0M405.6 580.9h0M373.9 587.7h0M323.7 589.9h0M338.3 548.3h0M409.5 598.1h0M330.3 593.8h0M369.9 608.0h0M325.6 539.1h0M386.2 576.8h0M389.8 577.0h0M357.7 571.4h0M351.0 589.9h0M324.2 546.5h0M350.8 555.5h0M370.7 543.6h0M390.5 567.9h0M395.7 584.0h0M400.3 564.3h0M325.6 566.2h0M333.7 568.5h0M398.6 577.1h0M400.5 554.1h0M343.0 547.1h0M391.3 591.0h0M358.0 543.5h0M330.9 552.5h0M334.0 568.0h0" stroke="#9d99c6" stroke-width="1.05" stroke-linecap="round" opacity="0.70"/>
<path d="M360.1 608.5h0M342.3 569.6h0M410.2 539.4h0M324.3 585.0h0M342.0 556.8h0M349.9 597.6h0M381.4 551.1h0M404.9 603.7h0M349.4 578.0h0M333.7 560.2h0M371.1 575.5h0M350.0 584.4h0M329.5 605.6h0M385.6 571.1h0M409.5 555.9h0M380.0 585.2h0M392.9 547.7h0M404.2 553.5h0M381.4 604.0h0M367.1 595.0h0M335.1 563.4h0M390.9 600.7h0M369.1 607.2h0M391.3 592.9h0M397.7 568.4h0M331.1 607.0h0M341.0 567.3h0M397.7 598.9h0M372.2 593.2h0M376.6 607.6h0M333.9 587.5h0M348.9 592.5h0" stroke="#8a86b8" stroke-width="1.05" stroke-linecap="round" opacity="0.70"/>
<path d="M330.8 580.7h0M372.6 607.8h0M402.2 604.7h0M342.4 595.5h0M367.5 597.8h0M328.4 574.5h0M394.2 555.1h0M367.3 545.1h0M397.0 582.9h0M354.8 595.0h0M326.7 585.4h0M348.7 558.8h0M325.1 552.5h0M405.6 552.8h0M382.4 550.6h0M390.6 571.5h0M350.3 586.1h0M375.0 570.8h0M384.6 540.1h0M339.2 601.4h0M386.2 573.7h0M349.2 538.4h0M336.2 564.5h0M331.5 564.4h0" stroke="#9d99c6" stroke-width="1.40" stroke-linecap="round" opacity="0.70"/>
<path d="M378.6 594.8h0M324.1 548.0h0M342.7 602.4h0M336.7 544.9h0M371.2 561.5h0M383.1 604.2h0M400.3 542.5h0M395.2 540.0h0M371.5 541.4h0M398.9 603.0h0M398.9 569.4h0M364.2 593.0h0M360.2 577.0h0M397.3 587.6h0M377.2 599.1h0M348.1 598.3h0M355.4 577.8h0M350.7 607.0h0M364.7 543.0h0M388.6 547.4h0M396.3 566.6h0M406.7 538.8h0M410.2 607.4h0M323.6 540.5h0M345.0 557.9h0M384.1 553.6h0M370.2 544.3h0M395.0 553.8h0M326.6 538.9h0M325.6 556.4h0M347.7 593.3h0M360.2 538.7h0M402.5 581.2h0M377.4 594.2h0M338.6 569.6h0" stroke="#8a86b8" stroke-width="1.40" stroke-linecap="round" opacity="0.70"/>
<path d="M352,572 C352.5,568.5 356.5,567.5 359.5,568.5 C362.5,569.5 363.5,573 362.8,576 C362,579 357.5,579.5 355,578.2 C352.8,577 351.8,574.5 352,572 Z" fill="#f7f7fb"/>
</g>
<clipPath id="g9"><rect x="414.4" y="538.2" width="87.3" height="70.29999999999995"/></clipPath><g clip-path="url(#g9)">
<rect x="414.40" y="538.20" width="87.30" height="70.30" fill="#dcdcee" />
<rect x="414.40" y="538.20" width="87.30" height="70.30" fill="#000" filter="url(#slav)" opacity="0.3"/>
<rect x="414.40" y="538.20" width="87.30" height="70.30" fill="#000" filter="url(#swl)" opacity="0.7"/>
<path d="M494.5 555.9h0M453.6 592.1h0M419.7 549.9h0M447.1 590.3h0M445.7 581.6h0M491.3 583.6h0M418.0 586.6h0M495.1 549.9h0M456.6 569.1h0M442.6 600.3h0M429.4 579.5h0M500.8 580.5h0M465.0 591.3h0M491.6 565.3h0M484.2 566.8h0M463.1 575.5h0M466.5 579.4h0M483.5 589.8h0M427.9 547.1h0M471.1 542.1h0M468.4 598.0h0M479.9 575.8h0" stroke="#8a86b8" stroke-width="0.70" stroke-linecap="round" opacity="0.70"/>
<path d="M475.6 600.8h0M465.9 577.4h0M476.4 571.8h0M483.6 555.5h0M448.8 596.7h0M488.8 587.0h0M417.7 566.3h0M433.5 575.2h0M415.7 561.1h0M444.9 601.5h0M433.5 559.8h0M459.4 589.8h0M491.7 572.1h0M469.8 590.0h0M480.1 568.3h0M485.0 541.5h0M422.5 538.3h0M450.4 559.2h0M487.1 597.4h0M501.6 586.0h0M414.5 602.8h0M438.5 588.3h0M426.2 541.7h0M467.7 564.4h0M414.8 542.9h0M496.1 543.2h0M494.3 583.3h0M436.9 588.2h0M429.2 573.1h0M463.1 593.1h0M445.1 551.7h0" stroke="#8a86b8" stroke-width="1.05" stroke-linecap="round" opacity="0.70"/>
<path d="M464.3 549.3h0M460.4 551.7h0M487.9 547.8h0M446.9 574.6h0M450.2 598.5h0M433.4 591.6h0M442.6 539.7h0M455.8 604.5h0M432.4 587.1h0M431.0 564.1h0M473.6 562.4h0M447.5 598.0h0M471.9 601.6h0M496.2 586.4h0M436.7 591.2h0M438.1 599.9h0M427.2 563.0h0M449.2 606.1h0M467.7 579.7h0M486.1 579.5h0M497.9 559.6h0M440.3 539.0h0M434.1 544.3h0M487.1 590.5h0" stroke="#7c78ae" stroke-width="1.40" stroke-linecap="round" opacity="0.70"/>
<path d="M493.2 560.4h0M430.1 603.4h0M481.8 572.2h0M425.3 579.3h0M429.1 549.4h0M415.2 545.7h0M422.6 605.0h0M495.0 590.8h0M432.3 599.2h0M426.4 552.3h0M494.3 552.0h0M456.0 567.7h0M439.9 582.0h0M481.9 564.2h0M422.4 589.2h0M482.6 571.7h0M495.1 601.6h0M466.1 555.5h0M495.9 551.1h0M432.4 597.2h0M459.6 601.3h0M422.2 567.7h0M485.2 603.6h0M428.6 599.8h0M501.6 605.7h0M467.2 565.4h0M446.2 582.3h0M431.3 570.5h0M482.5 572.9h0M489.8 579.9h0" stroke="#9d99c6" stroke-width="0.70" stroke-linecap="round" opacity="0.70"/>
<path d="M445.3 554.4h0M416.0 573.9h0M429.1 600.3h0M426.1 566.2h0M452.0 551.2h0M468.5 547.7h0M499.6 599.4h0M431.8 568.0h0M439.1 544.7h0M491.2 595.1h0M481.5 550.0h0M480.8 539.0h0M498.5 562.9h0M417.3 542.4h0M416.2 606.8h0M434.3 555.6h0M453.9 583.7h0M474.0 569.3h0M455.1 576.1h0M469.4 551.1h0M482.1 606.4h0M463.6 547.3h0M450.0 551.5h0M442.4 577.1h0M462.9 570.8h0M471.4 584.5h0M470.7 596.7h0M441.4 594.1h0M478.3 595.2h0M478.0 595.0h0" stroke="#9d99c6" stroke-width="1.05" stroke-linecap="round" opacity="0.70"/>
<path d="M415.3 544.8h0M440.5 585.0h0M499.1 573.5h0M475.5 576.1h0M498.4 600.1h0M470.9 539.5h0M420.9 590.0h0M433.6 564.3h0M451.8 561.8h0M471.4 607.0h0M482.5 580.6h0M492.6 597.9h0M471.9 600.2h0M482.2 559.9h0M485.8 571.3h0M438.9 543.9h0M440.8 547.9h0M454.9 570.4h0M497.7 554.7h0M428.6 608.5h0M428.3 548.8h0M472.1 539.6h0M454.4 555.7h0M485.4 544.9h0M501.1 568.3h0M464.3 607.0h0M418.9 572.7h0M441.9 542.8h0M487.5 567.3h0M420.6 571.3h0" stroke="#7c78ae" stroke-width="0.70" stroke-linecap="round" opacity="0.70"/>
<path d="M481.8 545.3h0M470.1 556.5h0M457.4 565.1h0M439.5 578.5h0M471.9 598.5h0M464.4 552.6h0M481.0 578.8h0M429.9 597.0h0M473.1 578.0h0M453.7 608.1h0M483.0 595.3h0M482.7 587.0h0M447.3 583.3h0M424.4 542.0h0M432.2 574.3h0M469.0 570.3h0M463.9 572.3h0M440.7 555.6h0M460.5 551.5h0M427.2 581.6h0M428.3 593.4h0M425.3 604.1h0M488.3 558.3h0M456.6 555.0h0M414.5 562.5h0" stroke="#8a86b8" stroke-width="1.40" stroke-linecap="round" opacity="0.70"/>
<path d="M488.7 572.3h0M485.9 582.4h0M444.1 588.6h0M498.2 557.5h0M429.4 592.7h0M441.0 553.4h0M478.8 543.8h0M478.1 584.9h0M429.4 567.1h0M483.2 580.8h0M486.7 541.9h0M424.4 583.4h0M455.4 601.1h0M489.3 545.2h0M454.2 605.4h0M454.1 597.3h0M475.2 587.0h0M454.2 556.6h0M481.2 592.0h0M451.3 596.6h0M439.0 592.7h0M419.9 562.1h0M497.0 576.9h0M430.5 583.7h0M501.2 567.8h0M438.9 553.5h0M421.5 539.0h0M419.5 581.1h0M447.2 547.5h0M418.1 563.1h0M453.8 573.2h0M465.5 547.3h0M415.9 574.5h0M442.5 601.5h0M426.0 579.8h0M443.8 554.5h0M496.7 577.5h0M468.1 567.0h0M430.1 541.4h0M477.5 579.7h0" stroke="#9d99c6" stroke-width="1.40" stroke-linecap="round" opacity="0.70"/>
<path d="M470.0 593.4h0M495.7 548.3h0M489.4 552.9h0M416.1 544.3h0M468.1 551.5h0M430.4 600.2h0M486.3 578.5h0M444.0 573.4h0M473.1 541.7h0M438.5 570.3h0M447.2 576.3h0M490.9 591.3h0M500.6 539.9h0M457.2 577.7h0M481.7 605.5h0M494.1 590.4h0M458.2 603.4h0M458.7 578.9h0M493.8 578.3h0M485.6 593.7h0M415.8 555.3h0M417.8 566.5h0M418.7 604.8h0M434.2 540.6h0M471.1 598.5h0M425.9 538.5h0M498.6 584.4h0M467.2 543.4h0" stroke="#7c78ae" stroke-width="1.05" stroke-linecap="round" opacity="0.70"/>
<path d="M437.1 588.7h0M458.5 606.0h0M471.9 546.0h0M427.2 560.2h0M436.1 587.6h0M415.8 564.5h0M414.9 602.0h0M491.8 544.4h0M431.4 560.9h0M462.1 538.7h0M483.0 547.6h0M492.0 538.8h0M492.8 557.2h0M415.6 541.0h0M453.7 583.4h0M435.5 538.5h0" stroke="#c08a58" stroke-width="1.60" stroke-linecap="round" opacity="0.70"/>
<path d="M472.8 555.7h0M449.3 604.9h0M437.4 539.7h0M461.3 577.1h0M476.5 559.0h0M479.9 558.5h0M424.9 598.6h0M420.3 554.4h0M419.1 575.2h0M437.6 598.3h0M435.2 551.0h0M448.3 541.7h0" stroke="#a86c38" stroke-width="1.60" stroke-linecap="round" opacity="0.70"/>
<path d="M494.9 541.5h0M422.3 601.6h0M464.7 567.8h0M426.0 606.2h0M451.3 595.1h0M432.7 579.7h0M437.4 585.3h0M442.5 591.8h0M438.7 547.9h0M419.4 603.3h0M494.2 572.8h0M475.5 540.6h0M431.1 573.9h0M464.6 564.2h0M451.0 563.2h0" stroke="#c08a58" stroke-width="1.15" stroke-linecap="round" opacity="0.70"/>
<path d="M414.6 558.2h0M421.5 576.1h0M417.2 608.1h0M489.8 585.9h0M486.2 578.4h0M467.5 562.0h0M443.2 600.4h0M439.6 541.0h0M447.2 598.6h0M472.0 580.7h0M455.7 591.5h0M415.6 558.0h0M474.2 568.9h0M429.5 600.7h0" stroke="#b87e48" stroke-width="1.60" stroke-linecap="round" opacity="0.70"/>
<path d="M492.3 594.5h0M442.2 560.1h0M448.6 549.3h0M422.5 597.2h0M479.8 543.4h0M442.3 590.7h0M490.1 580.2h0M463.6 549.7h0M447.4 540.6h0M473.7 590.8h0M500.6 552.3h0M479.7 578.6h0" stroke="#9a6030" stroke-width="1.60" stroke-linecap="round" opacity="0.70"/>
<path d="M500.4 608.1h0M486.8 564.3h0M474.9 603.3h0M419.2 589.0h0M488.4 594.5h0M436.9 569.1h0M468.3 554.2h0M456.8 579.4h0M433.3 547.5h0" stroke="#a26634" stroke-width="0.70" stroke-linecap="round" opacity="0.70"/>
<path d="M495.0 588.2h0M472.0 575.8h0M476.3 552.7h0M490.0 543.7h0M444.3 594.5h0M495.0 563.7h0M466.1 607.7h0M441.9 566.8h0M493.1 566.7h0M452.2 555.2h0M490.1 584.0h0M464.0 581.0h0M414.7 577.5h0M483.5 559.1h0M436.4 538.5h0M460.4 602.1h0" stroke="#b87e48" stroke-width="0.70" stroke-linecap="round" opacity="0.70"/>
<path d="M465.8 565.9h0M444.3 567.6h0M501.0 541.2h0M470.2 548.3h0M455.2 580.2h0M500.1 579.7h0M446.3 543.2h0M462.5 553.7h0M436.9 565.0h0M427.9 566.0h0M421.7 566.4h0" stroke="#a86c38" stroke-width="0.70" stroke-linecap="round" opacity="0.70"/>
<path d="M435.2 564.3h0M499.9 588.5h0M437.6 538.8h0M422.3 577.4h0M495.9 543.8h0M495.9 549.4h0M495.2 607.2h0M428.1 576.7h0M426.4 551.8h0M444.2 588.5h0M475.2 542.7h0M482.1 565.4h0" stroke="#a26634" stroke-width="1.60" stroke-linecap="round" opacity="0.70"/>
<path d="M495.8 580.7h0M473.6 571.7h0M496.0 584.7h0M424.9 576.7h0M469.3 575.4h0M463.9 542.2h0M470.0 575.6h0M465.8 581.8h0M426.9 567.5h0M475.8 559.6h0M474.1 566.8h0" stroke="#9a6030" stroke-width="1.15" stroke-linecap="round" opacity="0.70"/>
<path d="M480.9 597.3h0M464.6 596.2h0M418.7 588.6h0M427.4 572.9h0M441.4 567.9h0M447.0 550.8h0M491.5 594.1h0M466.7 587.8h0M419.4 584.4h0" stroke="#a86c38" stroke-width="1.15" stroke-linecap="round" opacity="0.70"/>
<path d="M485.2 564.8h0M478.3 563.9h0M443.3 560.8h0M487.9 580.3h0M484.7 543.4h0" stroke="#9a6030" stroke-width="0.70" stroke-linecap="round" opacity="0.70"/>
<path d="M494.6 601.1h0M418.6 603.4h0M435.0 566.1h0M440.3 598.9h0M488.4 566.6h0M418.7 551.3h0M436.3 607.9h0M488.0 586.7h0M495.5 589.5h0M469.4 544.2h0M487.7 542.4h0" stroke="#c08a58" stroke-width="0.70" stroke-linecap="round" opacity="0.70"/>
<path d="M501.5 547.5h0M480.9 566.2h0M499.0 566.9h0M474.7 580.6h0M477.0 565.9h0M433.0 549.1h0M429.2 573.6h0M495.2 597.4h0M468.2 577.7h0" stroke="#b87e48" stroke-width="1.15" stroke-linecap="round" opacity="0.70"/>
<path d="M481.4 570.5h0M445.2 608.1h0M475.0 607.6h0M433.5 604.2h0M451.8 567.7h0M439.1 569.7h0M448.6 591.1h0M451.8 569.4h0" stroke="#a26634" stroke-width="1.15" stroke-linecap="round" opacity="0.70"/>
<path d="M442.6 591.0h0M489.0 590.0h0M482.4 585.1h0M441.8 591.0h0M438.2 586.3h0M478.3 580.6h0M452.4 574.6h0M437.2 574.9h0M490.0 568.8h0M443.5 591.3h0M441.1 543.7h0" stroke="#9a6030" stroke-width="1.30" stroke-linecap="round" opacity="0.80"/>
<path d="M450.6 575.5h0M439.1 584.2h0M439.9 545.9h0M445.3 585.8h0M441.7 586.3h0M451.4 589.3h0M446.8 586.0h0M432.5 592.8h0M441.2 544.0h0M449.3 594.9h0M491.7 575.1h0M438.4 573.2h0M487.9 587.8h0" stroke="#a86c38" stroke-width="1.80" stroke-linecap="round" opacity="0.80"/>
<path d="M438.0 583.9h0M445.1 593.9h0M439.8 584.3h0M446.4 598.6h0M450.9 573.9h0M445.1 581.9h0M441.7 586.3h0M442.7 543.3h0" stroke="#b87e48" stroke-width="0.80" stroke-linecap="round" opacity="0.80"/>
<path d="M435.8 592.1h0M437.4 587.9h0M437.8 580.8h0M478.5 584.4h0M488.1 579.7h0M483.3 583.4h0M434.0 581.3h0M483.1 583.1h0M447.0 592.1h0" stroke="#a86c38" stroke-width="1.30" stroke-linecap="round" opacity="0.80"/>
<path d="M491.1 576.6h0M482.4 579.6h0M493.5 585.2h0M443.7 588.3h0M450.3 567.4h0M447.9 581.5h0M446.3 595.2h0M438.2 594.5h0M433.7 568.2h0M448.6 603.0h0M448.5 579.0h0M432.7 581.2h0" stroke="#a26634" stroke-width="1.80" stroke-linecap="round" opacity="0.80"/>
<path d="M481.0 574.1h0M448.0 595.8h0M491.1 573.4h0M480.4 574.6h0M445.0 573.7h0M490.8 576.8h0M493.8 582.4h0M475.8 580.0h0M437.4 584.4h0M487.6 582.9h0M493.4 575.4h0M492.3 594.3h0" stroke="#c08a58" stroke-width="0.80" stroke-linecap="round" opacity="0.80"/>
<path d="M442.2 585.7h0M439.6 544.9h0M490.3 579.5h0M490.9 580.5h0M482.5 595.9h0M456.7 599.3h0M446.6 590.4h0M488.0 583.1h0M436.1 578.5h0M481.7 582.0h0M481.8 575.5h0M439.5 593.7h0M481.5 584.7h0M434.9 578.6h0" stroke="#a86c38" stroke-width="0.80" stroke-linecap="round" opacity="0.80"/>
<path d="M457.0 581.6h0M439.7 579.2h0M435.9 583.2h0M436.7 583.4h0M447.2 588.1h0M451.7 586.7h0M490.2 577.3h0M456.6 589.7h0M485.8 588.7h0M433.2 579.6h0M441.8 577.7h0M442.1 582.2h0" stroke="#c08a58" stroke-width="1.30" stroke-linecap="round" opacity="0.80"/>
<path d="M447.7 581.2h0M450.9 585.4h0M441.4 589.3h0M488.5 585.7h0M441.5 576.1h0M451.1 584.3h0M436.1 577.7h0M442.7 587.8h0M432.4 584.5h0M444.5 593.5h0M483.7 582.1h0M429.4 584.6h0M447.4 586.5h0M434.1 578.8h0M437.3 596.1h0" stroke="#b87e48" stroke-width="1.80" stroke-linecap="round" opacity="0.80"/>
<path d="M479.4 576.7h0M450.5 602.3h0M432.2 595.9h0M453.7 574.1h0M448.7 589.1h0M445.3 602.2h0M443.1 584.3h0" stroke="#b87e48" stroke-width="1.30" stroke-linecap="round" opacity="0.80"/>
<path d="M428.9 596.6h0M443.0 587.8h0M439.2 585.4h0M431.7 590.8h0M428.8 596.0h0M438.0 585.3h0M493.1 593.0h0M484.3 584.2h0M432.1 594.3h0M446.2 583.3h0M449.0 589.2h0" stroke="#9a6030" stroke-width="0.80" stroke-linecap="round" opacity="0.80"/>
<path d="M442.3 543.5h0M477.3 580.1h0M441.3 588.8h0M441.2 582.2h0M442.2 575.8h0M449.8 585.5h0M441.1 582.5h0M435.8 572.1h0" stroke="#a26634" stroke-width="1.30" stroke-linecap="round" opacity="0.80"/>
<path d="M484.9 599.8h0M477.5 581.5h0M492.5 580.4h0M473.3 590.3h0M450.0 586.2h0M443.9 605.5h0M436.2 594.3h0" stroke="#c08a58" stroke-width="1.80" stroke-linecap="round" opacity="0.80"/>
<path d="M453.2 589.6h0M485.2 588.1h0M491.6 594.6h0M446.9 605.2h0M435.5 586.4h0M436.2 590.4h0M449.8 601.9h0" stroke="#a26634" stroke-width="0.80" stroke-linecap="round" opacity="0.80"/>
<path d="M436.6 586.0h0M478.2 572.5h0M447.8 604.3h0M482.3 579.7h0" stroke="#9a6030" stroke-width="1.80" stroke-linecap="round" opacity="0.80"/>
<ellipse cx="452.5" cy="558.5" rx="2.5" ry="3.2" fill="#fafafc"/>
</g>
<rect x="322.70" y="241.30" width="87.90" height="70.00" fill="none" stroke="#333" stroke-width="0.9"/>
<rect x="414.40" y="241.30" width="87.30" height="70.00" fill="none" stroke="#333" stroke-width="0.9"/>
<rect x="322.70" y="315.60" width="87.90" height="69.50" fill="none" stroke="#333" stroke-width="0.9"/>
<rect x="414.40" y="315.60" width="87.30" height="69.50" fill="none" stroke="#333" stroke-width="0.9"/>
<rect x="322.70" y="390.60" width="87.90" height="69.90" fill="none" stroke="#333" stroke-width="0.9"/>
<rect x="414.40" y="390.60" width="87.30" height="69.90" fill="none" stroke="#333" stroke-width="0.9"/>
<rect x="322.70" y="464.20" width="87.90" height="70.30" fill="none" stroke="#333" stroke-width="0.9"/>
<rect x="414.40" y="464.20" width="87.30" height="70.30" fill="none" stroke="#333" stroke-width="0.9"/>
<rect x="322.70" y="538.20" width="87.90" height="70.30" fill="none" stroke="#333" stroke-width="0.9"/>
<rect x="414.40" y="538.20" width="87.30" height="70.30" fill="none" stroke="#333" stroke-width="0.9"/>
<rect x="0.5" y="0.5" width="519" height="668" fill="none" stroke="#000" stroke-width="1.2"/>
</svg></body></html>
